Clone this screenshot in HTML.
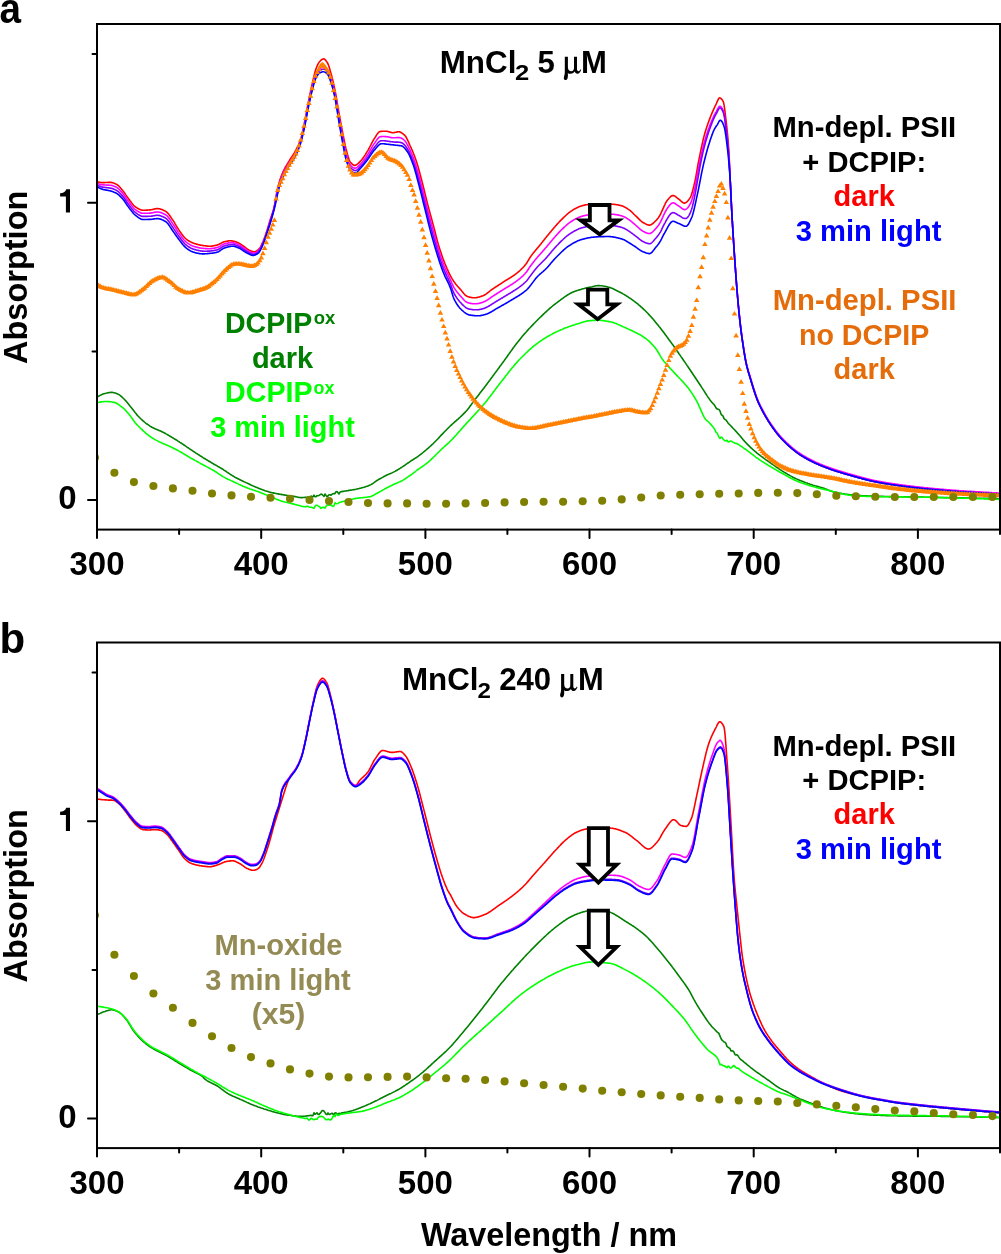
<!DOCTYPE html>
<html><head><meta charset="utf-8"><title>Absorption spectra</title><style>
html,body{margin:0;padding:0;background:#fff;}
body{width:1001px;height:1254px;overflow:hidden;}
svg{display:block;will-change:transform;}
text{font-family:"Liberation Sans", sans-serif;font-weight:bold;fill:#000;}
.t42{font-size:42px;}
.t32{font-size:32.5px;}
.t33{font-size:33px;}
.t31{font-size:31px;}
.t29{font-size:29px;}
.sub{font-size:21px;}
.sup{font-size:19px;}
.mu{font-weight:normal;}
</style></head>
<body><svg width="1001" height="1254" viewBox="0 0 1001 1254"><defs><clipPath id="ca"><rect x="98" y="25" width="901" height="503.6"/></clipPath><clipPath id="cb"><rect x="98" y="643.5" width="901" height="503.6"/></clipPath></defs><g clip-path="url(#ca)" fill="none" stroke-width="1.6" stroke-linejoin="round"><path d="M97,181.6 97.5,181.7 98,181.9 98.5,182 99,182.1 99.5,182.3 100,182.4 100.5,182.5 101,182.5 101.5,182.6 102,182.6 102.5,182.6 103,182.6 103.5,182.6 104,182.6 104.5,182.6 105,182.5 105.5,182.5 106,182.5 106.5,182.5 107,182.5 107.5,182.5 108,182.4 108.5,182.4 109,182.4 109.5,182.4 110,182.4 110.5,182.4 111,182.4 111.5,182.5 112,182.6 112.5,182.7 113,182.8 113.5,183 114,183.2 114.5,183.4 115,183.6 115.5,183.9 116,184.1 116.5,184.4 117,184.6 117.5,185 118,185.3 118.5,185.8 119,186.3 119.5,186.8 120,187.3 120.5,187.9 121,188.5 121.5,189.1 122,189.7 122.5,190.3 123,190.9 123.5,191.5 124,192.2 124.5,192.9 125,193.6 125.5,194.4 126,195.1 126.5,195.9 127,196.6 127.5,197.3 128,198 128.5,198.7 129,199.3 129.5,200 130,200.7 130.5,201.3 131,202 131.5,202.7 132,203.3 132.5,204 133,204.6 133.5,205.2 134,205.7 134.5,206.2 135,206.6 135.5,207 136,207.3 136.5,207.6 137,207.9 137.5,208.2 138,208.5 138.5,208.8 139,209.1 139.5,209.3 140,209.5 140.5,209.7 141,209.9 141.5,210 142,210.1 142.5,210.2 143,210.2 143.5,210.2 144,210.2 144.5,210.2 145,210.2 145.5,210.2 146,210.1 146.5,210.1 147,210.1 147.5,210.1 148,210 148.5,210 149,210 149.5,209.9 150,209.9 150.5,209.9 151,209.8 151.5,209.7 152,209.6 152.5,209.5 153,209.4 153.5,209.3 154,209.1 154.5,209 155,208.9 155.5,208.8 156,208.7 156.5,208.6 157,208.6 157.5,208.6 158,208.6 158.5,208.7 159,208.7 159.5,208.8 160,209 160.5,209.1 161,209.2 161.5,209.4 162,209.6 162.5,209.8 163,210 163.5,210.3 164,210.5 164.5,210.8 165,211 165.5,211.3 166,211.6 166.5,211.9 167,212.4 167.5,212.8 168,213.4 168.5,214 169,214.6 169.5,215.3 170,216 170.5,216.7 171,217.5 171.5,218.2 172,219 172.5,219.7 173,220.4 173.5,221.1 174,221.9 174.5,222.7 175,223.6 175.5,224.4 176,225.3 176.5,226.1 177,227 177.5,227.8 178,228.6 178.5,229.4 179,230.1 179.5,230.9 180,231.6 180.5,232.3 181,233 181.5,233.7 182,234.4 182.5,235.1 183,235.7 183.5,236.3 184,236.9 184.5,237.5 185,238 185.5,238.5 186,238.9 186.5,239.3 187,239.7 187.5,240 188,240.4 188.5,240.7 189,241 189.5,241.3 190,241.6 190.5,241.9 191,242.1 191.5,242.4 192,242.6 192.5,242.8 193,243 193.5,243.2 194,243.3 194.5,243.5 195,243.7 195.5,243.8 196,244 196.5,244.1 197,244.3 197.5,244.4 198,244.5 198.5,244.7 199,244.8 199.5,244.9 200,245 200.5,245.1 201,245.2 201.5,245.3 202,245.4 202.5,245.4 203,245.5 203.5,245.6 204,245.7 204.5,245.7 205,245.8 205.5,245.9 206,245.9 206.5,246 207,246 207.5,246.1 208,246.1 208.5,246.2 209,246.2 209.5,246.2 210,246.2 210.5,246.2 211,246.2 211.5,246.1 212,246.1 212.5,246 213,245.9 213.5,245.8 214,245.7 214.5,245.6 215,245.5 215.5,245.4 216,245.3 216.5,245.2 217,245 217.5,244.9 218,244.7 218.5,244.5 219,244.3 219.5,244.1 220,243.8 220.5,243.5 221,243.2 221.5,242.9 222,242.7 222.5,242.4 223,242.2 223.5,242 224,241.8 224.5,241.7 225,241.6 225.5,241.5 226,241.4 226.5,241.2 227,241.2 227.5,241.1 228,241 228.5,240.9 229,240.9 229.5,240.8 230,240.8 230.5,240.8 231,240.8 231.5,240.9 232,240.9 232.5,241 233,241.1 233.5,241.2 234,241.3 234.5,241.5 235,241.6 235.5,241.7 236,241.9 236.5,242 237,242.2 237.5,242.4 238,242.6 238.5,242.9 239,243.2 239.5,243.5 240,243.8 240.5,244.1 241,244.5 241.5,244.8 242,245.1 242.5,245.5 243,245.8 243.5,246.1 244,246.5 244.5,246.8 245,247.2 245.5,247.6 246,248 246.5,248.4 247,248.8 247.5,249.2 248,249.5 248.5,249.8 249,250.1 249.5,250.4 250,250.6 250.5,250.8 251,251 251.5,251.2 252,251.3 252.5,251.5 253,251.6 253.5,251.7 254,251.8 254.5,251.8 255,251.7 255.5,251.6 256,251.3 256.5,251 257,250.6 257.5,250.2 258,249.8 258.5,249.3 259,248.8 259.5,248.3 260,247.6 260.5,246.8 261,245.8 261.5,244.8 262,243.7 262.5,242.7 263,241.6 263.5,240.4 264,239.1 264.5,237.8 265,236.5 265.5,235 266,233.6 266.5,232.1 267,230.5 267.5,228.9 268,227.2 268.5,225.5 269,223.8 269.5,222.1 270,220.4 270.5,218.8 271,217.3 271.5,215.8 272,214.3 272.5,212.8 273,211.1 273.5,209.4 274,207.4 274.5,205 275,202.3 275.5,199.4 276,196.5 276.5,193.6 277,191 277.5,188.6 278,186.7 278.5,184.8 279,183.1 279.5,181.4 280,179.8 280.5,178.3 281,176.9 281.5,175.6 282,174.3 282.5,173.1 283,171.9 283.5,170.9 284,169.8 284.5,168.9 285,167.9 285.5,167 286,166.2 286.5,165.3 287,164.5 287.5,163.6 288,162.8 288.5,162 289,161.2 289.5,160.3 290,159.5 290.5,158.8 291,158 291.5,157.2 292,156.5 292.5,155.7 293,155 293.5,154.2 294,153.4 294.5,152.6 295,151.7 295.5,150.8 296,149.9 296.5,148.9 297,147.9 297.5,146.9 298,145.9 298.5,144.8 299,143.6 299.5,142.4 300,141 300.5,139.6 301,138 301.5,136.1 302,134.1 302.5,131.8 303,129.5 303.5,127.1 304,124.6 304.5,122.2 305,119.7 305.5,117.2 306,114.5 306.5,111.8 307,109.1 307.5,106.4 308,103.8 308.5,101.3 309,98.8 309.5,96.4 310,94 310.5,91.6 311,89.3 311.5,87 312,84.8 312.5,82.6 313,80.4 313.5,78.1 314,76 314.5,73.9 315,72 315.5,70.3 316,68.8 316.5,67.5 317,66.3 317.5,65.2 318,64.1 318.5,63.2 319,62.4 319.5,61.7 320,61.2 320.5,60.7 321,60.2 321.5,59.8 322,59.5 322.5,59.2 323,59 323.5,58.9 324,59 324.5,59.2 325,59.6 325.5,60.1 326,60.7 326.5,61.4 327,62.2 327.5,63 328,63.9 328.5,65.2 329,66.6 329.5,68.2 330,69.9 330.5,71.7 331,73.5 331.5,75.3 332,77.1 332.5,79.1 333,81.2 333.5,83.4 334,85.6 334.5,87.9 335,90.3 335.5,92.8 336,95.5 336.5,98.4 337,101.3 337.5,104.3 338,107.3 338.5,110.2 339,113.1 339.5,115.8 340,118.6 340.5,121.3 341,124 341.5,126.7 342,129.3 342.5,131.9 343,134.4 343.5,137 344,139.5 344.5,142 345,144.4 345.5,146.7 346,148.9 346.5,150.8 347,152.6 347.5,154.4 348,156.2 348.5,157.8 349,159.3 349.5,160.6 350,161.6 350.5,162.3 351,162.9 351.5,163.4 352,163.9 352.5,164.4 353,164.7 353.5,165 354,165.3 354.5,165.4 355,165.4 355.5,165.3 356,165.1 356.5,164.8 357,164.4 357.5,164 358,163.6 358.5,163.1 359,162.6 359.5,162.1 360,161.6 360.5,161.1 361,160.6 361.5,160 362,159.4 362.5,158.7 363,158 363.5,157.3 364,156.6 364.5,155.8 365,155.1 365.5,154.3 366,153.5 366.5,152.7 367,151.9 367.5,151.1 368,150.3 368.5,149.4 369,148.5 369.5,147.5 370,146.5 370.5,145.5 371,144.6 371.5,143.6 372,142.6 372.5,141.7 373,140.8 373.5,140 374,139.2 374.5,138.4 375,137.6 375.5,136.8 376,136 376.5,135.2 377,134.4 377.5,133.7 378,133 378.5,132.5 379,132 379.5,131.7 380,131.5 380.5,131.5 381,131.4 381.5,131.4 382,131.3 382.5,131.3 383,131.3 383.5,131.3 384,131.2 384.5,131.2 385,131.2 385.5,131.2 386,131.2 386.5,131.2 387,131.3 387.5,131.4 388,131.5 388.5,131.7 389,131.8 389.5,132 390,132.1 390.5,132.3 391,132.4 391.5,132.5 392,132.6 392.5,132.7 393,132.7 393.5,132.7 394,132.6 394.5,132.5 395,132.4 395.5,132.3 396,132.2 396.5,132.1 397,132 397.5,131.9 398,131.8 398.5,131.8 399,131.8 399.5,131.9 400,132 400.5,132.2 401,132.5 401.5,132.8 402,133.1 402.5,133.4 403,133.8 403.5,134.2 404,134.7 404.5,135.1 405,135.6 405.5,136.3 406,137 406.5,137.9 407,138.9 407.5,139.9 408,141 408.5,142.1 409,143.2 409.5,144.4 410,145.5 410.5,146.5 411,147.6 411.5,148.8 412,149.9 412.5,151.1 413,152.3 413.5,153.5 414,154.7 414.5,156 415,157.4 415.5,158.8 416,160.2 416.5,161.7 417,163.3 417.5,164.9 418,166.6 418.5,168.4 419,170.2 419.5,172 420,173.9 420.5,175.8 421,177.7 421.5,179.5 422,181.4 422.5,183.4 423,185.4 423.5,187.4 424,189.5 424.5,191.5 425,193.6 425.5,195.7 426,197.7 426.5,199.7 427,201.7 427.5,203.7 428,205.6 428.5,207.5 429,209.4 429.5,211.2 430,213 430.5,214.9 431,216.7 431.5,218.5 432,220.4 432.5,222.2 433,224.1 433.5,225.9 434,227.9 434.5,229.8 435,231.8 435.5,233.8 436,235.7 436.5,237.7 437,239.6 437.5,241.4 438,243.2 438.5,245 439,246.6 439.5,248.2 440,249.8 440.5,251.3 441,252.8 441.5,254.3 442,255.7 442.5,257.2 443,258.6 443.5,259.9 444,261.2 444.5,262.5 445,263.8 445.5,265 446,266.2 446.5,267.3 447,268.5 447.5,269.6 448,270.7 448.5,271.8 449,272.8 449.5,273.9 450,274.9 450.5,275.9 451,276.8 451.5,277.7 452,278.6 452.5,279.4 453,280.2 453.5,281 454,281.7 454.5,282.4 455,283.1 455.5,283.7 456,284.4 456.5,285 457,285.6 457.5,286.2 458,286.7 458.5,287.3 459,287.8 459.5,288.4 460,288.9 460.5,289.5 461,290.1 461.5,290.7 462,291.3 462.5,291.9 463,292.6 463.5,293.2 464,293.8 464.5,294.3 465,294.9 465.5,295.3 466,295.7 466.5,296.1 467,296.3 467.5,296.5 468,296.7 468.5,296.8 469,297 469.5,297.1 470,297.2 470.5,297.3 471,297.4 471.5,297.5 472,297.6 472.5,297.7 473,297.7 473.5,297.8 474,297.8 474.5,297.8 475,297.8 475.5,297.7 476,297.7 476.5,297.6 477,297.5 477.5,297.4 478,297.3 478.5,297.2 479,297.1 479.5,296.9 480,296.8 480.5,296.6 481,296.4 481.5,296.3 482,296.1 482.5,295.9 483,295.7 483.5,295.5 484,295.3 484.5,295 485,294.7 485.5,294.4 486,294.1 486.5,293.7 487,293.3 487.5,293 488,292.6 488.5,292.2 489,291.8 489.5,291.4 490,291 490.5,290.6 491,290.2 491.5,289.8 492,289.5 492.5,289.1 493,288.8 493.5,288.5 494,288.1 494.5,287.8 495,287.5 495.5,287.1 496,286.8 496.5,286.5 497,286.2 497.5,285.8 498,285.5 498.5,285.2 499,284.8 499.5,284.5 500,284.2 500.5,283.9 501,283.5 501.5,283.2 502,282.9 502.5,282.6 503,282.2 503.5,281.9 504,281.6 504.5,281.3 505,280.9 505.5,280.6 506,280.3 506.5,280 507,279.7 507.5,279.4 508,279.1 508.5,278.8 509,278.5 509.5,278.2 510,277.9 510.5,277.6 511,277.3 511.5,277 512,276.6 512.5,276.3 513,276 513.5,275.6 514,275.3 514.5,275 515,274.6 515.5,274.2 516,273.8 516.5,273.4 517,273 517.5,272.6 518,272.2 518.5,271.8 519,271.4 519.5,270.9 520,270.5 520.5,270 521,269.5 521.5,269 522,268.5 522.5,268 523,267.5 523.5,267 524,266.4 524.5,265.8 525,265.2 525.5,264.6 526,264 526.5,263.3 527,262.5 527.5,261.7 528,260.8 528.5,260 529,259.1 529.5,258.3 530,257.5 530.5,256.8 531,256.1 531.5,255.4 532,254.7 532.5,254.1 533,253.5 533.5,252.8 534,252.2 534.5,251.6 535,251 535.5,250.4 536,249.8 536.5,249.2 537,248.6 537.5,248 538,247.4 538.5,246.8 539,246.2 539.5,245.6 540,245 540.5,244.4 541,243.8 541.5,243.1 542,242.5 542.5,241.9 543,241.2 543.5,240.6 544,240 544.5,239.3 545,238.7 545.5,238.1 546,237.5 546.5,236.8 547,236.2 547.5,235.6 548,235 548.5,234.4 549,233.8 549.5,233.2 550,232.6 550.5,232 551,231.4 551.5,230.8 552,230.2 552.5,229.6 553,229 553.5,228.4 554,227.8 554.5,227.2 555,226.7 555.5,226.1 556,225.5 556.5,224.9 557,224.4 557.5,223.8 558,223.2 558.5,222.7 559,222.2 559.5,221.6 560,221.1 560.5,220.6 561,220.1 561.5,219.6 562,219.1 562.5,218.6 563,218.1 563.5,217.6 564,217.1 564.5,216.7 565,216.2 565.5,215.7 566,215.2 566.5,214.8 567,214.3 567.5,213.9 568,213.5 568.5,213.1 569,212.7 569.5,212.3 570,211.9 570.5,211.5 571,211.2 571.5,210.9 572,210.6 572.5,210.2 573,209.9 573.5,209.6 574,209.3 574.5,209.1 575,208.8 575.5,208.5 576,208.2 576.5,208 577,207.7 577.5,207.5 578,207.2 578.5,207 579,206.8 579.5,206.6 580,206.4 580.5,206.2 581,206.1 581.5,205.9 582,205.8 582.5,205.6 583,205.5 583.5,205.4 584,205.3 584.5,205.1 585,205 585.5,204.9 586,204.8 586.5,204.7 587,204.7 587.5,204.6 588,204.5 588.5,204.5 589,204.4 589.5,204.4 590,204.4 590.5,204.3 591,204.3 591.5,204.2 592,204.2 592.5,204.2 593,204.1 593.5,204.1 594,204.1 594.5,204.1 595,204 595.5,204 596,204 596.5,204 597,203.9 597.5,203.9 598,203.9 598.5,203.9 599,203.9 599.5,203.9 600,203.9 600.5,203.9 601,203.9 601.5,203.9 602,203.9 602.5,203.9 603,203.9 603.5,203.9 604,203.9 604.5,204 605,204 605.5,204 606,204 606.5,204 607,204 607.5,204 608,204.1 608.5,204.1 609,204.1 609.5,204.1 610,204.1 610.5,204.2 611,204.2 611.5,204.2 612,204.2 612.5,204.3 613,204.3 613.5,204.3 614,204.4 614.5,204.4 615,204.5 615.5,204.5 616,204.6 616.5,204.7 617,204.8 617.5,204.8 618,204.9 618.5,205 619,205.2 619.5,205.3 620,205.4 620.5,205.5 621,205.6 621.5,205.8 622,205.9 622.5,206.1 623,206.3 623.5,206.5 624,206.8 624.5,207 625,207.3 625.5,207.5 626,207.8 626.5,208.1 627,208.4 627.5,208.7 628,209.1 628.5,209.4 629,209.7 629.5,210.1 630,210.4 630.5,210.9 631,211.3 631.5,211.7 632,212.2 632.5,212.7 633,213.2 633.5,213.7 634,214.2 634.5,214.7 635,215.2 635.5,215.7 636,216.1 636.5,216.6 637,217.1 637.5,217.6 638,218.1 638.5,218.6 639,219.1 639.5,219.6 640,220.1 640.5,220.6 641,221 641.5,221.5 642,221.8 642.5,222.2 643,222.5 643.5,222.8 644,223.1 644.5,223.3 645,223.6 645.5,223.9 646,224.1 646.5,224.4 647,224.6 647.5,224.7 648,224.9 648.5,225 649,225.1 649.5,225.1 650,225.1 650.5,224.9 651,224.7 651.5,224.5 652,224.1 652.5,223.8 653,223.4 653.5,222.9 654,222.4 654.5,222 655,221.5 655.5,221 656,220.5 656.5,220 657,219.4 657.5,218.8 658,218.2 658.5,217.5 659,216.7 659.5,216 660,215.1 660.5,214.2 661,213.1 661.5,212 662,210.9 662.5,209.8 663,208.7 663.5,207.6 664,206.4 664.5,205.3 665,204.3 665.5,203.2 666,202.3 666.5,201.5 667,200.8 667.5,200.1 668,199.5 668.5,198.9 669,198.3 669.5,197.8 670,197.2 670.5,196.7 671,196.3 671.5,196 672,195.7 672.5,195.6 673,195.5 673.5,195.6 674,195.7 674.5,195.9 675,196.2 675.5,196.6 676,196.9 676.5,197.4 677,197.8 677.5,198.2 678,198.6 678.5,199 679,199.3 679.5,199.7 680,200.1 680.5,200.6 681,201.1 681.5,201.5 682,202 682.5,202.3 683,202.7 683.5,202.9 684,203.1 684.5,203.1 685,203 685.5,202.8 686,202.6 686.5,202.2 687,201.8 687.5,201.2 688,200.7 688.5,200 689,199.4 689.5,198.6 690,197.9 690.5,197.1 691,196 691.5,194.6 692,193.1 692.5,191.3 693,189.4 693.5,187.4 694,185.4 694.5,183.3 695,181.1 695.5,178.6 696,175.9 696.5,173.1 697,170.2 697.5,167.3 698,164.5 698.5,161.8 699,159.3 699.5,156.8 700,154.4 700.5,151.9 701,149.5 701.5,147.1 702,144.8 702.5,142.6 703,140.4 703.5,138.3 704,136.4 704.5,134.5 705,132.7 705.5,131.1 706,129.4 706.5,127.9 707,126.3 707.5,124.9 708,123.4 708.5,122.1 709,120.7 709.5,119.4 710,118.1 710.5,116.8 711,115.5 711.5,114.3 712,113.1 712.5,111.9 713,110.8 713.5,109.7 714,108.6 714.5,107.5 715,106.4 715.5,105.4 716,104.4 716.5,103.3 717,102.1 717.5,100.9 718,99.8 718.5,98.9 719,98.2 719.5,97.9 720,98 720.5,98.2 721,98.5 721.5,99 722,99.6 722.5,100.3 723,101.1 723.5,102.3 724,104.6 724.5,107.8 725,111.7 725.5,116 726,120.2 726.5,124.4 727,129 727.5,134 728,139.6 728.5,146 729,153.3 729.5,163.7 730,175.6 730.5,186.4 731,196.9 731.5,206.8 732,215.9 732.5,224.5 733,232.7 733.5,240.7 734,248.5 734.5,256.1 735,263.4 735.5,270.4 736,277.3 736.5,283.9 737,290.2 737.5,296.2 738,301.8 738.5,307.2 739,312.4 739.5,317.3 740,321.9 740.5,326.3 741,330.4 741.5,334.3 742,337.9 742.5,341.4 743,344.8 743.5,348.1 744,351.3 744.5,354.4 745,357.3 745.5,360.1 746,362.6 746.5,364.9 747,367 747.5,368.9 748,370.7 748.5,372.4 749,374.1 749.5,375.7 750,377.4 750.5,379 751,380.7 751.5,382.4 752,384 752.5,385.7 753,387.3 753.5,388.9 754,390.5 754.5,392 755,393.5 755.5,394.9 756,396.4 756.5,397.8 757,399.1 757.5,400.4 758,401.6 758.5,402.8 759,403.9 759.5,405 760,406 760.5,407 761,408 761.5,409 762,410 762.5,410.9 763,411.8 763.5,412.8 764,413.7 764.5,414.6 765,415.4 765.5,416.3 766,417.2 766.5,418 767,418.9 767.5,419.7 768,420.5 768.5,421.3 769,422.1 769.5,422.9 770,423.7 770.5,424.4 771,425.2 771.5,425.9 772,426.6 772.5,427.3 773,428 773.5,428.7 774,429.4 774.5,430.1 775,430.8 775.5,431.5 776,432.1 776.5,432.8 777,433.4 777.5,434 778,434.7 778.5,435.3 779,435.9 779.5,436.5 780,437 780.5,437.6 781,438.2 781.5,438.7 782,439.2 782.5,439.8 783,440.3 783.5,440.8 784,441.3 784.5,441.8 785,442.3 785.5,442.8 786,443.3 786.5,443.8 787,444.2 787.5,444.7 788,445.2 788.5,445.6 789,446.1 789.5,446.5 790,446.9 790.5,447.4 791,447.8 791.5,448.2 792,448.7 792.5,449.1 793,449.5 793.5,449.9 794,450.3 794.5,450.7 795,451.1 795.5,451.5 796,451.9 796.5,452.3 797,452.6 797.5,453 798,453.4 798.5,453.7 799,454 799.5,454.4 800,454.7 800.5,455 801,455.4 801.5,455.7 802,456 802.5,456.3 803,456.6 803.5,456.9 804,457.2 804.5,457.5 805,457.8 805.5,458 806,458.3 806.5,458.6 807,458.9 807.5,459.2 808,459.4 808.5,459.7 809,460 809.5,460.2 810,460.5 810.5,460.8 811,461 811.5,461.3 812,461.5 812.5,461.8 813,462 813.5,462.3 814,462.5 814.5,462.7 815,463 815.5,463.2 816,463.4 816.5,463.6 817,463.9 817.5,464.1 818,464.3 818.5,464.5 819,464.7 819.5,465 820,465.2 820.5,465.4 821,465.6 821.5,465.8 822,466 822.5,466.2 823,466.4 823.5,466.6 824,466.8 824.5,467 825,467.2 825.5,467.4 826,467.6 826.5,467.8 827,467.9 827.5,468.1 828,468.3 828.5,468.5 829,468.7 829.5,468.9 830,469 830.5,469.2 831,469.4 831.5,469.6 832,469.7 832.5,469.9 833,470.1 833.5,470.2 834,470.4 834.5,470.6 835,470.7 835.5,470.9 836,471.1 836.5,471.2 837,471.4 837.5,471.5 838,471.7 838.5,471.8 839,472 839.5,472.2 840,472.3 840.5,472.5 841,472.6 841.5,472.8 842,472.9 842.5,473.1 843,473.2 843.5,473.4 844,473.5 844.5,473.7 845,473.8 845.5,474 846,474.1 846.5,474.3 847,474.4 847.5,474.5 848,474.7 848.5,474.8 849,475 849.5,475.1 850,475.3 850.5,475.4 851,475.5 851.5,475.7 852,475.8 852.5,476 853,476.1 853.5,476.2 854,476.4 854.5,476.5 855,476.7 855.5,476.8 856,476.9 856.5,477.1 857,477.2 857.5,477.4 858,477.5 858.5,477.6 859,477.8 859.5,477.9 860,478.1 860.5,478.2 861,478.3 861.5,478.5 862,478.6 862.5,478.7 863,478.9 863.5,479 864,479.1 864.5,479.3 865,479.4 865.5,479.5 866,479.7 866.5,479.8 867,479.9 867.5,480 868,480.2 868.5,480.3 869,480.4 869.5,480.5 870,480.6 870.5,480.8 871,480.9 871.5,481 872,481.1 872.5,481.2 873,481.3 873.5,481.4 874,481.5 874.5,481.6 875,481.7 875.5,481.8 876,481.9 876.5,482 877,482.1 877.5,482.2 878,482.3 878.5,482.4 879,482.5 879.5,482.6 880,482.7 880.5,482.8 881,482.9 881.5,483 882,483 882.5,483.1 883,483.2 883.5,483.3 884,483.4 884.5,483.5 885,483.6 885.5,483.6 886,483.7 886.5,483.8 887,483.9 887.5,484 888,484 888.5,484.1 889,484.2 889.5,484.3 890,484.4 890.5,484.4 891,484.5 891.5,484.6 892,484.7 892.5,484.7 893,484.8 893.5,484.9 894,485 894.5,485 895,485.1 895.5,485.2 896,485.3 896.5,485.3 897,485.4 897.5,485.5 898,485.5 898.5,485.6 899,485.7 899.5,485.8 900,485.8 900.5,485.9 901,486 901.5,486 902,486.1 902.5,486.2 903,486.2 903.5,486.3 904,486.4 904.5,486.4 905,486.5 905.5,486.6 906,486.6 906.5,486.7 907,486.7 907.5,486.8 908,486.9 908.5,486.9 909,487 909.5,487.1 910,487.1 910.5,487.2 911,487.2 911.5,487.3 912,487.4 912.5,487.4 913,487.5 913.5,487.5 914,487.6 914.5,487.6 915,487.7 915.5,487.8 916,487.8 916.5,487.9 917,487.9 917.5,488 918,488 918.5,488.1 919,488.1 919.5,488.2 920,488.3 920.5,488.3 921,488.4 921.5,488.4 922,488.5 922.5,488.5 923,488.6 923.5,488.6 924,488.7 924.5,488.7 925,488.8 925.5,488.8 926,488.9 926.5,488.9 927,489 927.5,489 928,489.1 928.5,489.1 929,489.2 929.5,489.2 930,489.3 930.5,489.3 931,489.4 931.5,489.4 932,489.5 932.5,489.5 933,489.6 933.5,489.6 934,489.6 934.5,489.7 935,489.7 935.5,489.8 936,489.8 936.5,489.9 937,489.9 937.5,490 938,490 938.5,490.1 939,490.1 939.5,490.1 940,490.2 940.5,490.2 941,490.3 941.5,490.3 942,490.4 942.5,490.4 943,490.4 943.5,490.5 944,490.5 944.5,490.6 945,490.6 945.5,490.7 946,490.7 946.5,490.7 947,490.8 947.5,490.8 948,490.9 948.5,490.9 949,490.9 949.5,491 950,491 950.5,491.1 951,491.1 951.5,491.1 952,491.2 952.5,491.2 953,491.2 953.5,491.3 954,491.3 954.5,491.4 955,491.4 955.5,491.4 956,491.5 956.5,491.5 957,491.5 957.5,491.6 958,491.6 958.5,491.6 959,491.7 959.5,491.7 960,491.8 960.5,491.8 961,491.8 961.5,491.9 962,491.9 962.5,491.9 963,491.9 963.5,492 964,492 964.5,492 965,492.1 965.5,492.1 966,492.1 966.5,492.2 967,492.2 967.5,492.2 968,492.3 968.5,492.3 969,492.3 969.5,492.4 970,492.4 970.5,492.4 971,492.4 971.5,492.5 972,492.5 972.5,492.5 973,492.6 973.5,492.6 974,492.6 974.5,492.6 975,492.7 975.5,492.7 976,492.7 976.5,492.8 977,492.8 977.5,492.8 978,492.9 978.5,492.9 979,492.9 979.5,492.9 980,493 980.5,493 981,493 981.5,493.1 982,493.1 982.5,493.1 983,493.1 983.5,493.2 984,493.2 984.5,493.2 985,493.3 985.5,493.3 986,493.3 986.5,493.3 987,493.4 987.5,493.4 988,493.4 988.5,493.5 989,493.5 989.5,493.5 990,493.5 990.5,493.6 991,493.6 991.5,493.6 992,493.7 992.5,493.7 993,493.7 993.5,493.7 994,493.8 994.5,493.8 995,493.8 995.5,493.9 996,493.9 996.5,493.9 997,493.9 997.5,494 998,494 998.5,494 999,494 999.5,494.1 1000,494.1" stroke="#ff0000"/><path d="M97,183.3 97.5,183.4 98,183.6 98.5,183.8 99,184 99.5,184.2 100,184.3 100.5,184.5 101,184.6 101.5,184.7 102,184.8 102.5,184.8 103,184.9 103.5,184.9 104,184.9 104.5,185 105,185 105.5,185 106,185 106.5,185 107,185.1 107.5,185.1 108,185.1 108.5,185.1 109,185.1 109.5,185.2 110,185.2 110.5,185.2 111,185.3 111.5,185.4 112,185.5 112.5,185.6 113,185.8 113.5,186 114,186.2 114.5,186.4 115,186.6 115.5,186.8 116,187.1 116.5,187.3 117,187.6 117.5,188 118,188.3 118.5,188.8 119,189.2 119.5,189.7 120,190.3 120.5,190.8 121,191.4 121.5,191.9 122,192.5 122.5,193.1 123,193.7 123.5,194.3 124,195 124.5,195.7 125,196.4 125.5,197.2 126,197.9 126.5,198.6 127,199.4 127.5,200.1 128,200.8 128.5,201.5 129,202.1 129.5,202.8 130,203.5 130.5,204.1 131,204.8 131.5,205.5 132,206.1 132.5,206.7 133,207.3 133.5,207.9 134,208.5 134.5,209 135,209.4 135.5,209.8 136,210.1 136.5,210.5 137,210.8 137.5,211.1 138,211.4 138.5,211.7 139,212 139.5,212.3 140,212.6 140.5,212.8 141,213 141.5,213.1 142,213.2 142.5,213.3 143,213.3 143.5,213.3 144,213.3 144.5,213.3 145,213.3 145.5,213.3 146,213.3 146.5,213.3 147,213.2 147.5,213.2 148,213.2 148.5,213.2 149,213.2 149.5,213.1 150,213.1 150.5,213.1 151,213 151.5,212.9 152,212.9 152.5,212.8 153,212.7 153.5,212.5 154,212.4 154.5,212.3 155,212.2 155.5,212.1 156,212.1 156.5,212 157,212 157.5,212 158,212 158.5,212 159,212.1 159.5,212.2 160,212.3 160.5,212.5 161,212.6 161.5,212.8 162,213 162.5,213.2 163,213.5 163.5,213.7 164,213.9 164.5,214.2 165,214.5 165.5,214.7 166,215 166.5,215.4 167,215.8 167.5,216.3 168,216.9 168.5,217.5 169,218.2 169.5,218.9 170,219.6 170.5,220.4 171,221.1 171.5,221.9 172,222.6 172.5,223.3 173,224.1 173.5,224.8 174,225.5 174.5,226.3 175,227.1 175.5,227.9 176,228.7 176.5,229.6 177,230.4 177.5,231.2 178,231.9 178.5,232.7 179,233.4 179.5,234 180,234.7 180.5,235.4 181,236.1 181.5,236.8 182,237.5 182.5,238.2 183,238.8 183.5,239.4 184,240 184.5,240.5 185,241 185.5,241.5 186,241.9 186.5,242.3 187,242.7 187.5,243.1 188,243.4 188.5,243.8 189,244.1 189.5,244.4 190,244.7 190.5,244.9 191,245.2 191.5,245.4 192,245.7 192.5,245.9 193,246.1 193.5,246.2 194,246.4 194.5,246.6 195,246.7 195.5,246.9 196,247 196.5,247.1 197,247.3 197.5,247.4 198,247.5 198.5,247.6 199,247.8 199.5,247.9 200,248 200.5,248 201,248.1 201.5,248.2 202,248.3 202.5,248.3 203,248.4 203.5,248.4 204,248.5 204.5,248.5 205,248.5 205.5,248.6 206,248.6 206.5,248.6 207,248.6 207.5,248.7 208,248.7 208.5,248.7 209,248.7 209.5,248.7 210,248.7 210.5,248.6 211,248.6 211.5,248.6 212,248.5 212.5,248.4 213,248.4 213.5,248.3 214,248.2 214.5,248.1 215,248 215.5,247.9 216,247.8 216.5,247.6 217,247.5 217.5,247.4 218,247.2 218.5,247 219,246.7 219.5,246.5 220,246.2 220.5,245.9 221,245.5 221.5,245.2 222,244.9 222.5,244.7 223,244.4 223.5,244.2 224,244 224.5,243.8 225,243.7 225.5,243.6 226,243.5 226.5,243.3 227,243.2 227.5,243.1 228,243 228.5,242.9 229,242.9 229.5,242.8 230,242.8 230.5,242.7 231,242.7 231.5,242.7 232,242.7 232.5,242.8 233,242.9 233.5,242.9 234,243 234.5,243.2 235,243.3 235.5,243.4 236,243.6 236.5,243.8 237,243.9 237.5,244.1 238,244.4 238.5,244.6 239,244.9 239.5,245.1 240,245.4 240.5,245.8 241,246.1 241.5,246.4 242,246.8 242.5,247.1 243,247.5 243.5,247.8 244,248.1 244.5,248.5 245,248.8 245.5,249.2 246,249.6 246.5,249.9 247,250.2 247.5,250.6 248,250.9 248.5,251.2 249,251.5 249.5,251.7 250,252 250.5,252.2 251,252.4 251.5,252.5 252,252.7 252.5,252.8 253,252.9 253.5,253 254,253 254.5,253 255,252.9 255.5,252.7 256,252.5 256.5,252.2 257,251.8 257.5,251.4 258,251 258.5,250.6 259,250 259.5,249.5 260,248.7 260.5,247.9 261,246.9 261.5,245.9 262,244.8 262.5,243.7 263,242.6 263.5,241.4 264,240.1 264.5,238.8 265,237.3 265.5,235.9 266,234.4 266.5,232.9 267,231.4 267.5,229.8 268,228.2 268.5,226.6 269,224.9 269.5,223.3 270,221.7 270.5,220.1 271,218.5 271.5,216.9 272,215.4 272.5,213.7 273,212 273.5,210.2 274,208.3 274.5,206 275,203.6 275.5,200.9 276,198.2 276.5,195.5 277,193 277.5,190.6 278,188.6 278.5,186.6 279,184.8 279.5,183.1 280,181.5 280.5,180 281,178.6 281.5,177.3 282,176 282.5,174.8 283,173.7 283.5,172.6 284,171.6 284.5,170.6 285,169.7 285.5,168.7 286,167.8 286.5,167 287,166.1 287.5,165.3 288,164.5 288.5,163.7 289,162.8 289.5,162 290,161.3 290.5,160.6 291,159.8 291.5,159.1 292,158.4 292.5,157.7 293,157 293.5,156.2 294,155.5 294.5,154.7 295,153.8 295.5,152.9 296,152 296.5,151 297,150 297.5,149 298,147.9 298.5,146.7 299,145.5 299.5,144.2 300,142.8 300.5,141.4 301,139.8 301.5,138 302,136 302.5,133.9 303,131.7 303.5,129.5 304,127.2 304.5,124.9 305,122.4 305.5,119.9 306,117.2 306.5,114.5 307,111.8 307.5,109.2 308,106.6 308.5,104.2 309,101.8 309.5,99.5 310,97.2 310.5,95 311,92.8 311.5,90.7 312,88.6 312.5,86.6 313,84.6 313.5,82.5 314,80.6 314.5,78.7 315,77 315.5,75.6 316,74.4 316.5,73.3 317,72.3 317.5,71.4 318,70.6 318.5,69.9 319,69.3 319.5,68.8 320,68.4 320.5,68.1 321,67.8 321.5,67.5 322,67.3 322.5,67.1 323,67 323.5,66.9 324,66.9 324.5,67.1 325,67.3 325.5,67.7 326,68.2 326.5,68.7 327,69.2 327.5,69.8 328,70.6 328.5,71.6 329,72.8 329.5,74.2 330,75.7 330.5,77.2 331,78.8 331.5,80.4 332,82.1 332.5,83.9 333,85.8 333.5,87.9 334,90 334.5,92.3 335,94.6 335.5,97.1 336,99.8 336.5,102.7 337,105.7 337.5,108.8 338,111.8 338.5,114.8 339,117.7 339.5,120.5 340,123.3 340.5,126.1 341,128.9 341.5,131.6 342,134.2 342.5,136.8 343,139.3 343.5,141.8 344,144.4 344.5,146.9 345,149.2 345.5,151.5 346,153.5 346.5,155.3 347,156.9 347.5,158.5 348,160.1 348.5,161.5 349,162.8 349.5,163.9 350,164.8 350.5,165.4 351,165.9 351.5,166.3 352,166.8 352.5,167.2 353,167.5 353.5,167.8 354,168 354.5,168.1 355,168.1 355.5,168.1 356,167.9 356.5,167.7 357,167.4 357.5,167 358,166.5 358.5,166 359,165.5 359.5,165 360,164.5 360.5,164 361,163.5 361.5,163 362,162.4 362.5,161.8 363,161.1 363.5,160.5 364,159.8 364.5,159.1 365,158.4 365.5,157.7 366,157 366.5,156.2 367,155.5 367.5,154.8 368,154 368.5,153.2 369,152.3 369.5,151.5 370,150.6 370.5,149.7 371,148.8 371.5,147.9 372,147.1 372.5,146.2 373,145.4 373.5,144.7 374,143.9 374.5,143.3 375,142.6 375.5,141.8 376,141.1 376.5,140.4 377,139.7 377.5,139 378,138.4 378.5,137.9 379,137.4 379.5,137.1 380,136.8 380.5,136.7 381,136.6 381.5,136.6 382,136.5 382.5,136.5 383,136.5 383.5,136.5 384,136.5 384.5,136.5 385,136.6 385.5,136.6 386,136.6 386.5,136.7 387,136.7 387.5,136.8 388,136.9 388.5,137 389,137.1 389.5,137.2 390,137.3 390.5,137.5 391,137.6 391.5,137.6 392,137.7 392.5,137.8 393,137.8 393.5,137.8 394,137.8 394.5,137.8 395,137.8 395.5,137.7 396,137.7 396.5,137.6 397,137.6 397.5,137.6 398,137.5 398.5,137.5 399,137.6 399.5,137.6 400,137.7 400.5,137.9 401,138.1 401.5,138.3 402,138.5 402.5,138.8 403,139.2 403.5,139.6 404,140 404.5,140.5 405,141.1 405.5,141.7 406,142.4 406.5,143.2 407,144.1 407.5,144.9 408,145.9 408.5,146.9 409,147.9 409.5,149 410,150.1 410.5,151.2 411,152.3 411.5,153.5 412,154.6 412.5,155.9 413,157.1 413.5,158.4 414,159.7 414.5,161.1 415,162.6 415.5,164.1 416,165.7 416.5,167.3 417,168.9 417.5,170.7 418,172.4 418.5,174.2 419,176 419.5,177.9 420,179.7 420.5,181.6 421,183.5 421.5,185.4 422,187.3 422.5,189.3 423,191.3 423.5,193.2 424,195.3 424.5,197.3 425,199.3 425.5,201.3 426,203.4 426.5,205.4 427,207.4 427.5,209.3 428,211.3 428.5,213.2 429,215 429.5,216.9 430,218.8 430.5,220.6 431,222.4 431.5,224.3 432,226.1 432.5,227.9 433,229.8 433.5,231.6 434,233.4 434.5,235.3 435,237.2 435.5,239.1 436,240.9 436.5,242.7 437,244.5 437.5,246.3 438,248 438.5,249.7 439,251.3 439.5,252.9 440,254.4 440.5,256 441,257.4 441.5,258.9 442,260.3 442.5,261.7 443,263.1 443.5,264.4 444,265.7 444.5,266.9 445,268.1 445.5,269.2 446,270.4 446.5,271.5 447,272.6 447.5,273.7 448,274.7 448.5,275.8 449,276.9 449.5,277.9 450,279 450.5,280.1 451,281.2 451.5,282.4 452,283.5 452.5,284.6 453,285.7 453.5,286.7 454,287.6 454.5,288.4 455,289.2 455.5,289.9 456,290.6 456.5,291.3 457,292 457.5,292.6 458,293.2 458.5,293.8 459,294.4 459.5,295 460,295.6 460.5,296.1 461,296.6 461.5,297.2 462,297.8 462.5,298.3 463,298.9 463.5,299.4 464,300 464.5,300.5 465,301 465.5,301.4 466,301.8 466.5,302.1 467,302.4 467.5,302.5 468,302.7 468.5,302.9 469,303 469.5,303.2 470,303.3 470.5,303.4 471,303.5 471.5,303.5 472,303.6 472.5,303.7 473,303.7 473.5,303.8 474,303.8 474.5,303.8 475,303.8 475.5,303.8 476,303.8 476.5,303.7 477,303.7 477.5,303.6 478,303.5 478.5,303.5 479,303.4 479.5,303.2 480,303.1 480.5,303 481,302.8 481.5,302.7 482,302.5 482.5,302.4 483,302.2 483.5,302 484,301.8 484.5,301.6 485,301.4 485.5,301.1 486,300.8 486.5,300.5 487,300.2 487.5,299.9 488,299.6 488.5,299.2 489,298.9 489.5,298.5 490,298.2 490.5,297.8 491,297.5 491.5,297.1 492,296.8 492.5,296.4 493,296.1 493.5,295.8 494,295.5 494.5,295.1 495,294.8 495.5,294.5 496,294.2 496.5,293.8 497,293.5 497.5,293.2 498,292.9 498.5,292.6 499,292.3 499.5,292 500,291.6 500.5,291.3 501,291 501.5,290.7 502,290.4 502.5,290.1 503,289.8 503.5,289.4 504,289.1 504.5,288.8 505,288.5 505.5,288.2 506,287.9 506.5,287.6 507,287.3 507.5,287 508,286.7 508.5,286.4 509,286.1 509.5,285.8 510,285.4 510.5,285.1 511,284.8 511.5,284.5 512,284.2 512.5,283.9 513,283.5 513.5,283.2 514,282.9 514.5,282.6 515,282.2 515.5,281.9 516,281.5 516.5,281.1 517,280.8 517.5,280.4 518,280 518.5,279.6 519,279.2 519.5,278.8 520,278.4 520.5,278 521,277.5 521.5,277.1 522,276.7 522.5,276.2 523,275.7 523.5,275.2 524,274.7 524.5,274.2 525,273.7 525.5,273.1 526,272.5 526.5,271.9 527,271.3 527.5,270.5 528,269.8 528.5,269 529,268.2 529.5,267.4 530,266.7 530.5,266 531,265.3 531.5,264.7 532,264 532.5,263.3 533,262.7 533.5,262 534,261.4 534.5,260.8 535,260.1 535.5,259.5 536,258.9 536.5,258.3 537,257.7 537.5,257.2 538,256.6 538.5,256 539,255.4 539.5,254.9 540,254.3 540.5,253.8 541,253.2 541.5,252.6 542,252.1 542.5,251.5 543,250.9 543.5,250.4 544,249.8 544.5,249.2 545,248.6 545.5,248 546,247.5 546.5,246.9 547,246.3 547.5,245.7 548,245.1 548.5,244.5 549,243.9 549.5,243.3 550,242.7 550.5,242.1 551,241.5 551.5,240.9 552,240.3 552.5,239.7 553,239.1 553.5,238.5 554,237.9 554.5,237.3 555,236.8 555.5,236.2 556,235.6 556.5,235.1 557,234.5 557.5,234 558,233.4 558.5,232.9 559,232.4 559.5,231.9 560,231.3 560.5,230.8 561,230.3 561.5,229.8 562,229.3 562.5,228.9 563,228.4 563.5,227.9 564,227.4 564.5,226.9 565,226.5 565.5,226 566,225.6 566.5,225.1 567,224.7 567.5,224.3 568,223.8 568.5,223.5 569,223.1 569.5,222.7 570,222.3 570.5,222 571,221.7 571.5,221.3 572,221 572.5,220.7 573,220.4 573.5,220.1 574,219.8 574.5,219.5 575,219.3 575.5,219 576,218.7 576.5,218.5 577,218.2 577.5,218 578,217.7 578.5,217.5 579,217.3 579.5,217.1 580,216.9 580.5,216.7 581,216.5 581.5,216.4 582,216.2 582.5,216.1 583,216 583.5,215.8 584,215.7 584.5,215.6 585,215.5 585.5,215.4 586,215.3 586.5,215.2 587,215.1 587.5,215 588,214.9 588.5,214.8 589,214.8 589.5,214.7 590,214.7 590.5,214.6 591,214.6 591.5,214.5 592,214.5 592.5,214.4 593,214.4 593.5,214.3 594,214.3 594.5,214.2 595,214.2 595.5,214.2 596,214.2 596.5,214.1 597,214.1 597.5,214.1 598,214.1 598.5,214 599,214 599.5,214 600,214 600.5,214 601,214 601.5,214 602,214 602.5,214 603,214 603.5,214 604,214 604.5,214 605,214 605.5,214 606,214 606.5,214 607,214 607.5,214 608,214 608.5,214 609,214 609.5,214 610,214.1 610.5,214.1 611,214.1 611.5,214.2 612,214.2 612.5,214.2 613,214.3 613.5,214.3 614,214.4 614.5,214.4 615,214.5 615.5,214.6 616,214.6 616.5,214.7 617,214.8 617.5,214.9 618,215 618.5,215.1 619,215.2 619.5,215.3 620,215.4 620.5,215.6 621,215.7 621.5,215.8 622,216 622.5,216.2 623,216.4 623.5,216.6 624,216.8 624.5,217 625,217.3 625.5,217.6 626,217.8 626.5,218.1 627,218.4 627.5,218.7 628,219 628.5,219.4 629,219.7 629.5,220 630,220.4 630.5,220.8 631,221.2 631.5,221.6 632,222 632.5,222.4 633,222.9 633.5,223.3 634,223.7 634.5,224.2 635,224.6 635.5,225 636,225.5 636.5,225.9 637,226.3 637.5,226.8 638,227.2 638.5,227.7 639,228.2 639.5,228.6 640,229.1 640.5,229.5 641,229.9 641.5,230.3 642,230.6 642.5,231 643,231.2 643.5,231.5 644,231.7 644.5,232 645,232.2 645.5,232.5 646,232.7 646.5,232.9 647,233.1 647.5,233.2 648,233.4 648.5,233.5 649,233.5 649.5,233.5 650,233.5 650.5,233.3 651,233.1 651.5,232.8 652,232.4 652.5,232 653,231.5 653.5,231 654,230.5 654.5,229.9 655,229.4 655.5,228.8 656,228.3 656.5,227.8 657,227.2 657.5,226.6 658,225.9 658.5,225.2 659,224.5 659.5,223.7 660,222.9 660.5,222 661,220.9 661.5,219.9 662,218.8 662.5,217.7 663,216.6 663.5,215.5 664,214.4 664.5,213.4 665,212.4 665.5,211.4 666,210.5 666.5,209.6 667,208.8 667.5,208.1 668,207.4 668.5,206.7 669,206 669.5,205.4 670,204.8 670.5,204.3 671,203.8 671.5,203.4 672,203.1 672.5,203 673,202.9 673.5,202.9 674,203.1 674.5,203.3 675,203.5 675.5,203.8 676,204.2 676.5,204.5 677,204.9 677.5,205.3 678,205.6 678.5,205.9 679,206.2 679.5,206.6 680,206.9 680.5,207.3 681,207.7 681.5,208.1 682,208.5 682.5,208.9 683,209.1 683.5,209.4 684,209.5 684.5,209.6 685,209.6 685.5,209.4 686,209.2 686.5,208.9 687,208.5 687.5,208 688,207.4 688.5,206.7 689,206 689.5,205.2 690,204.4 690.5,203.5 691,202.4 691.5,201 692,199.5 692.5,197.8 693,196 693.5,194 694,191.9 694.5,189.8 695,187.5 695.5,185.1 696,182.4 696.5,179.7 697,176.9 697.5,174.2 698,171.4 698.5,168.8 699,166.2 699.5,163.7 700,161.1 700.5,158.7 701,156.3 701.5,154 702,151.7 702.5,149.5 703,147.4 703.5,145.4 704,143.5 704.5,141.6 705,139.9 705.5,138.2 706,136.6 706.5,135 707,133.4 707.5,132 708,130.5 708.5,129.1 709,127.8 709.5,126.4 710,125.1 710.5,123.8 711,122.6 711.5,121.3 712,120.1 712.5,119 713,117.8 713.5,116.8 714,115.7 714.5,114.7 715,113.8 715.5,112.9 716,112.1 716.5,111.2 717,110.2 717.5,109.2 718,108.3 718.5,107.4 719,106.7 719.5,106.3 720,106.2 720.5,106.4 721,106.8 721.5,107.4 722,108.2 722.5,109.1 723,110.1 723.5,111.3 724,113.3 724.5,116.1 725,119.5 725.5,123.3 726,127.3 726.5,131.4 727,135.8 727.5,140.5 728,145.6 728.5,151.4 729,157.9 729.5,166.4 730,176 730.5,185.6 731,196.1 731.5,206.4 732,215.5 732.5,224 733,232.1 733.5,240.1 734,247.8 734.5,255.4 735,262.6 735.5,269.6 736,276.4 736.5,283 737,289.3 737.5,295.1 738,300.7 738.5,306.1 739,311.2 739.5,316 740,320.6 740.5,325 741,329.1 741.5,333 742,336.6 742.5,340.1 743,343.5 743.5,346.8 744,350 744.5,353.1 745,356 745.5,358.8 746,361.3 746.5,363.6 747,365.7 747.5,367.6 748,369.4 748.5,371.2 749,372.8 749.5,374.4 750,376.1 750.5,377.7 751,379.4 751.5,381.1 752,382.8 752.5,384.4 753,386.1 753.5,387.7 754,389.2 754.5,390.7 755,392.2 755.5,393.7 756,395.1 756.5,396.5 757,397.8 757.5,399.1 758,400.3 758.5,401.5 759,402.6 759.5,403.7 760,404.7 760.5,405.8 761,406.8 761.5,407.7 762,408.7 762.5,409.6 763,410.6 763.5,411.5 764,412.4 764.5,413.3 765,414.2 765.5,415.1 766,415.9 766.5,416.8 767,417.6 767.5,418.4 768,419.3 768.5,420.1 769,420.9 769.5,421.6 770,422.4 770.5,423.2 771,423.9 771.5,424.6 772,425.4 772.5,426.1 773,426.8 773.5,427.5 774,428.2 774.5,428.9 775,429.5 775.5,430.2 776,430.9 776.5,431.5 777,432.1 777.5,432.8 778,433.4 778.5,434 779,434.6 779.5,435.2 780,435.8 780.5,436.3 781,436.9 781.5,437.5 782,438 782.5,438.5 783,439 783.5,439.6 784,440.1 784.5,440.6 785,441.1 785.5,441.6 786,442 786.5,442.5 787,443 787.5,443.4 788,443.9 788.5,444.4 789,444.8 789.5,445.3 790,445.7 790.5,446.1 791,446.6 791.5,447 792,447.4 792.5,447.8 793,448.3 793.5,448.7 794,449.1 794.5,449.5 795,449.9 795.5,450.3 796,450.7 796.5,451 797,451.4 797.5,451.8 798,452.1 798.5,452.5 799,452.8 799.5,453.1 800,453.5 800.5,453.8 801,454.1 801.5,454.4 802,454.8 802.5,455.1 803,455.4 803.5,455.7 804,456 804.5,456.2 805,456.5 805.5,456.8 806,457.1 806.5,457.4 807,457.7 807.5,457.9 808,458.2 808.5,458.5 809,458.7 809.5,459 810,459.3 810.5,459.5 811,459.8 811.5,460 812,460.3 812.5,460.5 813,460.8 813.5,461 814,461.3 814.5,461.5 815,461.7 815.5,462 816,462.2 816.5,462.4 817,462.7 817.5,462.9 818,463.1 818.5,463.3 819,463.5 819.5,463.7 820,464 820.5,464.2 821,464.4 821.5,464.6 822,464.8 822.5,465 823,465.2 823.5,465.4 824,465.6 824.5,465.8 825,466 825.5,466.2 826,466.4 826.5,466.6 827,466.8 827.5,466.9 828,467.1 828.5,467.3 829,467.5 829.5,467.7 830,467.8 830.5,468 831,468.2 831.5,468.4 832,468.5 832.5,468.7 833,468.9 833.5,469 834,469.2 834.5,469.4 835,469.5 835.5,469.7 836,469.9 836.5,470 837,470.2 837.5,470.3 838,470.5 838.5,470.7 839,470.8 839.5,471 840,471.1 840.5,471.3 841,471.4 841.5,471.6 842,471.7 842.5,471.9 843,472 843.5,472.2 844,472.3 844.5,472.5 845,472.6 845.5,472.8 846,472.9 846.5,473.1 847,473.2 847.5,473.4 848,473.5 848.5,473.7 849,473.8 849.5,473.9 850,474.1 850.5,474.2 851,474.4 851.5,474.5 852,474.6 852.5,474.8 853,474.9 853.5,475.1 854,475.2 854.5,475.4 855,475.5 855.5,475.6 856,475.8 856.5,475.9 857,476.1 857.5,476.2 858,476.3 858.5,476.5 859,476.6 859.5,476.8 860,476.9 860.5,477 861,477.2 861.5,477.3 862,477.4 862.5,477.6 863,477.7 863.5,477.8 864,478 864.5,478.1 865,478.2 865.5,478.4 866,478.5 866.5,478.6 867,478.8 867.5,478.9 868,479 868.5,479.1 869,479.3 869.5,479.4 870,479.5 870.5,479.6 871,479.7 871.5,479.8 872,479.9 872.5,480.1 873,480.2 873.5,480.3 874,480.4 874.5,480.5 875,480.6 875.5,480.7 876,480.8 876.5,480.9 877,481 877.5,481.1 878,481.2 878.5,481.3 879,481.4 879.5,481.5 880,481.5 880.5,481.6 881,481.7 881.5,481.8 882,481.9 882.5,482 883,482.1 883.5,482.2 884,482.3 884.5,482.3 885,482.4 885.5,482.5 886,482.6 886.5,482.7 887,482.8 887.5,482.8 888,482.9 888.5,483 889,483.1 889.5,483.2 890,483.2 890.5,483.3 891,483.4 891.5,483.5 892,483.5 892.5,483.6 893,483.7 893.5,483.8 894,483.8 894.5,483.9 895,484 895.5,484.1 896,484.1 896.5,484.2 897,484.3 897.5,484.4 898,484.4 898.5,484.5 899,484.6 899.5,484.6 900,484.7 900.5,484.8 901,484.8 901.5,484.9 902,485 902.5,485 903,485.1 903.5,485.2 904,485.2 904.5,485.3 905,485.4 905.5,485.4 906,485.5 906.5,485.6 907,485.6 907.5,485.7 908,485.8 908.5,485.8 909,485.9 909.5,485.9 910,486 910.5,486.1 911,486.1 911.5,486.2 912,486.2 912.5,486.3 913,486.4 913.5,486.4 914,486.5 914.5,486.5 915,486.6 915.5,486.7 916,486.7 916.5,486.8 917,486.8 917.5,486.9 918,486.9 918.5,487 919,487 919.5,487.1 920,487.2 920.5,487.2 921,487.3 921.5,487.3 922,487.4 922.5,487.4 923,487.5 923.5,487.5 924,487.6 924.5,487.6 925,487.7 925.5,487.7 926,487.8 926.5,487.8 927,487.9 927.5,487.9 928,488 928.5,488 929,488.1 929.5,488.1 930,488.2 930.5,488.2 931,488.3 931.5,488.3 932,488.4 932.5,488.4 933,488.5 933.5,488.5 934,488.6 934.5,488.6 935,488.7 935.5,488.7 936,488.8 936.5,488.8 937,488.8 937.5,488.9 938,488.9 938.5,489 939,489 939.5,489.1 940,489.1 940.5,489.2 941,489.2 941.5,489.2 942,489.3 942.5,489.3 943,489.4 943.5,489.4 944,489.5 944.5,489.5 945,489.5 945.5,489.6 946,489.6 946.5,489.7 947,489.7 947.5,489.8 948,489.8 948.5,489.8 949,489.9 949.5,489.9 950,490 950.5,490 951,490 951.5,490.1 952,490.1 952.5,490.2 953,490.2 953.5,490.2 954,490.3 954.5,490.3 955,490.3 955.5,490.4 956,490.4 956.5,490.5 957,490.5 957.5,490.5 958,490.6 958.5,490.6 959,490.6 959.5,490.7 960,490.7 960.5,490.7 961,490.8 961.5,490.8 962,490.8 962.5,490.9 963,490.9 963.5,490.9 964,491 964.5,491 965,491 965.5,491.1 966,491.1 966.5,491.1 967,491.2 967.5,491.2 968,491.2 968.5,491.3 969,491.3 969.5,491.3 970,491.3 970.5,491.4 971,491.4 971.5,491.4 972,491.5 972.5,491.5 973,491.5 973.5,491.6 974,491.6 974.5,491.6 975,491.6 975.5,491.7 976,491.7 976.5,491.7 977,491.8 977.5,491.8 978,491.8 978.5,491.9 979,491.9 979.5,491.9 980,491.9 980.5,492 981,492 981.5,492 982,492.1 982.5,492.1 983,492.1 983.5,492.2 984,492.2 984.5,492.2 985,492.2 985.5,492.3 986,492.3 986.5,492.3 987,492.4 987.5,492.4 988,492.4 988.5,492.4 989,492.5 989.5,492.5 990,492.5 990.5,492.6 991,492.6 991.5,492.6 992,492.7 992.5,492.7 993,492.7 993.5,492.7 994,492.8 994.5,492.8 995,492.8 995.5,492.8 996,492.9 996.5,492.9 997,492.9 997.5,493 998,493 998.5,493 999,493 999.5,493.1 1000,493.1" stroke="#ff00ff"/><path d="M97,184.9 97.5,185.2 98,185.4 98.5,185.7 99,185.9 99.5,186.1 100,186.3 100.5,186.5 101,186.7 101.5,186.9 102,187 102.5,187.1 103,187.2 103.5,187.3 104,187.3 104.5,187.4 105,187.5 105.5,187.5 106,187.6 106.5,187.6 107,187.7 107.5,187.7 108,187.8 108.5,187.8 109,187.9 109.5,188 110,188.1 110.5,188.1 111,188.2 111.5,188.4 112,188.5 112.5,188.6 113,188.8 113.5,189 114,189.2 114.5,189.4 115,189.6 115.5,189.9 116,190.1 116.5,190.4 117,190.7 117.5,191 118,191.4 118.5,191.8 119,192.2 119.5,192.7 120,193.2 120.5,193.7 121,194.3 121.5,194.8 122,195.4 122.5,195.9 123,196.5 123.5,197.1 124,197.8 124.5,198.5 125,199.2 125.5,200 126,200.7 126.5,201.5 127,202.2 127.5,202.9 128,203.6 128.5,204.3 129,204.9 129.5,205.6 130,206.3 130.5,206.9 131,207.6 131.5,208.3 132,208.9 132.5,209.5 133,210.1 133.5,210.7 134,211.2 134.5,211.7 135,212.2 135.5,212.6 136,213 136.5,213.3 137,213.7 137.5,214 138,214.4 138.5,214.7 139,215 139.5,215.3 140,215.6 140.5,215.8 141,216 141.5,216.2 142,216.3 142.5,216.4 143,216.4 143.5,216.4 144,216.4 144.5,216.4 145,216.4 145.5,216.4 146,216.4 146.5,216.4 147,216.4 147.5,216.4 148,216.3 148.5,216.3 149,216.3 149.5,216.3 150,216.3 150.5,216.2 151,216.2 151.5,216.1 152,216.1 152.5,216 153,215.9 153.5,215.8 154,215.7 154.5,215.6 155,215.5 155.5,215.5 156,215.4 156.5,215.3 157,215.3 157.5,215.3 158,215.3 158.5,215.4 159,215.4 159.5,215.5 160,215.7 160.5,215.8 161,216 161.5,216.2 162,216.4 162.5,216.6 163,216.8 163.5,217.1 164,217.3 164.5,217.6 165,217.8 165.5,218.1 166,218.4 166.5,218.8 167,219.3 167.5,219.8 168,220.4 168.5,221 169,221.7 169.5,222.4 170,223.2 170.5,223.9 171,224.7 171.5,225.4 172,226.2 172.5,226.9 173,227.6 173.5,228.3 174,229.1 174.5,229.8 175,230.6 175.5,231.3 176,232.1 176.5,232.9 177,233.6 177.5,234.4 178,235.1 178.5,235.8 179,236.5 179.5,237.2 180,237.8 180.5,238.5 181,239.2 181.5,239.9 182,240.5 182.5,241.2 183,241.8 183.5,242.4 184,242.9 184.5,243.5 185,244 185.5,244.5 186,244.9 186.5,245.3 187,245.6 187.5,246 188,246.4 188.5,246.7 189,247 189.5,247.3 190,247.6 190.5,247.9 191,248.2 191.5,248.4 192,248.6 192.5,248.9 193,249 193.5,249.2 194,249.3 194.5,249.5 195,249.6 195.5,249.8 196,249.9 196.5,250.1 197,250.2 197.5,250.3 198,250.4 198.5,250.5 199,250.6 199.5,250.7 200,250.8 200.5,250.9 201,251 201.5,251 202,251.1 202.5,251.1 203,251.1 203.5,251.2 204,251.2 204.5,251.2 205,251.2 205.5,251.2 206,251.2 206.5,251.2 207,251.2 207.5,251.1 208,251.1 208.5,251.1 209,251.1 209.5,251.1 210,251 210.5,251 211,250.9 211.5,250.9 212,250.8 212.5,250.8 213,250.7 213.5,250.6 214,250.5 214.5,250.4 215,250.3 215.5,250.2 216,250.1 216.5,250 217,249.9 217.5,249.7 218,249.6 218.5,249.3 219,249.1 219.5,248.8 220,248.4 220.5,248.1 221,247.8 221.5,247.4 222,247.1 222.5,246.8 223,246.5 223.5,246.3 224,246.1 224.5,245.9 225,245.7 225.5,245.6 226,245.5 226.5,245.3 227,245.2 227.5,245.1 228,245 228.5,244.9 229,244.8 229.5,244.7 230,244.6 230.5,244.5 231,244.5 231.5,244.5 232,244.5 232.5,244.5 233,244.5 233.5,244.6 234,244.7 234.5,244.8 235,244.9 235.5,245.1 236,245.2 236.5,245.4 237,245.6 237.5,245.8 238,246 238.5,246.2 239,246.5 239.5,246.7 240,247 240.5,247.3 241,247.6 241.5,248 242,248.3 242.5,248.7 243,249 243.5,249.4 244,249.7 244.5,250 245,250.4 245.5,250.7 246,251 246.5,251.3 247,251.6 247.5,251.9 248,252.2 248.5,252.5 249,252.8 249.5,253 250,253.3 250.5,253.5 251,253.7 251.5,253.8 252,254 252.5,254.1 253,254.2 253.5,254.2 254,254.2 254.5,254.1 255,254 255.5,253.8 256,253.5 256.5,253.2 257,252.9 257.5,252.6 258,252.2 258.5,251.8 259,251.2 259.5,250.6 260,249.8 260.5,248.9 261,247.9 261.5,246.9 262,245.8 262.5,244.7 263,243.6 263.5,242.4 264,241 264.5,239.6 265,238.2 265.5,236.7 266,235.2 266.5,233.7 267,232.2 267.5,230.7 268,229.2 268.5,227.6 269,226 269.5,224.4 270,222.8 270.5,221.2 271,219.6 271.5,218 272,216.3 272.5,214.6 273,212.9 273.5,211 274,209.1 274.5,207 275,204.7 275.5,202.3 276,199.8 276.5,197.3 277,194.8 277.5,192.5 278,190.3 278.5,188.3 279,186.4 279.5,184.6 280,183 280.5,181.5 281,180.1 281.5,178.8 282,177.6 282.5,176.4 283,175.3 283.5,174.2 284,173.2 284.5,172.2 285,171.2 285.5,170.3 286,169.4 286.5,168.5 287,167.6 287.5,166.8 288,166 288.5,165.2 289,164.4 289.5,163.6 290,162.9 290.5,162.2 291,161.4 291.5,160.7 292,160 292.5,159.3 293,158.6 293.5,157.8 294,157 294.5,156.2 295,155.3 295.5,154.4 296,153.4 296.5,152.4 297,151.3 297.5,150.2 298,149.1 298.5,147.9 299,146.6 299.5,145.2 300,143.8 300.5,142.4 301,140.8 301.5,139 302,137 302.5,135 303,132.8 303.5,130.6 304,128.3 304.5,126 305,123.6 305.5,121 306,118.3 306.5,115.6 307,112.9 307.5,110.2 308,107.7 308.5,105.2 309,102.9 309.5,100.5 310,98.3 310.5,96 311,93.9 311.5,91.8 312,89.8 312.5,87.8 313,85.8 313.5,83.8 314,81.9 314.5,80.1 315,78.5 315.5,77.1 316,76 316.5,75 317,74.1 317.5,73.2 318,72.4 318.5,71.8 319,71.2 319.5,70.8 320,70.4 320.5,70.2 321,69.9 321.5,69.6 322,69.4 322.5,69.3 323,69.2 323.5,69.1 324,69.1 324.5,69.3 325,69.5 325.5,69.9 326,70.3 326.5,70.8 327,71.3 327.5,71.8 328,72.6 328.5,73.5 329,74.7 329.5,76 330,77.5 330.5,79 331,80.5 331.5,82.1 332,83.7 332.5,85.5 333,87.4 333.5,89.5 334,91.6 334.5,93.8 335,96.1 335.5,98.6 336,101.3 336.5,104.3 337,107.4 337.5,110.5 338,113.6 338.5,116.7 339,119.6 339.5,122.5 340,125.4 340.5,128.3 341,131.1 341.5,133.9 342,136.6 342.5,139.2 343,141.8 343.5,144.4 344,147 344.5,149.5 345,152 345.5,154.2 346,156.2 346.5,158 347,159.6 347.5,161.1 348,162.6 348.5,163.9 349,165.1 349.5,166.2 350,167 350.5,167.6 351,168.1 351.5,168.6 352,169 352.5,169.4 353,169.8 353.5,170.1 354,170.3 354.5,170.5 355,170.5 355.5,170.6 356,170.5 356.5,170.3 357,169.9 357.5,169.5 358,169 358.5,168.5 359,167.9 359.5,167.4 360,166.9 360.5,166.4 361,165.9 361.5,165.4 362,164.9 362.5,164.3 363,163.7 363.5,163 364,162.4 364.5,161.7 365,161.1 365.5,160.4 366,159.8 366.5,159.1 367,158.4 367.5,157.7 368,157 368.5,156.2 369,155.5 369.5,154.7 370,153.9 370.5,153 371,152.2 371.5,151.4 372,150.6 372.5,149.9 373,149.2 373.5,148.5 374,147.8 374.5,147.2 375,146.6 375.5,145.9 376,145.3 376.5,144.6 377,144 377.5,143.3 378,142.8 378.5,142.2 379,141.8 379.5,141.4 380,141.1 380.5,140.9 381,140.8 381.5,140.7 382,140.7 382.5,140.7 383,140.8 383.5,140.8 384,140.8 384.5,140.8 385,140.9 385.5,140.9 386,141 386.5,141 387,141.1 387.5,141.2 388,141.3 388.5,141.3 389,141.4 389.5,141.5 390,141.6 390.5,141.6 391,141.7 391.5,141.8 392,141.8 392.5,141.9 393,141.9 393.5,142 394,142 394.5,142 395,142.1 395.5,142.1 396,142.1 396.5,142.1 397,142.1 397.5,142.1 398,142.1 398.5,142.2 399,142.2 399.5,142.3 400,142.4 400.5,142.5 401,142.6 401.5,142.7 402,142.9 402.5,143.2 403,143.5 403.5,143.9 404,144.4 404.5,144.9 405,145.5 405.5,146.1 406,146.8 406.5,147.5 407,148.2 407.5,149 408,149.9 408.5,150.8 409,151.7 409.5,152.8 410,153.9 410.5,155 411,156.1 411.5,157.3 412,158.6 412.5,159.8 413,161.1 413.5,162.5 414,163.9 414.5,165.4 415,167 415.5,168.6 416,170.3 416.5,172 417,173.8 417.5,175.6 418,177.4 418.5,179.3 419,181.1 419.5,183 420,184.8 420.5,186.7 421,188.7 421.5,190.6 422,192.6 422.5,194.5 423,196.5 423.5,198.5 424,200.5 424.5,202.5 425,204.5 425.5,206.5 426,208.5 426.5,210.5 427,212.5 427.5,214.5 428,216.5 428.5,218.4 429,220.4 429.5,222.3 430,224.1 430.5,226 431,227.9 431.5,229.7 432,231.5 432.5,233.3 433,235.1 433.5,236.9 434,238.7 434.5,240.5 435,242.3 435.5,244.1 436,245.8 436.5,247.5 437,249.3 437.5,250.9 438,252.6 438.5,254.2 439,255.8 439.5,257.4 440,258.9 440.5,260.4 441,261.8 441.5,263.3 442,264.7 442.5,266.1 443,267.4 443.5,268.7 444,269.9 444.5,271.1 445,272.2 445.5,273.3 446,274.4 446.5,275.5 447,276.5 447.5,277.6 448,278.6 448.5,279.7 449,280.8 449.5,281.9 450,283 450.5,284.2 451,285.5 451.5,286.8 452,288.3 452.5,289.7 453,291 453.5,292.2 454,293.3 454.5,294.2 455,295 455.5,295.9 456,296.7 456.5,297.5 457,298.2 457.5,298.9 458,299.6 458.5,300.2 459,300.8 459.5,301.4 460,302 460.5,302.5 461,303 461.5,303.6 462,304.1 462.5,304.6 463,305.1 463.5,305.6 464,306 464.5,306.5 465,306.9 465.5,307.3 466,307.7 466.5,308 467,308.3 467.5,308.5 468,308.7 468.5,308.9 469,309 469.5,309.1 470,309.2 470.5,309.3 471,309.4 471.5,309.5 472,309.5 472.5,309.6 473,309.7 473.5,309.7 474,309.8 474.5,309.8 475,309.8 475.5,309.8 476,309.8 476.5,309.8 477,309.8 477.5,309.8 478,309.7 478.5,309.7 479,309.6 479.5,309.5 480,309.4 480.5,309.3 481,309.2 481.5,309.1 482,309 482.5,308.8 483,308.7 483.5,308.5 484,308.4 484.5,308.2 485,308 485.5,307.8 486,307.6 486.5,307.3 487,307.1 487.5,306.9 488,306.6 488.5,306.3 489,306 489.5,305.7 490,305.4 490.5,305.1 491,304.8 491.5,304.5 492,304.1 492.5,303.8 493,303.5 493.5,303.2 494,302.9 494.5,302.5 495,302.2 495.5,301.9 496,301.6 496.5,301.3 497,301 497.5,300.7 498,300.4 498.5,300.1 499,299.8 499.5,299.5 500,299.2 500.5,298.9 501,298.6 501.5,298.3 502,298 502.5,297.7 503,297.4 503.5,297.1 504,296.8 504.5,296.5 505,296.2 505.5,295.9 506,295.6 506.5,295.3 507,295 507.5,294.7 508,294.4 508.5,294.1 509,293.8 509.5,293.5 510,293.2 510.5,292.9 511,292.6 511.5,292.3 512,292 512.5,291.7 513,291.3 513.5,291 514,290.7 514.5,290.4 515,290.1 515.5,289.8 516,289.4 516.5,289.1 517,288.8 517.5,288.4 518,288.1 518.5,287.7 519,287.4 519.5,287 520,286.6 520.5,286.3 521,285.9 521.5,285.5 522,285.1 522.5,284.7 523,284.3 523.5,283.8 524,283.4 524.5,282.9 525,282.5 525.5,282 526,281.5 526.5,281 527,280.4 527.5,279.8 528,279.1 528.5,278.4 529,277.7 529.5,277.1 530,276.4 530.5,275.7 531,275.1 531.5,274.4 532,273.7 532.5,273.1 533,272.4 533.5,271.7 534,271.1 534.5,270.4 535,269.8 535.5,269.2 536,268.6 536.5,268 537,267.4 537.5,266.8 538,266.3 538.5,265.8 539,265.2 539.5,264.7 540,264.2 540.5,263.7 541,263.2 541.5,262.7 542,262.2 542.5,261.7 543,261.2 543.5,260.7 544,260.2 544.5,259.7 545,259.2 545.5,258.7 546,258.1 546.5,257.6 547,257 547.5,256.4 548,255.8 548.5,255.3 549,254.7 549.5,254.1 550,253.5 550.5,252.9 551,252.3 551.5,251.7 552,251.1 552.5,250.5 553,249.9 553.5,249.3 554,248.8 554.5,248.2 555,247.6 555.5,247.1 556,246.6 556.5,246 557,245.5 557.5,245 558,244.5 558.5,243.9 559,243.4 559.5,242.9 560,242.4 560.5,241.9 561,241.4 561.5,240.9 562,240.4 562.5,240 563,239.5 563.5,239 564,238.5 564.5,238.1 565,237.6 565.5,237.2 566,236.8 566.5,236.3 567,235.9 567.5,235.5 568,235.2 568.5,234.8 569,234.4 569.5,234.1 570,233.8 570.5,233.4 571,233.1 571.5,232.8 572,232.5 572.5,232.2 573,231.9 573.5,231.6 574,231.3 574.5,231 575,230.7 575.5,230.5 576,230.2 576.5,230 577,229.7 577.5,229.5 578,229.3 578.5,229 579,228.8 579.5,228.6 580,228.4 580.5,228.3 581,228.1 581.5,227.9 582,227.8 582.5,227.7 583,227.5 583.5,227.4 584,227.3 584.5,227.2 585,227 585.5,226.9 586,226.8 586.5,226.7 587,226.6 587.5,226.5 588,226.4 588.5,226.3 589,226.3 589.5,226.2 590,226.1 590.5,226.1 591,226 591.5,225.9 592,225.9 592.5,225.8 593,225.8 593.5,225.7 594,225.7 594.5,225.6 595,225.6 595.5,225.6 596,225.5 596.5,225.5 597,225.5 597.5,225.5 598,225.4 598.5,225.4 599,225.4 599.5,225.4 600,225.4 600.5,225.3 601,225.3 601.5,225.3 602,225.3 602.5,225.3 603,225.3 603.5,225.3 604,225.3 604.5,225.3 605,225.2 605.5,225.2 606,225.2 606.5,225.2 607,225.2 607.5,225.2 608,225.3 608.5,225.3 609,225.3 609.5,225.3 610,225.3 610.5,225.4 611,225.4 611.5,225.4 612,225.5 612.5,225.5 613,225.6 613.5,225.7 614,225.7 614.5,225.8 615,225.9 615.5,226 616,226.1 616.5,226.2 617,226.3 617.5,226.4 618,226.5 618.5,226.6 619,226.7 619.5,226.8 620,227 620.5,227.1 621,227.2 621.5,227.3 622,227.5 622.5,227.7 623,227.9 623.5,228.1 624,228.3 624.5,228.6 625,228.8 625.5,229.1 626,229.4 626.5,229.6 627,229.9 627.5,230.2 628,230.6 628.5,230.9 629,231.2 629.5,231.5 630,231.9 630.5,232.2 631,232.6 631.5,232.9 632,233.3 632.5,233.7 633,234.1 633.5,234.4 634,234.8 634.5,235.2 635,235.6 635.5,235.9 636,236.3 636.5,236.7 637,237.1 637.5,237.5 638,237.9 638.5,238.4 639,238.8 639.5,239.2 640,239.6 640.5,240 641,240.3 641.5,240.7 642,241 642.5,241.3 643,241.5 643.5,241.7 644,242 644.5,242.2 645,242.5 645.5,242.7 646,242.9 646.5,243.1 647,243.3 647.5,243.4 648,243.5 648.5,243.6 649,243.7 649.5,243.7 650,243.7 650.5,243.5 651,243.2 651.5,242.9 652,242.5 652.5,242 653,241.5 653.5,240.9 654,240.3 654.5,239.7 655,239.1 655.5,238.5 656,238 656.5,237.4 657,236.8 657.5,236.2 658,235.6 658.5,234.9 659,234.2 659.5,233.4 660,232.6 660.5,231.8 661,230.8 661.5,229.8 662,228.7 662.5,227.7 663,226.6 663.5,225.6 664,224.6 664.5,223.7 665,222.8 665.5,221.8 666,220.9 666.5,220 667,219.1 667.5,218.3 668,217.5 668.5,216.7 669,216 669.5,215.3 670,214.6 670.5,214.1 671,213.6 671.5,213.2 672,212.9 672.5,212.7 673,212.6 673.5,212.7 674,212.8 674.5,212.9 675,213.2 675.5,213.4 676,213.7 676.5,214 677,214.3 677.5,214.7 678,215 678.5,215.2 679,215.5 679.5,215.8 680,216.1 680.5,216.4 681,216.7 681.5,217.1 682,217.4 682.5,217.7 683,218 683.5,218.2 684,218.3 684.5,218.5 685,218.5 685.5,218.5 686,218.4 686.5,218.2 687,217.9 687.5,217.4 688,216.8 688.5,216.1 689,215.3 689.5,214.4 690,213.5 690.5,212.3 691,210.9 691.5,209.5 692,207.9 692.5,206.1 693,204 693.5,201.9 694,199.6 694.5,197.2 695,194.7 695.5,192.1 696,189.3 696.5,186.5 697,183.6 697.5,180.7 698,177.9 698.5,175 699,172.2 699.5,169.4 700,166.5 700.5,164 701,161.5 701.5,159 702,156.6 702.5,154.3 703,152.1 703.5,150 704,148 704.5,146 705,144.2 705.5,142.3 706,140.6 706.5,138.9 707,137.2 707.5,135.6 708,134 708.5,132.5 709,131.1 709.5,129.6 710,128.2 710.5,126.8 711,125.4 711.5,124.1 712,122.8 712.5,121.5 713,120.3 713.5,119.2 714,118.1 714.5,117 715,116 715.5,115.1 716,114.2 716.5,113.3 717,112.3 717.5,111.3 718,110.2 718.5,109.3 719,108.5 719.5,108 720,107.8 720.5,108 721,108.4 721.5,109 722,109.8 722.5,110.7 723,111.8 723.5,113.1 724,115 724.5,117.7 725,121 725.5,124.7 726,128.6 726.5,132.7 727,137.1 727.5,141.7 728,146.8 728.5,152.5 729,159 729.5,167.2 730,176.4 730.5,185.8 731,196.4 731.5,206.8 732,215.9 732.5,224.5 733,232.7 733.5,240.7 734,248.5 734.5,256.1 735,263.4 735.5,270.4 736,277.3 736.5,283.9 737,290.2 737.5,296.2 738,301.8 738.5,307.2 739,312.4 739.5,317.3 740,321.9 740.5,326.3 741,330.4 741.5,334.3 742,337.9 742.5,341.4 743,344.8 743.5,348.1 744,351.3 744.5,354.4 745,357.3 745.5,360.1 746,362.6 746.5,364.9 747,367 747.5,368.9 748,370.7 748.5,372.4 749,374.1 749.5,375.7 750,377.4 750.5,379 751,380.7 751.5,382.4 752,384 752.5,385.7 753,387.3 753.5,388.9 754,390.5 754.5,392 755,393.5 755.5,394.9 756,396.4 756.5,397.8 757,399.1 757.5,400.4 758,401.6 758.5,402.8 759,403.9 759.5,405 760,406 760.5,407 761,408 761.5,409 762,410 762.5,410.9 763,411.8 763.5,412.8 764,413.7 764.5,414.6 765,415.4 765.5,416.3 766,417.2 766.5,418 767,418.9 767.5,419.7 768,420.5 768.5,421.3 769,422.1 769.5,422.9 770,423.7 770.5,424.4 771,425.2 771.5,425.9 772,426.6 772.5,427.3 773,428 773.5,428.7 774,429.4 774.5,430.1 775,430.8 775.5,431.5 776,432.1 776.5,432.8 777,433.4 777.5,434 778,434.7 778.5,435.3 779,435.9 779.5,436.5 780,437 780.5,437.6 781,438.2 781.5,438.7 782,439.2 782.5,439.8 783,440.3 783.5,440.8 784,441.3 784.5,441.8 785,442.3 785.5,442.8 786,443.3 786.5,443.8 787,444.2 787.5,444.7 788,445.2 788.5,445.6 789,446.1 789.5,446.5 790,446.9 790.5,447.4 791,447.8 791.5,448.2 792,448.7 792.5,449.1 793,449.5 793.5,449.9 794,450.3 794.5,450.7 795,451.1 795.5,451.5 796,451.9 796.5,452.3 797,452.6 797.5,453 798,453.4 798.5,453.7 799,454 799.5,454.4 800,454.7 800.5,455 801,455.4 801.5,455.7 802,456 802.5,456.3 803,456.6 803.5,456.9 804,457.2 804.5,457.5 805,457.8 805.5,458 806,458.3 806.5,458.6 807,458.9 807.5,459.2 808,459.4 808.5,459.7 809,460 809.5,460.2 810,460.5 810.5,460.8 811,461 811.5,461.3 812,461.5 812.5,461.8 813,462 813.5,462.3 814,462.5 814.5,462.7 815,463 815.5,463.2 816,463.4 816.5,463.6 817,463.9 817.5,464.1 818,464.3 818.5,464.5 819,464.7 819.5,465 820,465.2 820.5,465.4 821,465.6 821.5,465.8 822,466 822.5,466.2 823,466.4 823.5,466.6 824,466.8 824.5,467 825,467.2 825.5,467.4 826,467.6 826.5,467.8 827,467.9 827.5,468.1 828,468.3 828.5,468.5 829,468.7 829.5,468.9 830,469 830.5,469.2 831,469.4 831.5,469.6 832,469.7 832.5,469.9 833,470.1 833.5,470.2 834,470.4 834.5,470.6 835,470.7 835.5,470.9 836,471.1 836.5,471.2 837,471.4 837.5,471.5 838,471.7 838.5,471.8 839,472 839.5,472.2 840,472.3 840.5,472.5 841,472.6 841.5,472.8 842,472.9 842.5,473.1 843,473.2 843.5,473.4 844,473.5 844.5,473.7 845,473.8 845.5,474 846,474.1 846.5,474.3 847,474.4 847.5,474.5 848,474.7 848.5,474.8 849,475 849.5,475.1 850,475.3 850.5,475.4 851,475.5 851.5,475.7 852,475.8 852.5,476 853,476.1 853.5,476.2 854,476.4 854.5,476.5 855,476.7 855.5,476.8 856,476.9 856.5,477.1 857,477.2 857.5,477.4 858,477.5 858.5,477.6 859,477.8 859.5,477.9 860,478.1 860.5,478.2 861,478.3 861.5,478.5 862,478.6 862.5,478.7 863,478.9 863.5,479 864,479.1 864.5,479.3 865,479.4 865.5,479.5 866,479.7 866.5,479.8 867,479.9 867.5,480 868,480.2 868.5,480.3 869,480.4 869.5,480.5 870,480.6 870.5,480.8 871,480.9 871.5,481 872,481.1 872.5,481.2 873,481.3 873.5,481.4 874,481.5 874.5,481.6 875,481.7 875.5,481.8 876,481.9 876.5,482 877,482.1 877.5,482.2 878,482.3 878.5,482.4 879,482.5 879.5,482.6 880,482.7 880.5,482.8 881,482.9 881.5,483 882,483 882.5,483.1 883,483.2 883.5,483.3 884,483.4 884.5,483.5 885,483.6 885.5,483.6 886,483.7 886.5,483.8 887,483.9 887.5,484 888,484 888.5,484.1 889,484.2 889.5,484.3 890,484.4 890.5,484.4 891,484.5 891.5,484.6 892,484.7 892.5,484.7 893,484.8 893.5,484.9 894,485 894.5,485 895,485.1 895.5,485.2 896,485.3 896.5,485.3 897,485.4 897.5,485.5 898,485.5 898.5,485.6 899,485.7 899.5,485.8 900,485.8 900.5,485.9 901,486 901.5,486 902,486.1 902.5,486.2 903,486.2 903.5,486.3 904,486.4 904.5,486.4 905,486.5 905.5,486.6 906,486.6 906.5,486.7 907,486.7 907.5,486.8 908,486.9 908.5,486.9 909,487 909.5,487.1 910,487.1 910.5,487.2 911,487.2 911.5,487.3 912,487.4 912.5,487.4 913,487.5 913.5,487.5 914,487.6 914.5,487.6 915,487.7 915.5,487.8 916,487.8 916.5,487.9 917,487.9 917.5,488 918,488 918.5,488.1 919,488.1 919.5,488.2 920,488.3 920.5,488.3 921,488.4 921.5,488.4 922,488.5 922.5,488.5 923,488.6 923.5,488.6 924,488.7 924.5,488.7 925,488.8 925.5,488.8 926,488.9 926.5,488.9 927,489 927.5,489 928,489.1 928.5,489.1 929,489.2 929.5,489.2 930,489.3 930.5,489.3 931,489.4 931.5,489.4 932,489.5 932.5,489.5 933,489.6 933.5,489.6 934,489.6 934.5,489.7 935,489.7 935.5,489.8 936,489.8 936.5,489.9 937,489.9 937.5,490 938,490 938.5,490.1 939,490.1 939.5,490.1 940,490.2 940.5,490.2 941,490.3 941.5,490.3 942,490.4 942.5,490.4 943,490.4 943.5,490.5 944,490.5 944.5,490.6 945,490.6 945.5,490.7 946,490.7 946.5,490.7 947,490.8 947.5,490.8 948,490.9 948.5,490.9 949,490.9 949.5,491 950,491 950.5,491.1 951,491.1 951.5,491.1 952,491.2 952.5,491.2 953,491.2 953.5,491.3 954,491.3 954.5,491.4 955,491.4 955.5,491.4 956,491.5 956.5,491.5 957,491.5 957.5,491.6 958,491.6 958.5,491.6 959,491.7 959.5,491.7 960,491.8 960.5,491.8 961,491.8 961.5,491.9 962,491.9 962.5,491.9 963,491.9 963.5,492 964,492 964.5,492 965,492.1 965.5,492.1 966,492.1 966.5,492.2 967,492.2 967.5,492.2 968,492.3 968.5,492.3 969,492.3 969.5,492.4 970,492.4 970.5,492.4 971,492.4 971.5,492.5 972,492.5 972.5,492.5 973,492.6 973.5,492.6 974,492.6 974.5,492.6 975,492.7 975.5,492.7 976,492.7 976.5,492.8 977,492.8 977.5,492.8 978,492.9 978.5,492.9 979,492.9 979.5,492.9 980,493 980.5,493 981,493 981.5,493.1 982,493.1 982.5,493.1 983,493.1 983.5,493.2 984,493.2 984.5,493.2 985,493.3 985.5,493.3 986,493.3 986.5,493.3 987,493.4 987.5,493.4 988,493.4 988.5,493.5 989,493.5 989.5,493.5 990,493.5 990.5,493.6 991,493.6 991.5,493.6 992,493.7 992.5,493.7 993,493.7 993.5,493.7 994,493.8 994.5,493.8 995,493.8 995.5,493.9 996,493.9 996.5,493.9 997,493.9 997.5,494 998,494 998.5,494 999,494 999.5,494.1 1000,494.1" stroke="#8000ff"/><path d="M97,186.6 97.5,186.9 98,187.2 98.5,187.5 99,187.8 99.5,188 100,188.3 100.5,188.5 101,188.8 101.5,189 102,189.1 102.5,189.3 103,189.4 103.5,189.6 104,189.7 104.5,189.8 105,189.9 105.5,190 106,190.1 106.5,190.1 107,190.2 107.5,190.3 108,190.4 108.5,190.5 109,190.6 109.5,190.7 110,190.8 110.5,191 111,191.1 111.5,191.3 112,191.4 112.5,191.6 113,191.8 113.5,192 114,192.2 114.5,192.4 115,192.6 115.5,192.8 116,193.1 116.5,193.3 117,193.6 117.5,194 118,194.3 118.5,194.7 119,195.1 119.5,195.6 120,196.1 120.5,196.6 121,197.1 121.5,197.6 122,198.1 122.5,198.7 123,199.3 123.5,199.9 124,200.5 124.5,201.2 125,202 125.5,202.7 126,203.5 126.5,204.2 127,205 127.5,205.7 128,206.4 128.5,207.1 129,207.7 129.5,208.4 130,209 130.5,209.7 131,210.3 131.5,211 132,211.6 132.5,212.3 133,212.9 133.5,213.4 134,214 134.5,214.5 135,214.9 135.5,215.4 136,215.7 136.5,216.1 137,216.5 137.5,216.9 138,217.3 138.5,217.6 139,218 139.5,218.3 140,218.6 140.5,218.8 141,219.1 141.5,219.2 142,219.4 142.5,219.5 143,219.5 143.5,219.5 144,219.5 144.5,219.5 145,219.5 145.5,219.5 146,219.5 146.5,219.5 147,219.5 147.5,219.5 148,219.4 148.5,219.4 149,219.4 149.5,219.4 150,219.4 150.5,219.4 151,219.4 151.5,219.3 152,219.2 152.5,219.2 153,219.1 153.5,219 154,218.9 154.5,218.9 155,218.8 155.5,218.7 156,218.7 156.5,218.6 157,218.6 157.5,218.6 158,218.6 158.5,218.7 159,218.7 159.5,218.9 160,219 160.5,219.1 161,219.3 161.5,219.5 162,219.7 162.5,219.9 163,220.1 163.5,220.4 164,220.7 164.5,220.9 165,221.2 165.5,221.5 166,221.8 166.5,222.2 167,222.7 167.5,223.2 168,223.8 168.5,224.5 169,225.2 169.5,225.9 170,226.7 170.5,227.4 171,228.2 171.5,229 172,229.8 172.5,230.5 173,231.2 173.5,231.9 174,232.6 174.5,233.3 175,234 175.5,234.8 176,235.5 176.5,236.2 177,236.9 177.5,237.6 178,238.3 178.5,239 179,239.6 179.5,240.3 180,240.9 180.5,241.6 181,242.2 181.5,242.9 182,243.5 182.5,244.2 183,244.8 183.5,245.3 184,245.9 184.5,246.4 185,246.9 185.5,247.4 186,247.8 186.5,248.2 187,248.6 187.5,249 188,249.3 188.5,249.7 189,250 189.5,250.3 190,250.6 190.5,250.9 191,251.2 191.5,251.4 192,251.6 192.5,251.8 193,252 193.5,252.2 194,252.3 194.5,252.4 195,252.6 195.5,252.7 196,252.9 196.5,253 197,253.1 197.5,253.2 198,253.3 198.5,253.4 199,253.5 199.5,253.6 200,253.7 200.5,253.7 201,253.8 201.5,253.8 202,253.9 202.5,253.9 203,253.9 203.5,253.9 204,253.9 204.5,253.9 205,253.8 205.5,253.8 206,253.8 206.5,253.7 207,253.7 207.5,253.6 208,253.6 208.5,253.5 209,253.5 209.5,253.4 210,253.4 210.5,253.3 211,253.3 211.5,253.2 212,253.2 212.5,253.1 213,253 213.5,253 214,252.9 214.5,252.8 215,252.7 215.5,252.6 216,252.5 216.5,252.4 217,252.3 217.5,252.1 218,251.9 218.5,251.7 219,251.4 219.5,251.1 220,250.7 220.5,250.4 221,250 221.5,249.6 222,249.3 222.5,249 223,248.6 223.5,248.4 224,248.1 224.5,248 225,247.8 225.5,247.7 226,247.5 226.5,247.3 227,247.2 227.5,247.1 228,246.9 228.5,246.8 229,246.7 229.5,246.6 230,246.5 230.5,246.4 231,246.3 231.5,246.3 232,246.2 232.5,246.2 233,246.2 233.5,246.2 234,246.3 234.5,246.4 235,246.5 235.5,246.7 236,246.9 236.5,247.1 237,247.3 237.5,247.5 238,247.7 238.5,247.9 239,248.1 239.5,248.3 240,248.6 240.5,248.9 241,249.2 241.5,249.5 242,249.9 242.5,250.2 243,250.6 243.5,251 244,251.3 244.5,251.6 245,251.9 245.5,252.2 246,252.5 246.5,252.8 247,253 247.5,253.3 248,253.6 248.5,253.8 249,254.1 249.5,254.3 250,254.6 250.5,254.8 251,255 251.5,255.1 252,255.3 252.5,255.4 253,255.4 253.5,255.4 254,255.3 254.5,255.2 255,255.1 255.5,254.8 256,254.6 256.5,254.3 257,254 257.5,253.7 258,253.4 258.5,253 259,252.4 259.5,251.7 260,250.8 260.5,249.9 261,248.9 261.5,247.9 262,246.8 262.5,245.7 263,244.5 263.5,243.3 264,242 264.5,240.5 265,239 265.5,237.5 266,236 266.5,234.5 267,233.1 267.5,231.6 268,230.1 268.5,228.6 269,227.1 269.5,225.6 270,224 270.5,222.4 271,220.7 271.5,219 272,217.3 272.5,215.5 273,213.7 273.5,211.9 274,210 274.5,208 275,205.9 275.5,203.7 276,201.4 276.5,199 277,196.7 277.5,194.4 278,192.2 278.5,190 279,188 279.5,186.1 280,184.5 280.5,183 281,181.7 281.5,180.4 282,179.2 282.5,178 283,176.9 283.5,175.9 284,174.8 284.5,173.8 285,172.9 285.5,171.9 286,171 286.5,170.1 287,169.2 287.5,168.3 288,167.5 288.5,166.7 289,166 289.5,165.2 290,164.5 290.5,163.8 291,163.1 291.5,162.4 292,161.7 292.5,161 293,160.2 293.5,159.4 294,158.6 294.5,157.8 295,156.9 295.5,155.9 296,154.9 296.5,153.8 297,152.7 297.5,151.6 298,150.4 298.5,149.1 299,147.8 299.5,146.4 300,144.9 300.5,143.4 301,141.8 301.5,140 302,138.1 302.5,136.1 303,134 303.5,131.8 304,129.6 304.5,127.3 305,124.9 305.5,122.3 306,119.6 306.5,116.9 307,114.1 307.5,111.4 308,108.9 308.5,106.5 309,104.1 309.5,101.8 310,99.5 310.5,97.3 311,95.2 311.5,93.1 312,91.2 312.5,89.3 313,87.3 313.5,85.4 314,83.6 314.5,81.8 315,80.3 315.5,79 316,77.9 316.5,77 317,76.1 317.5,75.3 318,74.6 318.5,74 319,73.5 319.5,73.1 320,72.8 320.5,72.6 321,72.4 321.5,72.1 322,72 322.5,71.8 323,71.7 323.5,71.7 324,71.7 324.5,71.9 325,72.1 325.5,72.5 326,72.9 326.5,73.3 327,73.8 327.5,74.3 328,75 328.5,75.9 329,77 329.5,78.3 330,79.7 330.5,81.1 331,82.6 331.5,84.1 332,85.7 332.5,87.5 333,89.4 333.5,91.4 334,93.5 334.5,95.7 335,98 335.5,100.5 336,103.3 336.5,106.3 337,109.4 337.5,112.6 338,115.9 338.5,119 339,122 339.5,124.9 340,127.9 340.5,130.8 341,133.7 341.5,136.6 342,139.4 342.5,142.1 343,144.7 343.5,147.3 344,150 344.5,152.5 345,155 345.5,157.3 346,159.3 346.5,161 347,162.5 347.5,164 348,165.3 348.5,166.6 349,167.7 349.5,168.7 350,169.4 350.5,170 351,170.5 351.5,171 352,171.4 352.5,171.8 353,172.2 353.5,172.5 354,172.7 354.5,172.9 355,173.1 355.5,173.1 356,173 356.5,172.7 357,172.3 357.5,171.8 358,171.2 358.5,170.6 359,170 359.5,169.4 360,168.8 360.5,168.3 361,167.7 361.5,167.2 362,166.6 362.5,166 363,165.4 363.5,164.8 364,164.2 364.5,163.6 365,163 365.5,162.4 366,161.7 366.5,161.1 367,160.5 367.5,159.8 368,159.1 368.5,158.4 369,157.7 369.5,156.9 370,156.2 370.5,155.4 371,154.7 371.5,153.9 372,153.2 372.5,152.5 373,151.8 373.5,151.1 374,150.5 374.5,150 375,149.4 375.5,148.8 376,148.2 376.5,147.6 377,147 377.5,146.4 378,145.9 378.5,145.3 379,144.9 379.5,144.5 380,144.2 380.5,143.9 381,143.8 381.5,143.7 382,143.7 382.5,143.7 383,143.8 383.5,143.8 384,143.8 384.5,143.9 385,143.9 385.5,144 386,144.1 386.5,144.1 387,144.2 387.5,144.3 388,144.3 388.5,144.4 389,144.4 389.5,144.5 390,144.5 390.5,144.6 391,144.6 391.5,144.7 392,144.8 392.5,144.8 393,144.9 393.5,144.9 394,145 394.5,145 395,145.1 395.5,145.2 396,145.2 396.5,145.3 397,145.3 397.5,145.4 398,145.4 398.5,145.5 399,145.5 399.5,145.6 400,145.6 400.5,145.7 401,145.8 401.5,145.9 402,146 402.5,146.3 403,146.6 403.5,147 404,147.5 404.5,148 405,148.6 405.5,149.2 406,149.8 406.5,150.5 407,151.2 407.5,151.9 408,152.7 408.5,153.5 409,154.5 409.5,155.5 410,156.6 410.5,157.8 411,159 411.5,160.2 412,161.5 412.5,162.9 413,164.2 413.5,165.6 414,167.1 414.5,168.7 415,170.4 415.5,172.2 416,174 416.5,175.9 417,177.8 417.5,179.7 418,181.6 418.5,183.5 419,185.3 419.5,187.2 420,189.2 420.5,191.1 421,193.1 421.5,195.1 422,197.1 422.5,199.1 423,201.2 423.5,203.2 424,205.2 424.5,207.2 425,209.2 425.5,211.2 426,213.3 426.5,215.3 427,217.4 427.5,219.4 428,221.5 428.5,223.5 429,225.5 429.5,227.4 430,229.4 430.5,231.2 431,233.1 431.5,235 432,236.8 432.5,238.6 433,240.4 433.5,242.1 434,243.9 434.5,245.6 435,247.3 435.5,249 436,250.6 436.5,252.2 437,253.8 437.5,255.4 438,257 438.5,258.6 439,260.2 439.5,261.7 440,263.2 440.5,264.7 441,266.1 441.5,267.6 442,268.9 442.5,270.3 443,271.6 443.5,272.8 444,274 444.5,275.2 445,276.3 445.5,277.3 446,278.3 446.5,279.3 447,280.3 447.5,281.4 448,282.4 448.5,283.4 449,284.5 449.5,285.7 450,286.9 450.5,288.2 451,289.6 451.5,291.2 452,292.9 452.5,294.6 453,296.2 453.5,297.6 454,298.8 454.5,299.8 455,300.8 455.5,301.7 456,302.6 456.5,303.5 457,304.3 457.5,305 458,305.8 458.5,306.5 459,307.1 459.5,307.7 460,308.3 460.5,308.8 461,309.3 461.5,309.8 462,310.2 462.5,310.7 463,311.1 463.5,311.5 464,312 464.5,312.4 465,312.7 465.5,313.1 466,313.4 466.5,313.8 467,314 467.5,314.3 468,314.5 468.5,314.7 469,314.9 469.5,315 470,315.1 470.5,315.1 471,315.2 471.5,315.3 472,315.4 472.5,315.4 473,315.5 473.5,315.5 474,315.6 474.5,315.6 475,315.7 475.5,315.7 476,315.7 476.5,315.8 477,315.8 477.5,315.8 478,315.8 478.5,315.8 479,315.8 479.5,315.7 480,315.7 480.5,315.6 481,315.5 481.5,315.4 482,315.3 482.5,315.2 483,315.1 483.5,314.9 484,314.8 484.5,314.7 485,314.5 485.5,314.4 486,314.2 486.5,314.1 487,313.9 487.5,313.7 488,313.5 488.5,313.3 489,313.1 489.5,312.8 490,312.6 490.5,312.3 491,312 491.5,311.7 492,311.4 492.5,311.1 493,310.8 493.5,310.5 494,310.2 494.5,309.9 495,309.5 495.5,309.2 496,308.9 496.5,308.6 497,308.4 497.5,308.1 498,307.8 498.5,307.5 499,307.2 499.5,307 500,306.7 500.5,306.4 501,306.1 501.5,305.8 502,305.6 502.5,305.3 503,305 503.5,304.7 504,304.4 504.5,304.1 505,303.9 505.5,303.6 506,303.3 506.5,303 507,302.7 507.5,302.4 508,302.1 508.5,301.8 509,301.5 509.5,301.2 510,300.9 510.5,300.6 511,300.3 511.5,300 512,299.7 512.5,299.4 513,299.1 513.5,298.8 514,298.5 514.5,298.2 515,297.9 515.5,297.6 516,297.3 516.5,297 517,296.7 517.5,296.4 518,296.1 518.5,295.8 519,295.5 519.5,295.2 520,294.8 520.5,294.5 521,294.2 521.5,293.8 522,293.5 522.5,293.1 523,292.8 523.5,292.4 524,292 524.5,291.6 525,291.2 525.5,290.8 526,290.4 526.5,290 527,289.5 527.5,289 528,288.4 528.5,287.9 529,287.3 529.5,286.7 530,286 530.5,285.4 531,284.8 531.5,284.1 532,283.4 532.5,282.8 533,282.1 533.5,281.4 534,280.8 534.5,280.1 535,279.5 535.5,278.8 536,278.2 536.5,277.6 537,277.1 537.5,276.5 538,276 538.5,275.5 539,275 539.5,274.6 540,274.1 540.5,273.7 541,273.3 541.5,272.8 542,272.4 542.5,272 543,271.6 543.5,271.1 544,270.7 544.5,270.2 545,269.8 545.5,269.3 546,268.8 546.5,268.3 547,267.7 547.5,267.2 548,266.6 548.5,266.1 549,265.5 549.5,264.9 550,264.3 550.5,263.7 551,263.1 551.5,262.5 552,261.9 552.5,261.4 553,260.8 553.5,260.2 554,259.6 554.5,259.1 555,258.5 555.5,258 556,257.5 556.5,257 557,256.5 557.5,256 558,255.5 558.5,255 559,254.5 559.5,254 560,253.5 560.5,253 561,252.5 561.5,252 562,251.5 562.5,251.1 563,250.6 563.5,250.1 564,249.7 564.5,249.2 565,248.8 565.5,248.4 566,248 566.5,247.6 567,247.2 567.5,246.8 568,246.5 568.5,246.1 569,245.8 569.5,245.5 570,245.2 570.5,244.9 571,244.5 571.5,244.2 572,243.9 572.5,243.6 573,243.3 573.5,243.1 574,242.8 574.5,242.5 575,242.2 575.5,242 576,241.7 576.5,241.5 577,241.2 577.5,241 578,240.8 578.5,240.6 579,240.4 579.5,240.2 580,240 580.5,239.8 581,239.7 581.5,239.5 582,239.4 582.5,239.2 583,239.1 583.5,239 584,238.9 584.5,238.7 585,238.6 585.5,238.5 586,238.4 586.5,238.3 587,238.2 587.5,238 588,237.9 588.5,237.8 589,237.8 589.5,237.7 590,237.6 590.5,237.5 591,237.4 591.5,237.3 592,237.3 592.5,237.2 593,237.2 593.5,237.1 594,237.1 594.5,237 595,237 595.5,237 596,236.9 596.5,236.9 597,236.9 597.5,236.8 598,236.8 598.5,236.8 599,236.8 599.5,236.7 600,236.7 600.5,236.7 601,236.7 601.5,236.6 602,236.6 602.5,236.6 603,236.6 603.5,236.6 604,236.6 604.5,236.5 605,236.5 605.5,236.5 606,236.5 606.5,236.5 607,236.5 607.5,236.5 608,236.5 608.5,236.5 609,236.5 609.5,236.5 610,236.6 610.5,236.6 611,236.7 611.5,236.7 612,236.8 612.5,236.9 613,236.9 613.5,237 614,237.1 614.5,237.2 615,237.3 615.5,237.4 616,237.5 616.5,237.6 617,237.7 617.5,237.8 618,238 618.5,238.1 619,238.2 619.5,238.3 620,238.5 620.5,238.6 621,238.7 621.5,238.9 622,239 622.5,239.2 623,239.4 623.5,239.6 624,239.8 624.5,240.1 625,240.3 625.5,240.6 626,240.9 626.5,241.2 627,241.5 627.5,241.8 628,242.1 628.5,242.4 629,242.7 629.5,243 630,243.3 630.5,243.7 631,244 631.5,244.3 632,244.6 632.5,244.9 633,245.3 633.5,245.6 634,245.9 634.5,246.2 635,246.5 635.5,246.8 636,247.2 636.5,247.6 637,247.9 637.5,248.3 638,248.7 638.5,249 639,249.4 639.5,249.7 640,250.1 640.5,250.4 641,250.7 641.5,251 642,251.2 642.5,251.5 643,251.7 643.5,251.9 644,252.1 644.5,252.3 645,252.5 645.5,252.7 646,252.9 646.5,253.1 647,253.2 647.5,253.3 648,253.4 648.5,253.5 649,253.6 649.5,253.6 650,253.5 650.5,253.3 651,253 651.5,252.6 652,252.1 652.5,251.6 653,251 653.5,250.3 654,249.7 654.5,249 655,248.3 655.5,247.7 656,247.1 656.5,246.5 657,245.9 657.5,245.3 658,244.6 658.5,244 659,243.3 659.5,242.5 660,241.7 660.5,240.9 661,240 661.5,239 662,237.9 662.5,236.9 663,235.9 663.5,234.9 664,234 664.5,233.2 665,232.3 665.5,231.4 666,230.5 666.5,229.5 667,228.6 667.5,227.7 668,226.7 668.5,225.9 669,225 669.5,224.3 670,223.5 670.5,222.9 671,222.4 671.5,221.9 672,221.6 672.5,221.4 673,221.3 673.5,221.3 674,221.4 674.5,221.6 675,221.7 675.5,222 676,222.2 676.5,222.4 677,222.7 677.5,223 678,223.2 678.5,223.4 679,223.6 679.5,223.8 680,224.1 680.5,224.3 681,224.6 681.5,224.8 682,225.1 682.5,225.3 683,225.6 683.5,225.8 684,226 684.5,226.1 685,226.2 685.5,226.3 686,226.3 686.5,226.2 687,225.8 687.5,225.4 688,224.7 688.5,224 689,223.1 689.5,222.2 690,221.2 690.5,220.1 691,219 691.5,217.9 692,216.7 692.5,215.3 693,213.6 693.5,211.8 694,209.8 694.5,207.6 695,205.4 695.5,203.1 696,200.8 696.5,198.4 697,196.1 697.5,193.9 698,191.6 698.5,189.1 699,186.6 699.5,184 700,181.4 700.5,178.8 701,176.2 701.5,173.6 702,171.1 702.5,168.8 703,166.5 703.5,164.4 704,162.3 704.5,160.3 705,158.2 705.5,156.3 706,154.4 706.5,152.5 707,150.7 707.5,148.9 708,147.2 708.5,145.6 709,144 709.5,142.4 710,140.8 710.5,139.3 711,137.8 711.5,136.4 712,134.9 712.5,133.6 713,132.3 713.5,131.1 714,130 714.5,129 715,128.1 715.5,127.3 716,126.5 716.5,125.8 717,125.1 717.5,124.3 718,123.5 718.5,122.5 719,121.5 719.5,120.8 720,120.3 720.5,120.2 721,120.5 721.5,121 722,121.7 722.5,122.7 723,123.7 723.5,124.9 724,126.2 724.5,128 725,130.4 725.5,133.5 726,136.9 726.5,140.7 727,144.8 727.5,148.9 728,153.3 728.5,158.3 729,163.9 729.5,170.1 730,177 730.5,185.3 731,196 731.5,206.8 732,215.9 732.5,224.5 733,232.7 733.5,240.7 734,248.5 734.5,256.1 735,263.4 735.5,270.4 736,277.3 736.5,283.9 737,290.2 737.5,296.2 738,301.8 738.5,307.2 739,312.4 739.5,317.3 740,321.9 740.5,326.3 741,330.4 741.5,334.3 742,337.9 742.5,341.4 743,344.8 743.5,348.1 744,351.3 744.5,354.4 745,357.3 745.5,360.1 746,362.6 746.5,364.9 747,367 747.5,368.9 748,370.7 748.5,372.4 749,374.1 749.5,375.7 750,377.4 750.5,379 751,380.7 751.5,382.4 752,384 752.5,385.7 753,387.3 753.5,388.9 754,390.5 754.5,392 755,393.5 755.5,394.9 756,396.4 756.5,397.8 757,399.1 757.5,400.4 758,401.6 758.5,402.8 759,403.9 759.5,405 760,406 760.5,407 761,408 761.5,409 762,410 762.5,410.9 763,411.8 763.5,412.8 764,413.7 764.5,414.6 765,415.4 765.5,416.3 766,417.2 766.5,418 767,418.9 767.5,419.7 768,420.5 768.5,421.3 769,422.1 769.5,422.9 770,423.7 770.5,424.4 771,425.2 771.5,425.9 772,426.6 772.5,427.3 773,428 773.5,428.7 774,429.4 774.5,430.1 775,430.8 775.5,431.5 776,432.1 776.5,432.8 777,433.4 777.5,434 778,434.7 778.5,435.3 779,435.9 779.5,436.5 780,437 780.5,437.6 781,438.2 781.5,438.7 782,439.2 782.5,439.8 783,440.3 783.5,440.8 784,441.3 784.5,441.8 785,442.3 785.5,442.8 786,443.3 786.5,443.8 787,444.2 787.5,444.7 788,445.2 788.5,445.6 789,446.1 789.5,446.5 790,446.9 790.5,447.4 791,447.8 791.5,448.2 792,448.7 792.5,449.1 793,449.5 793.5,449.9 794,450.3 794.5,450.7 795,451.1 795.5,451.5 796,451.9 796.5,452.3 797,452.6 797.5,453 798,453.4 798.5,453.7 799,454 799.5,454.4 800,454.7 800.5,455 801,455.4 801.5,455.7 802,456 802.5,456.3 803,456.6 803.5,456.9 804,457.2 804.5,457.5 805,457.8 805.5,458 806,458.3 806.5,458.6 807,458.9 807.5,459.2 808,459.4 808.5,459.7 809,460 809.5,460.2 810,460.5 810.5,460.8 811,461 811.5,461.3 812,461.5 812.5,461.8 813,462 813.5,462.3 814,462.5 814.5,462.7 815,463 815.5,463.2 816,463.4 816.5,463.6 817,463.9 817.5,464.1 818,464.3 818.5,464.5 819,464.7 819.5,465 820,465.2 820.5,465.4 821,465.6 821.5,465.8 822,466 822.5,466.2 823,466.4 823.5,466.6 824,466.8 824.5,467 825,467.2 825.5,467.4 826,467.6 826.5,467.8 827,467.9 827.5,468.1 828,468.3 828.5,468.5 829,468.7 829.5,468.9 830,469 830.5,469.2 831,469.4 831.5,469.6 832,469.7 832.5,469.9 833,470.1 833.5,470.2 834,470.4 834.5,470.6 835,470.7 835.5,470.9 836,471.1 836.5,471.2 837,471.4 837.5,471.5 838,471.7 838.5,471.8 839,472 839.5,472.2 840,472.3 840.5,472.5 841,472.6 841.5,472.8 842,472.9 842.5,473.1 843,473.2 843.5,473.4 844,473.5 844.5,473.7 845,473.8 845.5,474 846,474.1 846.5,474.3 847,474.4 847.5,474.5 848,474.7 848.5,474.8 849,475 849.5,475.1 850,475.3 850.5,475.4 851,475.5 851.5,475.7 852,475.8 852.5,476 853,476.1 853.5,476.2 854,476.4 854.5,476.5 855,476.7 855.5,476.8 856,476.9 856.5,477.1 857,477.2 857.5,477.4 858,477.5 858.5,477.6 859,477.8 859.5,477.9 860,478.1 860.5,478.2 861,478.3 861.5,478.5 862,478.6 862.5,478.7 863,478.9 863.5,479 864,479.1 864.5,479.3 865,479.4 865.5,479.5 866,479.7 866.5,479.8 867,479.9 867.5,480 868,480.2 868.5,480.3 869,480.4 869.5,480.5 870,480.6 870.5,480.8 871,480.9 871.5,481 872,481.1 872.5,481.2 873,481.3 873.5,481.4 874,481.5 874.5,481.6 875,481.7 875.5,481.8 876,481.9 876.5,482 877,482.1 877.5,482.2 878,482.3 878.5,482.4 879,482.5 879.5,482.6 880,482.7 880.5,482.8 881,482.9 881.5,483 882,483 882.5,483.1 883,483.2 883.5,483.3 884,483.4 884.5,483.5 885,483.6 885.5,483.6 886,483.7 886.5,483.8 887,483.9 887.5,484 888,484 888.5,484.1 889,484.2 889.5,484.3 890,484.4 890.5,484.4 891,484.5 891.5,484.6 892,484.7 892.5,484.7 893,484.8 893.5,484.9 894,485 894.5,485 895,485.1 895.5,485.2 896,485.3 896.5,485.3 897,485.4 897.5,485.5 898,485.5 898.5,485.6 899,485.7 899.5,485.8 900,485.8 900.5,485.9 901,486 901.5,486 902,486.1 902.5,486.2 903,486.2 903.5,486.3 904,486.4 904.5,486.4 905,486.5 905.5,486.6 906,486.6 906.5,486.7 907,486.7 907.5,486.8 908,486.9 908.5,486.9 909,487 909.5,487.1 910,487.1 910.5,487.2 911,487.2 911.5,487.3 912,487.4 912.5,487.4 913,487.5 913.5,487.5 914,487.6 914.5,487.6 915,487.7 915.5,487.8 916,487.8 916.5,487.9 917,487.9 917.5,488 918,488 918.5,488.1 919,488.1 919.5,488.2 920,488.3 920.5,488.3 921,488.4 921.5,488.4 922,488.5 922.5,488.5 923,488.6 923.5,488.6 924,488.7 924.5,488.7 925,488.8 925.5,488.8 926,488.9 926.5,488.9 927,489 927.5,489 928,489.1 928.5,489.1 929,489.2 929.5,489.2 930,489.3 930.5,489.3 931,489.4 931.5,489.4 932,489.5 932.5,489.5 933,489.6 933.5,489.6 934,489.6 934.5,489.7 935,489.7 935.5,489.8 936,489.8 936.5,489.9 937,489.9 937.5,490 938,490 938.5,490.1 939,490.1 939.5,490.1 940,490.2 940.5,490.2 941,490.3 941.5,490.3 942,490.4 942.5,490.4 943,490.4 943.5,490.5 944,490.5 944.5,490.6 945,490.6 945.5,490.7 946,490.7 946.5,490.7 947,490.8 947.5,490.8 948,490.9 948.5,490.9 949,490.9 949.5,491 950,491 950.5,491.1 951,491.1 951.5,491.1 952,491.2 952.5,491.2 953,491.2 953.5,491.3 954,491.3 954.5,491.4 955,491.4 955.5,491.4 956,491.5 956.5,491.5 957,491.5 957.5,491.6 958,491.6 958.5,491.6 959,491.7 959.5,491.7 960,491.8 960.5,491.8 961,491.8 961.5,491.9 962,491.9 962.5,491.9 963,491.9 963.5,492 964,492 964.5,492 965,492.1 965.5,492.1 966,492.1 966.5,492.2 967,492.2 967.5,492.2 968,492.3 968.5,492.3 969,492.3 969.5,492.4 970,492.4 970.5,492.4 971,492.4 971.5,492.5 972,492.5 972.5,492.5 973,492.6 973.5,492.6 974,492.6 974.5,492.6 975,492.7 975.5,492.7 976,492.7 976.5,492.8 977,492.8 977.5,492.8 978,492.9 978.5,492.9 979,492.9 979.5,492.9 980,493 980.5,493 981,493 981.5,493.1 982,493.1 982.5,493.1 983,493.1 983.5,493.2 984,493.2 984.5,493.2 985,493.3 985.5,493.3 986,493.3 986.5,493.3 987,493.4 987.5,493.4 988,493.4 988.5,493.5 989,493.5 989.5,493.5 990,493.5 990.5,493.6 991,493.6 991.5,493.6 992,493.7 992.5,493.7 993,493.7 993.5,493.7 994,493.8 994.5,493.8 995,493.8 995.5,493.9 996,493.9 996.5,493.9 997,493.9 997.5,494 998,494 998.5,494 999,494 999.5,494.1 1000,494.1" stroke="#0000ff"/><path d="M97,397.2 98,396.6 99,396 100,395.4 101,394.9 102,394.5 103,394.1 104,393.8 105,393.5 106,393.3 107,393 108,392.8 109,392.6 110,392.5 111,392.4 112,392.4 113,392.5 114,392.7 115,393 116,393.3 117,393.7 118,394.1 119,394.6 120,395.3 121,396.2 122,397.1 123,398 124,399 125,400 126,401.1 127,402.3 128,403.5 129,404.7 130,406 131,407.2 132,408.4 133,409.7 134,411 135,412.4 136,413.6 137,414.9 138,416 139,417 140,418 141,419 142,419.9 143,420.8 144,421.7 145,422.5 146,423.3 147,424 148,424.7 149,425.4 150,426.1 151,426.7 152,427.3 153,427.8 154,428.3 155,428.8 156,429.2 157,429.6 158,430 159,430.4 160,430.8 161,431.3 162,431.8 163,432.3 164,432.8 165,433.3 166,433.9 167,434.4 168,435 169,435.6 170,436.2 171,436.8 172,437.4 173,438 174,438.6 175,439.2 176,439.8 177,440.4 178,441.1 179,441.7 180,442.4 181,443 182,443.7 183,444.3 184,445 185,445.7 186,446.4 187,447.1 188,447.7 189,448.4 190,449.1 191,449.8 192,450.4 193,451.1 194,451.8 195,452.4 196,453.1 197,453.7 198,454.4 199,455 200,455.7 201,456.3 202,456.9 203,457.6 204,458.2 205,458.8 206,459.4 207,460 208,460.6 209,461.2 210,461.8 211,462.4 212,463 213,463.6 214,464.2 215,464.8 216,465.3 217,465.9 218,466.5 219,467 220,467.6 221,468.2 222,468.8 223,469.4 224,470.1 225,470.7 226,471.4 227,472.1 228,472.8 229,473.4 230,474.1 231,474.8 232,475.4 233,476 234,476.6 235,477.2 236,477.7 237,478.2 238,478.7 239,479.2 240,479.7 241,480.2 242,480.7 243,481.2 244,481.7 245,482.1 246,482.6 247,483.1 248,483.5 249,484 250,484.5 251,485 252,485.4 253,485.9 254,486.3 255,486.8 256,487.2 257,487.6 258,488 259,488.4 260,488.8 261,489.2 262,489.6 263,489.9 264,490.3 265,490.7 266,491 267,491.3 268,491.6 269,491.9 270,492.2 271,492.4 272,492.7 273,492.9 274,493.1 275,493.3 276,493.5 277,493.7 278,493.9 279,494.1 280,494.3 281,494.4 282,494.6 283,494.8 284,494.9 285,495.1 286,495.2 287,495.4 288,495.5 289,495.7 290,495.8 291,496 292,496.1 293,496.3 294,496.4 295,496.6 296,496.8 297,497 298,497.2 299,497.4 300,497.5 301,497.6 302,497.6 303,497.5 304,497.5 305,497.4 306,497.3 307,497.2 308,497 309,496.9 310,496.7 311,496.1 312,496.4 313,496.9 314,495.2 315,496.8 316,496.6 317,495.7 318,495.8 319,495.4 320,494.8 321,494.1 322,494.4 323,495.5 324,496.4 325,494 326,495.5 327,496.7 328,496 329,494.7 330,494.7 331,495.2 332,494.2 333,493.7 334,493.6 335,493.6 336,491.7 337,491.6 338,492.8 339,494 340,492.2 341,491.6 342,491.6 343,491.4 344,491.2 345,491 346,490.9 347,490.7 348,490.6 349,490.4 350,490.3 351,490.1 352,490 353,489.8 354,489.6 355,489.5 356,489.3 357,489 358,488.8 359,488.6 360,488.3 361,488.1 362,487.8 363,487.5 364,487.3 365,486.9 366,486.6 367,486.3 368,485.9 369,485.5 370,485.1 371,484.6 372,484 373,483.4 374,482.7 375,481.9 376,481.2 377,480.5 378,479.9 379,479.3 380,478.7 381,478.2 382,477.6 383,477.1 384,476.5 385,476 386,475.5 387,475 388,474.6 389,474.1 390,473.7 391,473.3 392,472.9 393,472.4 394,471.9 395,471.4 396,470.8 397,470.2 398,469.6 399,469 400,468.4 401,467.7 402,467.1 403,466.4 404,465.8 405,465.1 406,464.4 407,463.7 408,463 409,462.3 410,461.6 411,460.9 412,460.3 413,459.7 414,459 415,458.4 416,457.8 417,457.1 418,456.4 419,455.7 420,454.9 421,454.1 422,453.3 423,452.5 424,451.7 425,450.8 426,450 427,449.1 428,448.3 429,447.4 430,446.5 431,445.6 432,444.7 433,443.8 434,442.8 435,441.8 436,440.8 437,439.7 438,438.7 439,437.6 440,436.5 441,435.4 442,434.4 443,433.4 444,432.3 445,431.3 446,430.3 447,429.3 448,428.3 449,427.3 450,426.3 451,425.3 452,424.4 453,423.5 454,422.6 455,421.7 456,420.8 457,419.9 458,419.1 459,418.2 460,417.3 461,416.3 462,415.4 463,414.4 464,413.4 465,412.4 466,411.3 467,410.2 468,408.9 469,407.7 470,406.3 471,405 472,403.6 473,402.3 474,400.9 475,399.6 476,398.3 477,397 478,395.7 479,394.4 480,393.1 481,391.8 482,390.5 483,389.2 484,387.9 485,386.6 486,385.2 487,383.9 488,382.6 489,381.2 490,379.9 491,378.5 492,377.2 493,375.8 494,374.5 495,373.1 496,371.7 497,370.4 498,369 499,367.7 500,366.3 501,365 502,363.6 503,362.2 504,360.9 505,359.5 506,358.1 507,356.7 508,355.3 509,353.9 510,352.5 511,351.1 512,349.7 513,348.3 514,346.9 515,345.6 516,344.2 517,342.9 518,341.7 519,340.4 520,339.2 521,338 522,336.8 523,335.6 524,334.4 525,333.3 526,332.2 527,331 528,329.9 529,328.8 530,327.8 531,326.7 532,325.6 533,324.6 534,323.5 535,322.5 536,321.5 537,320.5 538,319.5 539,318.5 540,317.5 541,316.6 542,315.6 543,314.6 544,313.7 545,312.7 546,311.8 547,310.9 548,310 549,309.1 550,308.2 551,307.3 552,306.5 553,305.7 554,304.9 555,304.1 556,303.3 557,302.6 558,301.8 559,301 560,300.3 561,299.5 562,298.8 563,298.1 564,297.3 565,296.6 566,296 567,295.3 568,294.7 569,294.1 570,293.5 571,293 572,292.5 573,292.1 574,291.7 575,291.3 576,290.9 577,290.6 578,290.3 579,289.9 580,289.7 581,289.4 582,289.1 583,288.8 584,288.6 585,288.3 586,288.1 587,287.9 588,287.6 589,287.4 590,287.2 591,287 592,286.8 593,286.5 594,286.3 595,286 596,285.8 597,285.7 598,285.6 599,285.6 600,285.7 601,285.7 602,285.8 603,286 604,286.2 605,286.3 606,286.5 607,286.7 608,287 609,287.2 610,287.5 611,287.9 612,288.3 613,288.7 614,289.2 615,289.7 616,290.2 617,290.7 618,291.2 619,291.7 620,292.2 621,292.8 622,293.3 623,293.9 624,294.4 625,295 626,295.6 627,296.3 628,296.9 629,297.6 630,298.2 631,298.9 632,299.6 633,300.3 634,301.1 635,301.8 636,302.6 637,303.4 638,304.2 639,305.1 640,305.9 641,306.8 642,307.7 643,308.6 644,309.6 645,310.5 646,311.5 647,312.5 648,313.5 649,314.6 650,315.7 651,316.8 652,317.9 653,319.1 654,320.3 655,321.5 656,322.7 657,323.9 658,325.1 659,326.4 660,327.6 661,328.9 662,330.2 663,331.5 664,332.8 665,334.2 666,335.6 667,336.9 668,338.3 669,339.7 670,341 671,342.4 672,343.8 673,345.1 674,346.5 675,348 676,349.4 677,350.8 678,352.2 679,353.7 680,355.1 681,356.6 682,358 683,359.5 684,361 685,362.4 686,363.9 687,365.4 688,366.8 689,368.3 690,369.8 691,371.3 692,372.8 693,374.3 694,375.8 695,377.3 696,378.8 697,380.3 698,381.8 699,383.3 700,384.8 701,386.3 702,387.9 703,389.4 704,390.9 705,392.5 706,394 707,395.6 708,397.1 709,398.5 710,399.9 711,401.2 712,402.4 713,403.6 714,404.5 715,406 716,407.9 717,408.9 718,409.1 719,409.6 720,410.9 721,414 722,415.3 723,415.9 724,418.6 725,419.4 726,420.1 727,421.4 728,422.9 729,424.1 730,425 731,426 732,427.1 733,428.2 734,429.2 735,430.3 736,431.4 737,432.5 738,433.6 739,434.7 740,435.8 741,437 742,438.2 743,439.5 744,440.6 745,441.7 746,442.8 747,443.9 748,444.9 749,445.9 750,446.9 751,447.8 752,448.7 753,449.7 754,450.5 755,451.4 756,452.2 757,453.1 758,453.9 759,454.6 760,455.4 761,456.2 762,456.9 763,457.7 764,458.4 765,459.1 766,459.8 767,460.5 768,461.2 769,461.9 770,462.6 771,463.3 772,464 773,464.7 774,465.4 775,466.1 776,466.8 777,467.5 778,468.2 779,468.9 780,469.6 781,470.2 782,470.9 783,471.5 784,472.1 785,472.7 786,473.3 787,473.9 788,474.5 789,475 790,475.6 791,476.1 792,476.6 793,477.2 794,477.7 795,478.2 796,478.7 797,479.1 798,479.6 799,480 800,480.4 801,480.8 802,481.2 803,481.6 804,482 805,482.4 806,482.8 807,483.1 808,483.5 809,483.8 810,484.2 811,484.5 812,484.8 813,485.2 814,485.5 815,485.8 816,486 817,486.3 818,486.6 819,486.9 820,487.2 821,487.4 822,487.7 823,488 824,488.3 825,488.7 826,489 827,489.4 828,489.9 829,490.3 830,490.7 831,491.1 832,491.4 833,491.7 834,491.9 835,492.1 836,492.4 837,492.6 838,492.8 839,493 840,493.2 841,493.4 842,493.6 843,493.7 844,493.9 845,494.1 846,494.2 847,494.3 848,494.5 849,494.6 850,494.7 851,494.8 852,494.9 853,495 854,495.1 855,495.2 856,495.2 857,495.3 858,495.4 859,495.5 860,495.5 861,495.6 862,495.7 863,495.7 864,495.8 865,495.8 866,495.9 867,495.9 868,496 869,496 870,496.1 871,496.1 872,496.1 873,496.2 874,496.2 875,496.2 876,496.3 877,496.3 878,496.3 879,496.3 880,496.4 881,496.4 882,496.4 883,496.4 884,496.5 885,496.5 886,496.5 887,496.5 888,496.5 889,496.6 890,496.6 891,496.6 892,496.6 893,496.6 894,496.6 895,496.7 896,496.7 897,496.7 898,496.7 899,496.7 900,496.7 901,496.8 902,496.8 903,496.8 904,496.8 905,496.8 906,496.8 907,496.8 908,496.9 909,496.9 910,496.9 911,496.9 912,496.9 913,496.9 914,497 915,497 916,497 917,497 918,497 919,497.1 920,497.1 921,497.1 922,497.1 923,497.1 924,497.2 925,497.2 926,497.2 927,497.2 928,497.2 929,497.3 930,497.3 931,497.3 932,497.3 933,497.3 934,497.4 935,497.4 936,497.4 937,497.4 938,497.4 939,497.5 940,497.5 941,497.5 942,497.5 943,497.5 944,497.6 945,497.6 946,497.6 947,497.6 948,497.6 949,497.7 950,497.7 951,497.7 952,497.7 953,497.7 954,497.8 955,497.8 956,497.8 957,497.8 958,497.8 959,497.9 960,497.9 961,497.9 962,497.9 963,497.9 964,498 965,498 966,498 967,498 968,498 969,498.1 970,498.1 971,498.1 972,498.1 973,498.1 974,498.2 975,498.2 976,498.2 977,498.2 978,498.2 979,498.3 980,498.3 981,498.3 982,498.3 983,498.3 984,498.4 985,498.4 986,498.4 987,498.4 988,498.4 989,498.5 990,498.5 991,498.5 992,498.5 993,498.6 994,498.6 995,498.6 996,498.6 997,498.6 998,498.7 999,498.7 1000,498.7" stroke="#008000"/><path d="M97,402.8 98,402.5 99,402.3 100,402.1 101,401.9 102,401.8 103,401.7 104,401.6 105,401.5 106,401.5 107,401.5 108,401.5 109,401.6 110,401.7 111,401.8 112,402 113,402.2 114,402.4 115,402.6 116,403 117,403.5 118,404.2 119,404.8 120,405.6 121,406.3 122,407.1 123,407.9 124,408.8 125,409.8 126,410.9 127,412 128,413.1 129,414.3 130,415.5 131,416.9 132,418.3 133,419.7 134,421.1 135,422.4 136,423.6 137,424.7 138,425.8 139,426.8 140,427.8 141,428.8 142,429.7 143,430.6 144,431.5 145,432.4 146,433.3 147,434.1 148,435 149,435.7 150,436.5 151,437.1 152,437.8 153,438.4 154,439 155,439.6 156,440.1 157,440.6 158,441.1 159,441.7 160,442.1 161,442.6 162,443.1 163,443.5 164,443.9 165,444.3 166,444.8 167,445.2 168,445.6 169,446.1 170,446.5 171,447 172,447.5 173,448 174,448.5 175,449 176,449.5 177,450 178,450.5 179,451.1 180,451.6 181,452.2 182,452.8 183,453.4 184,454 185,454.6 186,455.2 187,455.8 188,456.4 189,457 190,457.6 191,458.2 192,458.7 193,459.3 194,459.8 195,460.4 196,460.9 197,461.5 198,462 199,462.6 200,463.1 201,463.7 202,464.2 203,464.8 204,465.3 205,465.8 206,466.4 207,466.9 208,467.4 209,468 210,468.5 211,469.1 212,469.6 213,470.2 214,470.8 215,471.4 216,472 217,472.7 218,473.4 219,474.1 220,474.7 221,475.4 222,476 223,476.6 224,477.1 225,477.6 226,478.2 227,478.7 228,479.2 229,479.6 230,480.1 231,480.6 232,481.1 233,481.5 234,482 235,482.5 236,482.9 237,483.4 238,483.9 239,484.4 240,484.8 241,485.3 242,485.7 243,486.2 244,486.6 245,487 246,487.4 247,487.8 248,488.2 249,488.5 250,488.9 251,489.2 252,489.5 253,489.9 254,490.2 255,490.5 256,490.9 257,491.2 258,491.6 259,492 260,492.4 261,492.8 262,493.2 263,493.6 264,494 265,494.4 266,494.8 267,495.2 268,495.6 269,496 270,496.4 271,496.8 272,497.2 273,497.7 274,498.1 275,498.5 276,499 277,499.4 278,499.8 279,500.2 280,500.6 281,500.9 282,501.2 283,501.5 284,501.8 285,502.1 286,502.3 287,502.5 288,502.8 289,503 290,503.2 291,503.4 292,503.7 293,503.9 294,504.1 295,504.4 296,504.7 297,504.9 298,505.2 299,505.5 300,505.8 301,506.1 302,506.3 303,506.5 304,506.7 305,506.8 306,506.8 307,506.2 308,506.4 309,506.9 310,507.2 311,507.3 312,507.4 313,507.8 314,508.4 315,506.3 316,505.3 317,505.2 318,505.9 319,506.4 320,507.2 321,508.4 322,507.6 323,507.3 324,507.4 325,508.1 326,506.4 327,505 328,504.9 329,505.3 330,505.2 331,504.9 332,505.8 333,506.5 334,505.7 335,502.7 336,503.5 337,503.8 338,503.5 339,502.7 340,502.3 341,502.1 342,501.8 343,501.5 344,501.2 345,500.9 346,500.7 347,500.4 348,500.1 349,499.9 350,499.6 351,499.4 352,499.2 353,499 354,498.8 355,498.6 356,498.4 357,498.2 358,498.1 359,498 360,497.8 361,497.7 362,497.7 363,497.6 364,497.5 365,497.4 366,497.3 367,497.2 368,497 369,496.9 370,496.7 371,496.4 372,496 373,495.6 374,495 375,494.4 376,493.8 377,493.3 378,492.7 379,492.2 380,491.6 381,491.1 382,490.5 383,489.9 384,489.4 385,488.8 386,488.3 387,487.8 388,487.3 389,486.8 390,486.2 391,485.8 392,485.3 393,484.8 394,484.3 395,483.8 396,483.4 397,483 398,482.6 399,482.1 400,481.7 401,481.2 402,480.7 403,480.1 404,479.6 405,478.9 406,478.3 407,477.6 408,476.9 409,476.2 410,475.5 411,474.8 412,474.1 413,473.3 414,472.5 415,471.8 416,471 417,470.2 418,469.5 419,468.8 420,468.1 421,467.4 422,466.8 423,466.1 424,465.4 425,464.7 426,463.9 427,463.1 428,462.3 429,461.4 430,460.5 431,459.6 432,458.7 433,457.7 434,456.8 435,455.8 436,454.8 437,453.8 438,452.8 439,451.8 440,450.8 441,449.8 442,448.8 443,447.9 444,447 445,446.1 446,445.2 447,444.3 448,443.4 449,442.5 450,441.5 451,440.5 452,439.5 453,438.4 454,437.4 455,436.3 456,435.2 457,434 458,432.9 459,431.8 460,430.7 461,429.5 462,428.4 463,427.3 464,426.1 465,425 466,423.9 467,422.8 468,421.7 469,420.6 470,419.6 471,418.5 472,417.4 473,416.4 474,415.3 475,414.2 476,413.1 477,412 478,410.9 479,409.8 480,408.7 481,407.6 482,406.4 483,405.3 484,404.1 485,402.9 486,401.7 487,400.4 488,399.1 489,397.8 490,396.5 491,395.2 492,393.9 493,392.5 494,391.2 495,389.9 496,388.5 497,387.2 498,385.9 499,384.5 500,383.2 501,382 502,380.7 503,379.4 504,378.2 505,376.9 506,375.6 507,374.4 508,373.1 509,371.8 510,370.6 511,369.3 512,368.1 513,366.9 514,365.7 515,364.5 516,363.4 517,362.2 518,361.1 519,360 520,359 521,358 522,357 523,356 524,355 525,354 526,353 527,352.1 528,351.1 529,350.2 530,349.3 531,348.4 532,347.6 533,346.7 534,345.9 535,345.1 536,344.3 537,343.6 538,342.8 539,342.1 540,341.4 541,340.7 542,340.1 543,339.4 544,338.8 545,338.1 546,337.5 547,336.9 548,336.3 549,335.7 550,335.2 551,334.6 552,334.1 553,333.5 554,333 555,332.5 556,332.1 557,331.6 558,331.1 559,330.7 560,330.2 561,329.8 562,329.4 563,328.9 564,328.5 565,328.1 566,327.7 567,327.4 568,327 569,326.6 570,326.3 571,325.9 572,325.6 573,325.3 574,325 575,324.7 576,324.3 577,324 578,323.7 579,323.4 580,323 581,322.7 582,322.4 583,322.1 584,321.8 585,321.6 586,321.3 587,321.1 588,320.9 589,320.8 590,320.6 591,320.6 592,320.5 593,320.4 594,320.4 595,320.4 596,320.3 597,320.3 598,320.3 599,320.3 600,320.3 601,320.4 602,320.5 603,320.6 604,320.7 605,320.9 606,321 607,321.2 608,321.4 609,321.6 610,321.8 611,322 612,322.2 613,322.5 614,322.8 615,323.2 616,323.5 617,323.9 618,324.4 619,324.8 620,325.3 621,325.7 622,326.2 623,326.7 624,327.1 625,327.6 626,328 627,328.5 628,328.9 629,329.4 630,329.8 631,330.3 632,330.8 633,331.2 634,331.7 635,332.2 636,332.7 637,333.2 638,333.7 639,334.3 640,334.8 641,335.4 642,336 643,336.7 644,337.3 645,338 646,338.7 647,339.5 648,340.3 649,341.2 650,342.1 651,343.1 652,344.2 653,345.3 654,346.4 655,347.6 656,348.9 657,350.3 658,352 659,353.7 660,355.4 661,357.1 662,358.7 663,360.1 664,361.4 665,362.6 666,363.8 667,364.9 668,366 669,367.1 670,368.1 671,369.2 672,370.2 673,371.3 674,372.4 675,373.5 676,374.6 677,375.6 678,376.7 679,377.7 680,378.8 681,379.8 682,380.9 683,381.9 684,383 685,384.2 686,385.3 687,386.6 688,387.8 689,389.1 690,390.5 691,391.9 692,393.4 693,394.9 694,396.5 695,398.1 696,399.8 697,401.6 698,403.6 699,405.8 700,408.1 701,410.4 702,412.7 703,414.8 704,416.8 705,418.5 706,419.8 707,420.7 708,421.5 709,422.5 710,423.5 711,424.6 712,425.7 713,426.9 714,428.3 715,430 716,432.3 717,432.9 718,435 719,437.1 720,438.5 721,437.1 722,437.5 723,438.9 724,440.1 725,440.8 726,440.9 727,440.3 728,441.8 729,441.9 730,441.3 731,441 732,441.6 733,442.2 734,442.6 735,443.3 736,443.5 737,443.6 738,444.2 739,444.9 740,445.6 741,446.2 742,446.9 743,447.6 744,448.3 745,449 746,449.7 747,450.4 748,451.2 749,451.9 750,452.6 751,453.4 752,454.2 753,454.9 754,455.7 755,456.5 756,457.3 757,458 758,458.7 759,459.4 760,460.1 761,460.7 762,461.4 763,462 764,462.6 765,463.3 766,463.9 767,464.5 768,465.1 769,465.7 770,466.3 771,466.9 772,467.5 773,468.1 774,468.7 775,469.3 776,469.9 777,470.5 778,471 779,471.6 780,472.2 781,472.7 782,473.3 783,473.8 784,474.4 785,474.9 786,475.5 787,476 788,476.6 789,477.2 790,477.7 791,478.3 792,478.8 793,479.3 794,479.8 795,480.3 796,480.7 797,481.1 798,481.5 799,481.9 800,482.3 801,482.7 802,483 803,483.4 804,483.7 805,484.1 806,484.4 807,484.7 808,485.1 809,485.4 810,485.7 811,486 812,486.3 813,486.6 814,486.8 815,487.1 816,487.4 817,487.7 818,487.9 819,488.2 820,488.4 821,488.7 822,488.9 823,489.1 824,489.4 825,489.6 826,489.8 827,490.1 828,490.3 829,490.6 830,490.8 831,491.1 832,491.3 833,491.6 834,491.9 835,492.1 836,492.4 837,492.6 838,492.9 839,493.1 840,493.4 841,493.6 842,493.8 843,494.1 844,494.3 845,494.5 846,494.7 847,494.8 848,495 849,495.2 850,495.3 851,495.4 852,495.5 853,495.6 854,495.7 855,495.7 856,495.8 857,495.9 858,495.9 859,496 860,496.1 861,496.1 862,496.2 863,496.2 864,496.3 865,496.3 866,496.4 867,496.4 868,496.4 869,496.5 870,496.5 871,496.5 872,496.6 873,496.6 874,496.6 875,496.6 876,496.6 877,496.7 878,496.7 879,496.7 880,496.7 881,496.7 882,496.7 883,496.7 884,496.8 885,496.8 886,496.8 887,496.8 888,496.8 889,496.8 890,496.8 891,496.8 892,496.8 893,496.9 894,496.9 895,496.9 896,496.9 897,496.9 898,496.9 899,496.9 900,496.9 901,496.9 902,496.9 903,496.9 904,497 905,497 906,497 907,497 908,497 909,497 910,497 911,497 912,497 913,497.1 914,497.1 915,497.1 916,497.1 917,497.1 918,497.1 919,497.2 920,497.2 921,497.2 922,497.2 923,497.2 924,497.2 925,497.3 926,497.3 927,497.3 928,497.3 929,497.3 930,497.4 931,497.4 932,497.4 933,497.4 934,497.4 935,497.5 936,497.5 937,497.5 938,497.5 939,497.5 940,497.6 941,497.6 942,497.6 943,497.6 944,497.7 945,497.7 946,497.7 947,497.7 948,497.8 949,497.8 950,497.8 951,497.8 952,497.9 953,497.9 954,497.9 955,497.9 956,498 957,498 958,498 959,498.1 960,498.1 961,498.1 962,498.1 963,498.2 964,498.2 965,498.2 966,498.3 967,498.3 968,498.3 969,498.3 970,498.4 971,498.4 972,498.4 973,498.5 974,498.5 975,498.5 976,498.6 977,498.6 978,498.6 979,498.7 980,498.7 981,498.7 982,498.8 983,498.8 984,498.8 985,498.9 986,498.9 987,498.9 988,499 989,499 990,499 991,499.1 992,499.1 993,499.1 994,499.2 995,499.2 996,499.3 997,499.3 998,499.3 999,499.4 1000,499.4" stroke="#00ff00"/></g><g clip-path="url(#ca)"><path d="M94.2,285.8h5.6l-2.8,-4.7zM95.8,287.1h5.6l-2.8,-4.7zM97.5,288.2h5.6l-2.8,-4.7zM99.1,289.1h5.6l-2.8,-4.7zM100.8,289.6h5.6l-2.8,-4.7zM102.4,290.1h5.6l-2.8,-4.7zM104.1,290.4h5.6l-2.8,-4.7zM105.7,290.7h5.6l-2.8,-4.7zM107.3,291.0h5.6l-2.8,-4.7zM109.0,291.3h5.6l-2.8,-4.7zM110.6,291.7h5.6l-2.8,-4.7zM112.3,292.1h5.6l-2.8,-4.7zM113.9,292.5h5.6l-2.8,-4.7zM115.6,292.9h5.6l-2.8,-4.7zM117.2,293.4h5.6l-2.8,-4.7zM118.8,293.8h5.6l-2.8,-4.7zM120.5,294.2h5.6l-2.8,-4.7zM122.1,294.6h5.6l-2.8,-4.7zM123.8,295.0h5.6l-2.8,-4.7zM125.4,295.5h5.6l-2.8,-4.7zM127.1,295.9h5.6l-2.8,-4.7zM128.7,296.2h5.6l-2.8,-4.7zM130.3,296.4h5.6l-2.8,-4.7zM132.0,296.2h5.6l-2.8,-4.7zM133.6,295.6h5.6l-2.8,-4.7zM135.3,294.6h5.6l-2.8,-4.7zM136.9,293.4h5.6l-2.8,-4.7zM138.6,292.2h5.6l-2.8,-4.7zM140.2,291.0h5.6l-2.8,-4.7zM141.8,289.7h5.6l-2.8,-4.7zM143.5,288.1h5.6l-2.8,-4.7zM145.1,286.5h5.6l-2.8,-4.7zM146.8,284.9h5.6l-2.8,-4.7zM148.4,283.5h5.6l-2.8,-4.7zM150.1,282.5h5.6l-2.8,-4.7zM151.7,281.6h5.6l-2.8,-4.7zM153.3,280.7h5.6l-2.8,-4.7zM155.0,280.0h5.6l-2.8,-4.7zM156.6,279.4h5.6l-2.8,-4.7zM158.3,279.1h5.6l-2.8,-4.7zM159.9,279.0h5.6l-2.8,-4.7zM161.6,279.6h5.6l-2.8,-4.7zM163.2,280.5h5.6l-2.8,-4.7zM164.8,281.7h5.6l-2.8,-4.7zM166.5,282.9h5.6l-2.8,-4.7zM168.1,284.1h5.6l-2.8,-4.7zM169.8,285.5h5.6l-2.8,-4.7zM171.4,287.1h5.6l-2.8,-4.7zM173.1,288.7h5.6l-2.8,-4.7zM174.7,290.1h5.6l-2.8,-4.7zM176.3,291.1h5.6l-2.8,-4.7zM178.0,292.0h5.6l-2.8,-4.7zM179.6,292.8h5.6l-2.8,-4.7zM181.3,293.6h5.6l-2.8,-4.7zM182.9,294.2h5.6l-2.8,-4.7zM184.6,294.5h5.6l-2.8,-4.7zM186.2,294.6h5.6l-2.8,-4.7zM187.9,294.4h5.6l-2.8,-4.7zM189.5,294.0h5.6l-2.8,-4.7zM191.1,293.6h5.6l-2.8,-4.7zM192.8,293.0h5.6l-2.8,-4.7zM194.4,292.5h5.6l-2.8,-4.7zM196.1,292.0h5.6l-2.8,-4.7zM197.7,291.5h5.6l-2.8,-4.7zM199.4,291.0h5.6l-2.8,-4.7zM201.0,290.4h5.6l-2.8,-4.7zM202.6,289.7h5.6l-2.8,-4.7zM204.3,288.9h5.6l-2.8,-4.7zM205.9,287.9h5.6l-2.8,-4.7zM207.6,286.5h5.6l-2.8,-4.7zM209.2,285.3h5.6l-2.8,-4.7zM210.9,284.0h5.6l-2.8,-4.7zM212.5,282.6h5.6l-2.8,-4.7zM214.1,281.1h5.6l-2.8,-4.7zM215.8,279.3h5.6l-2.8,-4.7zM217.4,277.4h5.6l-2.8,-4.7zM219.1,275.5h5.6l-2.8,-4.7zM220.7,273.8h5.6l-2.8,-4.7zM222.4,272.0h5.6l-2.8,-4.7zM224.0,270.4h5.6l-2.8,-4.7zM225.6,269.1h5.6l-2.8,-4.7zM227.3,267.7h5.6l-2.8,-4.7zM228.9,266.6h5.6l-2.8,-4.7zM230.6,265.9h5.6l-2.8,-4.7zM232.2,265.8h5.6l-2.8,-4.7zM233.9,265.8h5.6l-2.8,-4.7zM235.5,265.8h5.6l-2.8,-4.7zM237.1,265.8h5.6l-2.8,-4.7zM238.8,266.0h5.6l-2.8,-4.7zM240.4,266.3h5.6l-2.8,-4.7zM242.1,266.8h5.6l-2.8,-4.7zM243.7,267.1h5.6l-2.8,-4.7zM245.4,267.5h5.6l-2.8,-4.7zM247.0,267.8h5.6l-2.8,-4.7zM248.6,268.0h5.6l-2.8,-4.7zM250.3,267.8h5.6l-2.8,-4.7zM251.9,267.1h5.6l-2.8,-4.7zM253.6,266.1h5.6l-2.8,-4.7zM255.2,264.6h5.6l-2.8,-4.7zM256.9,262.3h5.6l-2.8,-4.7zM258.5,259.4h5.6l-2.8,-4.7zM260.1,255.3h5.6l-2.8,-4.7zM261.8,250.0h5.6l-2.8,-4.7zM263.4,244.2h5.6l-2.8,-4.7zM265.1,238.7h5.6l-2.8,-4.7zM266.7,234.7h5.6l-2.8,-4.7zM268.4,230.7h5.6l-2.8,-4.7zM270.0,226.6h5.6l-2.8,-4.7zM271.6,221.9h5.6l-2.8,-4.7zM273.3,200.5h5.6l-2.8,-4.7zM274.9,192.1h5.6l-2.8,-4.7zM276.6,187.1h5.6l-2.8,-4.7zM278.2,183.7h5.6l-2.8,-4.7zM279.9,180.3h5.6l-2.8,-4.7zM281.5,176.3h5.6l-2.8,-4.7zM283.1,173.0h5.6l-2.8,-4.7zM284.8,169.9h5.6l-2.8,-4.7zM286.4,166.8h5.6l-2.8,-4.7zM288.1,163.9h5.6l-2.8,-4.7zM289.7,161.2h5.6l-2.8,-4.7zM291.4,158.6h5.6l-2.8,-4.7zM293.0,155.6h5.6l-2.8,-4.7zM294.6,152.1h5.6l-2.8,-4.7zM296.3,147.6h5.6l-2.8,-4.7zM297.9,141.7h5.6l-2.8,-4.7zM299.6,134.9h5.6l-2.8,-4.7zM301.2,127.8h5.6l-2.8,-4.7zM302.9,119.9h5.6l-2.8,-4.7zM304.5,112.1h5.6l-2.8,-4.7zM306.1,104.9h5.6l-2.8,-4.7zM307.8,97.8h5.6l-2.8,-4.7zM309.4,90.2h5.6l-2.8,-4.7zM311.1,82.9h5.6l-2.8,-4.7zM312.7,77.8h5.6l-2.8,-4.7zM314.4,73.9h5.6l-2.8,-4.7zM316.0,70.9h5.6l-2.8,-4.7zM317.6,68.0h5.6l-2.8,-4.7zM319.3,66.3h5.6l-2.8,-4.7zM320.9,67.1h5.6l-2.8,-4.7zM322.6,69.2h5.6l-2.8,-4.7zM324.2,71.6h5.6l-2.8,-4.7zM325.9,74.6h5.6l-2.8,-4.7zM327.5,78.7h5.6l-2.8,-4.7zM329.1,84.8h5.6l-2.8,-4.7zM330.8,92.2h5.6l-2.8,-4.7zM332.4,99.9h5.6l-2.8,-4.7zM334.1,108.4h5.6l-2.8,-4.7zM335.7,117.4h5.6l-2.8,-4.7zM337.4,126.8h5.6l-2.8,-4.7zM339.0,136.2h5.6l-2.8,-4.7zM340.6,145.9h5.6l-2.8,-4.7zM342.3,154.7h5.6l-2.8,-4.7zM343.9,161.9h5.6l-2.8,-4.7zM345.6,167.8h5.6l-2.8,-4.7zM347.2,171.5h5.6l-2.8,-4.7zM348.9,174.5h5.6l-2.8,-4.7zM350.5,176.4h5.6l-2.8,-4.7zM352.2,176.7h5.6l-2.8,-4.7zM353.8,176.4h5.6l-2.8,-4.7zM355.4,176.0h5.6l-2.8,-4.7zM357.1,175.4h5.6l-2.8,-4.7zM358.7,174.5h5.6l-2.8,-4.7zM360.4,173.0h5.6l-2.8,-4.7zM362.0,171.2h5.6l-2.8,-4.7zM363.7,169.2h5.6l-2.8,-4.7zM365.3,167.1h5.6l-2.8,-4.7zM366.9,164.6h5.6l-2.8,-4.7zM368.6,161.9h5.6l-2.8,-4.7zM370.2,159.6h5.6l-2.8,-4.7zM371.9,157.9h5.6l-2.8,-4.7zM373.5,156.5h5.6l-2.8,-4.7zM375.2,155.3h5.6l-2.8,-4.7zM376.8,154.3h5.6l-2.8,-4.7zM378.4,153.9h5.6l-2.8,-4.7zM380.1,154.4h5.6l-2.8,-4.7zM381.7,156.0h5.6l-2.8,-4.7zM383.4,158.0h5.6l-2.8,-4.7zM385.0,159.8h5.6l-2.8,-4.7zM386.7,160.8h5.6l-2.8,-4.7zM388.3,161.4h5.6l-2.8,-4.7zM389.9,162.0h5.6l-2.8,-4.7zM391.6,162.5h5.6l-2.8,-4.7zM393.2,163.3h5.6l-2.8,-4.7zM394.9,164.2h5.6l-2.8,-4.7zM396.5,165.4h5.6l-2.8,-4.7zM398.2,166.9h5.6l-2.8,-4.7zM399.8,168.7h5.6l-2.8,-4.7zM401.4,171.2h5.6l-2.8,-4.7zM403.1,174.0h5.6l-2.8,-4.7zM404.7,176.8h5.6l-2.8,-4.7zM406.4,180.9h5.6l-2.8,-4.7zM408.0,186.9h5.6l-2.8,-4.7zM409.7,192.0h5.6l-2.8,-4.7zM411.3,196.5h5.6l-2.8,-4.7zM412.9,202.9h5.6l-2.8,-4.7zM414.6,209.8h5.6l-2.8,-4.7zM416.2,216.8h5.6l-2.8,-4.7zM417.9,223.7h5.6l-2.8,-4.7zM419.5,231.5h5.6l-2.8,-4.7zM421.2,239.3h5.6l-2.8,-4.7zM422.8,246.9h5.6l-2.8,-4.7zM424.4,254.7h5.6l-2.8,-4.7zM426.1,262.4h5.6l-2.8,-4.7zM427.7,270.3h5.6l-2.8,-4.7zM429.4,278.1h5.6l-2.8,-4.7zM431.0,285.7h5.6l-2.8,-4.7zM432.7,293.0h5.6l-2.8,-4.7zM434.3,299.9h5.6l-2.8,-4.7zM435.9,307.3h5.6l-2.8,-4.7zM437.6,314.7h5.6l-2.8,-4.7zM439.2,321.6h5.6l-2.8,-4.7zM440.9,328.1h5.6l-2.8,-4.7zM442.5,334.4h5.6l-2.8,-4.7zM444.2,340.4h5.6l-2.8,-4.7zM445.8,346.6h5.6l-2.8,-4.7zM447.4,353.0h5.6l-2.8,-4.7zM449.1,358.7h5.6l-2.8,-4.7zM450.7,363.5h5.6l-2.8,-4.7zM452.4,367.9h5.6l-2.8,-4.7zM454.0,371.9h5.6l-2.8,-4.7zM455.7,375.6h5.6l-2.8,-4.7zM457.3,379.1h5.6l-2.8,-4.7zM458.9,382.5h5.6l-2.8,-4.7zM460.6,385.6h5.6l-2.8,-4.7zM462.2,388.6h5.6l-2.8,-4.7zM463.9,391.3h5.6l-2.8,-4.7zM465.5,393.9h5.6l-2.8,-4.7zM467.2,396.3h5.6l-2.8,-4.7zM468.8,398.5h5.6l-2.8,-4.7zM470.4,400.7h5.6l-2.8,-4.7zM472.1,402.7h5.6l-2.8,-4.7zM473.7,404.6h5.6l-2.8,-4.7zM475.4,406.4h5.6l-2.8,-4.7zM477.0,408.1h5.6l-2.8,-4.7zM478.7,409.6h5.6l-2.8,-4.7zM480.3,411.1h5.6l-2.8,-4.7zM481.9,412.4h5.6l-2.8,-4.7zM483.6,413.6h5.6l-2.8,-4.7zM485.2,414.7h5.6l-2.8,-4.7zM486.9,415.9h5.6l-2.8,-4.7zM488.5,416.9h5.6l-2.8,-4.7zM490.2,417.9h5.6l-2.8,-4.7zM491.8,418.9h5.6l-2.8,-4.7zM493.4,419.8h5.6l-2.8,-4.7zM495.1,420.6h5.6l-2.8,-4.7zM496.7,421.5h5.6l-2.8,-4.7zM498.4,422.2h5.6l-2.8,-4.7zM500.0,423.0h5.6l-2.8,-4.7zM501.7,423.7h5.6l-2.8,-4.7zM503.3,424.4h5.6l-2.8,-4.7zM504.9,425.1h5.6l-2.8,-4.7zM506.6,425.8h5.6l-2.8,-4.7zM508.2,426.4h5.6l-2.8,-4.7zM509.9,427.0h5.6l-2.8,-4.7zM511.5,427.5h5.6l-2.8,-4.7zM513.2,428.0h5.6l-2.8,-4.7zM514.8,428.4h5.6l-2.8,-4.7zM516.5,428.8h5.6l-2.8,-4.7zM518.1,429.1h5.6l-2.8,-4.7zM519.7,429.3h5.6l-2.8,-4.7zM521.4,429.6h5.6l-2.8,-4.7zM523.0,429.8h5.6l-2.8,-4.7zM524.7,430.0h5.6l-2.8,-4.7zM526.3,430.1h5.6l-2.8,-4.7zM528.0,430.1h5.6l-2.8,-4.7zM529.6,430.0h5.6l-2.8,-4.7zM531.2,429.9h5.6l-2.8,-4.7zM532.9,429.6h5.6l-2.8,-4.7zM534.5,429.3h5.6l-2.8,-4.7zM536.2,429.0h5.6l-2.8,-4.7zM537.8,428.6h5.6l-2.8,-4.7zM539.5,428.2h5.6l-2.8,-4.7zM541.1,427.8h5.6l-2.8,-4.7zM542.7,427.4h5.6l-2.8,-4.7zM544.4,427.0h5.6l-2.8,-4.7zM546.0,426.7h5.6l-2.8,-4.7zM547.7,426.4h5.6l-2.8,-4.7zM549.3,426.1h5.6l-2.8,-4.7zM551.0,425.7h5.6l-2.8,-4.7zM552.6,425.4h5.6l-2.8,-4.7zM554.2,425.1h5.6l-2.8,-4.7zM555.9,424.8h5.6l-2.8,-4.7zM557.5,424.4h5.6l-2.8,-4.7zM559.2,424.1h5.6l-2.8,-4.7zM560.8,423.8h5.6l-2.8,-4.7zM562.5,423.4h5.6l-2.8,-4.7zM564.1,423.1h5.6l-2.8,-4.7zM565.7,422.8h5.6l-2.8,-4.7zM567.4,422.4h5.6l-2.8,-4.7zM569.0,422.1h5.6l-2.8,-4.7zM570.7,421.7h5.6l-2.8,-4.7zM572.3,421.4h5.6l-2.8,-4.7zM574.0,421.1h5.6l-2.8,-4.7zM575.6,420.8h5.6l-2.8,-4.7zM577.2,420.4h5.6l-2.8,-4.7zM578.9,420.1h5.6l-2.8,-4.7zM580.5,419.8h5.6l-2.8,-4.7zM582.2,419.5h5.6l-2.8,-4.7zM583.8,419.3h5.6l-2.8,-4.7zM585.5,419.0h5.6l-2.8,-4.7zM587.1,418.7h5.6l-2.8,-4.7zM588.7,418.4h5.6l-2.8,-4.7zM590.4,418.1h5.6l-2.8,-4.7zM592.0,417.8h5.6l-2.8,-4.7zM593.7,417.4h5.6l-2.8,-4.7zM595.3,417.1h5.6l-2.8,-4.7zM597.0,416.8h5.6l-2.8,-4.7zM598.6,416.4h5.6l-2.8,-4.7zM600.2,416.1h5.6l-2.8,-4.7zM601.9,415.8h5.6l-2.8,-4.7zM603.5,415.4h5.6l-2.8,-4.7zM605.2,415.1h5.6l-2.8,-4.7zM606.8,414.7h5.6l-2.8,-4.7zM608.5,414.4h5.6l-2.8,-4.7zM610.1,414.0h5.6l-2.8,-4.7zM611.7,413.7h5.6l-2.8,-4.7zM613.4,413.4h5.6l-2.8,-4.7zM615.0,413.1h5.6l-2.8,-4.7zM616.7,412.9h5.6l-2.8,-4.7zM618.3,412.6h5.6l-2.8,-4.7zM620.0,412.3h5.6l-2.8,-4.7zM621.6,412.1h5.6l-2.8,-4.7zM623.2,411.9h5.6l-2.8,-4.7zM624.9,411.7h5.6l-2.8,-4.7zM626.5,411.7h5.6l-2.8,-4.7zM628.2,411.8h5.6l-2.8,-4.7zM629.8,412.2h5.6l-2.8,-4.7zM631.5,412.6h5.6l-2.8,-4.7zM633.1,413.1h5.6l-2.8,-4.7zM634.7,413.5h5.6l-2.8,-4.7zM636.4,413.8h5.6l-2.8,-4.7zM638.0,414.1h5.6l-2.8,-4.7zM639.7,414.3h5.6l-2.8,-4.7zM641.3,414.4h5.6l-2.8,-4.7zM643.0,414.5h5.6l-2.8,-4.7zM644.6,413.9h5.6l-2.8,-4.7zM646.2,412.3h5.6l-2.8,-4.7zM647.9,410.2h5.6l-2.8,-4.7zM649.5,407.1h5.6l-2.8,-4.7zM651.2,403.3h5.6l-2.8,-4.7zM652.8,399.3h5.6l-2.8,-4.7zM654.5,394.8h5.6l-2.8,-4.7zM656.1,390.3h5.6l-2.8,-4.7zM657.7,386.0h5.6l-2.8,-4.7zM659.4,381.6h5.6l-2.8,-4.7zM661.0,376.9h5.6l-2.8,-4.7zM662.7,371.8h5.6l-2.8,-4.7zM664.3,367.0h5.6l-2.8,-4.7zM666.0,362.1h5.6l-2.8,-4.7zM667.6,357.8h5.6l-2.8,-4.7zM669.2,354.8h5.6l-2.8,-4.7zM670.9,352.5h5.6l-2.8,-4.7zM672.5,350.6h5.6l-2.8,-4.7zM674.2,349.2h5.6l-2.8,-4.7zM675.8,348.3h5.6l-2.8,-4.7zM677.5,347.7h5.6l-2.8,-4.7zM679.1,346.9h5.6l-2.8,-4.7zM680.8,345.7h5.6l-2.8,-4.7zM682.4,344.1h5.6l-2.8,-4.7zM684.0,341.8h5.6l-2.8,-4.7zM685.7,337.8h5.6l-2.8,-4.7zM687.3,332.9h5.6l-2.8,-4.7zM689.0,327.1h5.6l-2.8,-4.7zM690.6,318.8h5.6l-2.8,-4.7zM692.3,310.7h5.6l-2.8,-4.7zM693.9,302.1h5.6l-2.8,-4.7zM695.5,289.3h5.6l-2.8,-4.7zM697.2,278.2h5.6l-2.8,-4.7zM698.8,269.0h5.6l-2.8,-4.7zM700.5,259.3h5.6l-2.8,-4.7zM702.1,246.1h5.6l-2.8,-4.7zM703.8,237.4h5.6l-2.8,-4.7zM705.4,229.4h5.6l-2.8,-4.7zM707.0,221.7h5.6l-2.8,-4.7zM708.7,214.8h5.6l-2.8,-4.7zM710.3,208.7h5.6l-2.8,-4.7zM712.0,203.1h5.6l-2.8,-4.7zM713.6,197.9h5.6l-2.8,-4.7zM715.3,193.1h5.6l-2.8,-4.7zM716.9,187.6h5.6l-2.8,-4.7zM718.5,185.6h5.6l-2.8,-4.7zM720.2,189.9h5.6l-2.8,-4.7zM721.8,195.5h5.6l-2.8,-4.7zM723.5,204.1h5.6l-2.8,-4.7zM725.1,219.5h5.6l-2.8,-4.7zM726.8,239.8h5.6l-2.8,-4.7zM728.4,260.1h5.6l-2.8,-4.7zM730.0,290.2h5.6l-2.8,-4.7zM731.7,315.6h5.6l-2.8,-4.7zM733.3,337.4h5.6l-2.8,-4.7zM735.0,356.9h5.6l-2.8,-4.7zM736.6,371.0h5.6l-2.8,-4.7zM738.3,383.7h5.6l-2.8,-4.7zM739.9,395.1h5.6l-2.8,-4.7zM741.5,405.7h5.6l-2.8,-4.7zM743.2,413.0h5.6l-2.8,-4.7zM744.8,419.8h5.6l-2.8,-4.7zM746.5,426.0h5.6l-2.8,-4.7zM748.1,430.4h5.6l-2.8,-4.7zM749.8,435.3h5.6l-2.8,-4.7zM751.4,439.3h5.6l-2.8,-4.7zM753.0,442.8h5.6l-2.8,-4.7zM754.7,445.8h5.6l-2.8,-4.7zM756.3,448.6h5.6l-2.8,-4.7zM758.0,451.1h5.6l-2.8,-4.7zM759.6,453.2h5.6l-2.8,-4.7zM761.3,455.0h5.6l-2.8,-4.7zM762.9,456.6h5.6l-2.8,-4.7zM764.5,458.1h5.6l-2.8,-4.7zM766.2,459.4h5.6l-2.8,-4.7zM767.8,460.7h5.6l-2.8,-4.7zM769.5,462.0h5.6l-2.8,-4.7zM771.1,463.3h5.6l-2.8,-4.7zM772.8,464.5h5.6l-2.8,-4.7zM774.4,465.7h5.6l-2.8,-4.7zM776.0,466.8h5.6l-2.8,-4.7zM777.7,467.7h5.6l-2.8,-4.7zM779.3,468.5h5.6l-2.8,-4.7zM781.0,469.3h5.6l-2.8,-4.7zM782.6,470.0h5.6l-2.8,-4.7zM784.3,470.7h5.6l-2.8,-4.7zM785.9,471.4h5.6l-2.8,-4.7zM787.5,472.0h5.6l-2.8,-4.7zM789.2,472.5h5.6l-2.8,-4.7zM790.8,473.0h5.6l-2.8,-4.7zM792.5,473.4h5.6l-2.8,-4.7zM794.1,473.8h5.6l-2.8,-4.7zM795.8,474.2h5.6l-2.8,-4.7zM797.4,474.6h5.6l-2.8,-4.7zM799.0,474.9h5.6l-2.8,-4.7zM800.7,475.2h5.6l-2.8,-4.7zM802.3,475.5h5.6l-2.8,-4.7zM804.0,475.8h5.6l-2.8,-4.7zM805.6,476.1h5.6l-2.8,-4.7zM807.3,476.4h5.6l-2.8,-4.7zM808.9,476.7h5.6l-2.8,-4.7zM810.5,476.9h5.6l-2.8,-4.7zM812.2,477.2h5.6l-2.8,-4.7zM813.8,477.4h5.6l-2.8,-4.7zM815.5,477.7h5.6l-2.8,-4.7zM817.1,477.9h5.6l-2.8,-4.7zM818.8,478.1h5.6l-2.8,-4.7zM820.4,478.4h5.6l-2.8,-4.7zM822.0,478.6h5.6l-2.8,-4.7zM823.7,478.9h5.6l-2.8,-4.7zM825.3,479.1h5.6l-2.8,-4.7zM827.0,479.4h5.6l-2.8,-4.7zM828.6,479.7h5.6l-2.8,-4.7zM830.3,480.0h5.6l-2.8,-4.7zM831.9,480.3h5.6l-2.8,-4.7zM833.6,480.6h5.6l-2.8,-4.7zM835.2,481.0h5.6l-2.8,-4.7zM836.8,481.3h5.6l-2.8,-4.7zM838.5,481.7h5.6l-2.8,-4.7zM840.1,482.1h5.6l-2.8,-4.7zM841.8,482.4h5.6l-2.8,-4.7zM843.4,482.8h5.6l-2.8,-4.7zM845.1,483.1h5.6l-2.8,-4.7zM846.7,483.4h5.6l-2.8,-4.7zM848.3,483.8h5.6l-2.8,-4.7zM850.0,484.1h5.6l-2.8,-4.7zM851.6,484.3h5.6l-2.8,-4.7zM853.3,484.6h5.6l-2.8,-4.7zM854.9,484.9h5.6l-2.8,-4.7zM856.6,485.1h5.6l-2.8,-4.7zM858.2,485.4h5.6l-2.8,-4.7zM859.8,485.6h5.6l-2.8,-4.7zM861.5,485.9h5.6l-2.8,-4.7zM863.1,486.1h5.6l-2.8,-4.7zM864.8,486.4h5.6l-2.8,-4.7zM866.4,486.6h5.6l-2.8,-4.7zM868.1,486.9h5.6l-2.8,-4.7zM869.7,487.1h5.6l-2.8,-4.7zM871.3,487.3h5.6l-2.8,-4.7zM873.0,487.6h5.6l-2.8,-4.7zM874.6,487.8h5.6l-2.8,-4.7zM876.3,488.1h5.6l-2.8,-4.7zM877.9,488.3h5.6l-2.8,-4.7zM879.6,488.6h5.6l-2.8,-4.7zM881.2,488.8h5.6l-2.8,-4.7zM882.8,489.0h5.6l-2.8,-4.7zM884.5,489.3h5.6l-2.8,-4.7zM886.1,489.5h5.6l-2.8,-4.7zM887.8,489.7h5.6l-2.8,-4.7zM889.4,490.0h5.6l-2.8,-4.7zM891.1,490.2h5.6l-2.8,-4.7zM892.7,490.4h5.6l-2.8,-4.7zM894.3,490.6h5.6l-2.8,-4.7zM896.0,490.8h5.6l-2.8,-4.7zM897.6,491.0h5.6l-2.8,-4.7zM899.3,491.2h5.6l-2.8,-4.7zM900.9,491.3h5.6l-2.8,-4.7zM902.6,491.5h5.6l-2.8,-4.7zM904.2,491.7h5.6l-2.8,-4.7zM905.8,491.9h5.6l-2.8,-4.7zM907.5,492.0h5.6l-2.8,-4.7zM909.1,492.2h5.6l-2.8,-4.7zM910.8,492.4h5.6l-2.8,-4.7zM912.4,492.5h5.6l-2.8,-4.7zM914.1,492.7h5.6l-2.8,-4.7zM915.7,492.8h5.6l-2.8,-4.7zM917.3,493.0h5.6l-2.8,-4.7zM919.0,493.1h5.6l-2.8,-4.7zM920.6,493.3h5.6l-2.8,-4.7zM922.3,493.4h5.6l-2.8,-4.7zM923.9,493.5h5.6l-2.8,-4.7zM925.6,493.7h5.6l-2.8,-4.7zM927.2,493.8h5.6l-2.8,-4.7zM928.8,493.9h5.6l-2.8,-4.7zM930.5,494.0h5.6l-2.8,-4.7zM932.1,494.2h5.6l-2.8,-4.7zM933.8,494.3h5.6l-2.8,-4.7zM935.4,494.4h5.6l-2.8,-4.7zM937.1,494.5h5.6l-2.8,-4.7zM938.7,494.6h5.6l-2.8,-4.7zM940.3,494.7h5.6l-2.8,-4.7zM942.0,494.8h5.6l-2.8,-4.7zM943.6,494.9h5.6l-2.8,-4.7zM945.3,495.1h5.6l-2.8,-4.7zM946.9,495.2h5.6l-2.8,-4.7zM948.6,495.2h5.6l-2.8,-4.7zM950.2,495.3h5.6l-2.8,-4.7zM951.8,495.4h5.6l-2.8,-4.7zM953.5,495.5h5.6l-2.8,-4.7zM955.1,495.6h5.6l-2.8,-4.7zM956.8,495.7h5.6l-2.8,-4.7zM958.4,495.8h5.6l-2.8,-4.7zM960.1,495.8h5.6l-2.8,-4.7zM961.7,495.9h5.6l-2.8,-4.7zM963.3,496.0h5.6l-2.8,-4.7zM965.0,496.1h5.6l-2.8,-4.7zM966.6,496.2h5.6l-2.8,-4.7zM968.3,496.2h5.6l-2.8,-4.7zM969.9,496.3h5.6l-2.8,-4.7zM971.6,496.4h5.6l-2.8,-4.7zM973.2,496.5h5.6l-2.8,-4.7zM974.8,496.5h5.6l-2.8,-4.7zM976.5,496.6h5.6l-2.8,-4.7zM978.1,496.7h5.6l-2.8,-4.7zM979.8,496.7h5.6l-2.8,-4.7zM981.4,496.8h5.6l-2.8,-4.7zM983.1,496.9h5.6l-2.8,-4.7zM984.7,496.9h5.6l-2.8,-4.7zM986.3,497.0h5.6l-2.8,-4.7zM988.0,497.0h5.6l-2.8,-4.7zM989.6,497.1h5.6l-2.8,-4.7zM991.3,497.1h5.6l-2.8,-4.7zM992.9,497.2h5.6l-2.8,-4.7zM994.6,497.2h5.6l-2.8,-4.7zM996.2,497.3h5.6l-2.8,-4.7zM996.7,497.3h5.6l-2.8,-4.7z" fill="#ff8000"/></g><g clip-path="url(#ca)" style="fill:#808000"><circle cx="94.9" cy="457.5" r="4.05"/><circle cx="114.4" cy="472.8" r="4.05"/><circle cx="133.9" cy="482.1" r="4.05"/><circle cx="153.4" cy="486.0" r="4.05"/><circle cx="172.9" cy="488.4" r="4.05"/><circle cx="192.5" cy="490.7" r="4.05"/><circle cx="212.0" cy="493.5" r="4.05"/><circle cx="231.5" cy="495.4" r="4.05"/><circle cx="251.0" cy="496.8" r="4.05"/><circle cx="270.5" cy="497.7" r="4.05"/><circle cx="290.0" cy="498.7" r="4.05"/><circle cx="309.5" cy="500.0" r="4.05"/><circle cx="329.0" cy="501.0" r="4.05"/><circle cx="348.5" cy="502.0" r="4.05"/><circle cx="368.0" cy="503.0" r="4.05"/><circle cx="387.6" cy="503.4" r="4.05"/><circle cx="407.1" cy="503.4" r="4.05"/><circle cx="426.6" cy="503.8" r="4.05"/><circle cx="446.1" cy="503.8" r="4.05"/><circle cx="465.6" cy="503.4" r="4.05"/><circle cx="485.1" cy="503.0" r="4.05"/><circle cx="504.6" cy="502.4" r="4.05"/><circle cx="524.1" cy="502.0" r="4.05"/><circle cx="543.6" cy="501.8" r="4.05"/><circle cx="563.1" cy="501.7" r="4.05"/><circle cx="582.7" cy="501.3" r="4.05"/><circle cx="602.2" cy="500.8" r="4.05"/><circle cx="621.7" cy="499.4" r="4.05"/><circle cx="641.2" cy="497.5" r="4.05"/><circle cx="660.7" cy="495.5" r="4.05"/><circle cx="680.2" cy="494.7" r="4.05"/><circle cx="699.7" cy="494.3" r="4.05"/><circle cx="719.2" cy="493.8" r="4.05"/><circle cx="738.7" cy="493.5" r="4.05"/><circle cx="758.2" cy="492.9" r="4.05"/><circle cx="777.8" cy="492.7" r="4.05"/><circle cx="797.3" cy="493.1" r="4.05"/><circle cx="816.8" cy="494.3" r="4.05"/><circle cx="836.3" cy="495.8" r="4.05"/><circle cx="855.8" cy="496.2" r="4.05"/><circle cx="875.3" cy="496.7" r="4.05"/><circle cx="894.8" cy="497.0" r="4.05"/><circle cx="914.3" cy="497.0" r="4.05"/><circle cx="933.8" cy="497.0" r="4.05"/><circle cx="953.3" cy="497.0" r="4.05"/><circle cx="972.9" cy="497.0" r="4.05"/><circle cx="992.4" cy="497.0" r="4.05"/></g><path d="M589.90,205.00 H609.50 V220.30 H618.56 L599.70,234.33 L580.84,220.30 H589.90 Z" fill="#fff" stroke="#000" stroke-width="3.8" stroke-miterlimit="20"/><path d="M588.00,289.70 H607.30 V304.30 H616.93 L597.65,319.20 L578.37,304.30 H588.00 Z" fill="#fff" stroke="#000" stroke-width="3.8" stroke-miterlimit="20"/><rect x="97" y="24" width="903" height="505.6" fill="none" stroke="#000" stroke-width="2"/><g stroke="#000" stroke-width="2" stroke-linecap="round"><line x1="97.0" y1="529.6" x2="97.0" y2="538.0"/><line x1="179.1" y1="529.6" x2="179.1" y2="534.1"/><line x1="261.2" y1="529.6" x2="261.2" y2="538.0"/><line x1="343.3" y1="529.6" x2="343.3" y2="534.1"/><line x1="425.4" y1="529.6" x2="425.4" y2="538.0"/><line x1="507.4" y1="529.6" x2="507.4" y2="534.1"/><line x1="589.5" y1="529.6" x2="589.5" y2="538.0"/><line x1="671.6" y1="529.6" x2="671.6" y2="534.1"/><line x1="753.7" y1="529.6" x2="753.7" y2="538.0"/><line x1="835.8" y1="529.6" x2="835.8" y2="534.1"/><line x1="917.9" y1="529.6" x2="917.9" y2="538.0"/><line x1="1000.0" y1="529.6" x2="1000.0" y2="534.1"/><line x1="88" y1="500.0" x2="97" y2="500.0"/><line x1="92.5" y1="351.4" x2="97" y2="351.4"/><line x1="88" y1="202.7" x2="97" y2="202.7"/><line x1="92.5" y1="54.0" x2="97" y2="54.0"/></g><text x="97.0" y="575" text-anchor="middle" class="t33">300</text><text x="261.2" y="575" text-anchor="middle" class="t33">400</text><text x="425.4" y="575" text-anchor="middle" class="t33">500</text><text x="589.5" y="575" text-anchor="middle" class="t33">600</text><text x="753.7" y="575" text-anchor="middle" class="t33">700</text><text x="917.9" y="575" text-anchor="middle" class="t33">800</text><text x="76.5" y="509.4" text-anchor="end" class="t33">0</text><path d="M60.1,193.2 C63,193.2 65.5,192.2 66.3,189.3 L70,189.3 L70,212.4 L65.9,212.4 L65.9,196.6 L60.1,196.6 Z" fill="#000"/><text transform="translate(27,277.3) rotate(-90)" text-anchor="middle" class="t32">Absorption</text><g clip-path="url(#cb)" fill="none" stroke-width="1.6" stroke-linejoin="round"><path d="M97,799 97.5,799.1 98,799.1 98.5,799.2 99,799.3 99.5,799.3 100,799.4 100.5,799.5 101,799.5 101.5,799.6 102,799.6 102.5,799.7 103,799.7 103.5,799.8 104,799.8 104.5,799.8 105,799.9 105.5,799.9 106,799.9 106.5,800 107,800 107.5,800 108,800 108.5,800.1 109,800.1 109.5,800.1 110,800.1 110.5,800.1 111,800.1 111.5,800.1 112,800.1 112.5,800.2 113,800.2 113.5,800.3 114,800.4 114.5,800.6 115,800.8 115.5,801.1 116,801.5 116.5,801.8 117,802.2 117.5,802.6 118,803 118.5,803.4 119,803.8 119.5,804.2 120,804.7 120.5,805.2 121,805.8 121.5,806.3 122,807 122.5,807.6 123,808.2 123.5,808.9 124,809.5 124.5,810.2 125,810.8 125.5,811.4 126,812.1 126.5,812.8 127,813.5 127.5,814.2 128,814.9 128.5,815.6 129,816.3 129.5,817 130,817.7 130.5,818.4 131,819 131.5,819.6 132,820.3 132.5,820.9 133,821.5 133.5,822.1 134,822.7 134.5,823.3 135,823.9 135.5,824.4 136,824.9 136.5,825.4 137,825.8 137.5,826.2 138,826.6 138.5,827 139,827.5 139.5,827.8 140,828.2 140.5,828.6 141,828.9 141.5,829.1 142,829.3 142.5,829.5 143,829.6 143.5,829.7 144,829.7 144.5,829.8 145,829.8 145.5,829.9 146,829.9 146.5,829.9 147,829.9 147.5,830 148,830 148.5,830 149,830 149.5,830 150,830 150.5,829.9 151,829.9 151.5,829.8 152,829.8 152.5,829.8 153,829.7 153.5,829.7 154,829.6 154.5,829.6 155,829.6 155.5,829.6 156,829.6 156.5,829.7 157,829.7 157.5,829.8 158,829.8 158.5,829.9 159,830 159.5,830.1 160,830.2 160.5,830.3 161,830.4 161.5,830.5 162,830.7 162.5,831 163,831.3 163.5,831.6 164,831.9 164.5,832.3 165,832.7 165.5,833.2 166,833.6 166.5,834.1 167,834.5 167.5,835 168,835.5 168.5,836.1 169,836.7 169.5,837.4 170,838.1 170.5,838.8 171,839.5 171.5,840.2 172,840.9 172.5,841.6 173,842.3 173.5,843 174,843.7 174.5,844.4 175,845.1 175.5,845.8 176,846.5 176.5,847.3 177,848 177.5,848.7 178,849.4 178.5,850.1 179,850.8 179.5,851.6 180,852.3 180.5,853 181,853.8 181.5,854.5 182,855.3 182.5,856 183,856.7 183.5,857.3 184,857.9 184.5,858.5 185,859 185.5,859.5 186,859.9 186.5,860.4 187,860.8 187.5,861.2 188,861.6 188.5,862 189,862.3 189.5,862.6 190,862.9 190.5,863.1 191,863.3 191.5,863.5 192,863.7 192.5,863.9 193,864 193.5,864.2 194,864.3 194.5,864.5 195,864.6 195.5,864.7 196,864.9 196.5,865 197,865.1 197.5,865.2 198,865.3 198.5,865.4 199,865.5 199.5,865.6 200,865.7 200.5,865.8 201,865.8 201.5,865.9 202,866 202.5,866.1 203,866.1 203.5,866.2 204,866.2 204.5,866.3 205,866.4 205.5,866.4 206,866.5 206.5,866.5 207,866.6 207.5,866.6 208,866.6 208.5,866.7 209,866.7 209.5,866.7 210,866.7 210.5,866.7 211,866.6 211.5,866.6 212,866.5 212.5,866.4 213,866.3 213.5,866.1 214,866 214.5,865.9 215,865.7 215.5,865.5 216,865.4 216.5,865.2 217,865 217.5,864.9 218,864.7 218.5,864.5 219,864.4 219.5,864.2 220,863.9 220.5,863.7 221,863.5 221.5,863.3 222,863 222.5,862.8 223,862.6 223.5,862.4 224,862.2 224.5,862 225,861.8 225.5,861.7 226,861.6 226.5,861.5 227,861.4 227.5,861.3 228,861.2 228.5,861.2 229,861.1 229.5,861 230,860.9 230.5,860.9 231,860.9 231.5,860.8 232,860.8 232.5,860.8 233,860.8 233.5,860.9 234,861 234.5,861.1 235,861.3 235.5,861.5 236,861.7 236.5,861.9 237,862.2 237.5,862.4 238,862.7 238.5,863 239,863.3 239.5,863.5 240,863.8 240.5,864.1 241,864.3 241.5,864.7 242,865 242.5,865.4 243,865.7 243.5,866.1 244,866.5 244.5,866.9 245,867.3 245.5,867.6 246,867.9 246.5,868.2 247,868.4 247.5,868.6 248,868.8 248.5,869 249,869.3 249.5,869.5 250,869.6 250.5,869.8 251,870 251.5,870.1 252,870.2 252.5,870.3 253,870.3 253.5,870.3 254,870.2 254.5,870.2 255,870 255.5,869.9 256,869.7 256.5,869.5 257,869.2 257.5,869 258,868.7 258.5,868.3 259,867.9 259.5,867.2 260,866.5 260.5,865.7 261,864.9 261.5,864 262,863.1 262.5,862.1 263,861 263.5,859.8 264,858.5 264.5,857.1 265,855.7 265.5,854.2 266,852.8 266.5,851.3 267,849.8 267.5,848.3 268,846.7 268.5,845.1 269,843.4 269.5,841.7 270,840 270.5,838.2 271,836.4 271.5,834.5 272,832.6 272.5,830.7 273,828.8 273.5,827 274,825.3 274.5,823.6 275,822 275.5,820.4 276,818.8 276.5,817.2 277,815.7 277.5,814.1 278,812.5 278.5,810.8 279,809.2 279.5,807.5 280,805.9 280.5,804.3 281,802.7 281.5,801.2 282,799.6 282.5,798 283,796.3 283.5,794.7 284,793.1 284.5,791.5 285,789.9 285.5,788.3 286,786.8 286.5,785.3 287,783.9 287.5,782.5 288,781.2 288.5,780 289,778.9 289.5,777.9 290,777 290.5,776.1 291,775.4 291.5,774.7 292,774 292.5,773.4 293,772.8 293.5,772.2 294,771.6 294.5,771 295,770.3 295.5,769.6 296,768.8 296.5,768 297,767.1 297.5,766.1 298,765.1 298.5,764.1 299,763 299.5,761.9 300,760.7 300.5,759.5 301,758.1 301.5,756.7 302,755.1 302.5,753.4 303,751.4 303.5,749.3 304,747.1 304.5,744.9 305,742.6 305.5,740.3 306,738 306.5,735.6 307,733 307.5,730.5 308,727.9 308.5,725.3 309,722.8 309.5,720.3 310,717.8 310.5,715.3 311,712.9 311.5,710.4 312,708 312.5,705.6 313,703.3 313.5,701.1 314,698.8 314.5,696.5 315,694.2 315.5,691.9 316,689.9 316.5,688 317,686.5 317.5,685.3 318,684.2 318.5,683.2 319,682.3 319.5,681.4 320,680.5 320.5,679.8 321,679.2 321.5,678.7 322,678.4 322.5,678.3 323,678.4 323.5,678.6 324,679 324.5,679.5 325,680.1 325.5,680.8 326,681.6 326.5,682.3 327,683.3 327.5,684.5 328,686 328.5,687.7 329,689.5 329.5,691.5 330,693.5 330.5,695.4 331,697.4 331.5,699.5 332,701.6 332.5,703.9 333,706.2 333.5,708.6 334,711 334.5,713.4 335,715.8 335.5,718.4 336,721 336.5,723.6 337,726.2 337.5,728.8 338,731.5 338.5,734 339,736.6 339.5,739.1 340,741.7 340.5,744.2 341,746.7 341.5,749.2 342,751.6 342.5,754 343,756.4 343.5,758.8 344,761.1 344.5,763.5 345,765.7 345.5,767.8 346,769.7 346.5,771.5 347,773.2 347.5,775 348,776.6 348.5,778.2 349,779.5 349.5,780.7 350,781.6 350.5,782.2 351,782.8 351.5,783.3 352,783.7 352.5,784.2 353,784.5 353.5,784.9 354,785.1 354.5,785.3 355,785.5 355.5,785.5 356,785.4 356.5,785 357,784.4 357.5,783.8 358,783 358.5,782.2 359,781.4 359.5,780.6 360,780 360.5,779.5 361,778.9 361.5,778.5 362,778 362.5,777.5 363,777.1 363.5,776.6 364,776.2 364.5,775.7 365,775.3 365.5,774.8 366,774.3 366.5,773.7 367,773.1 367.5,772.5 368,771.9 368.5,771.1 369,770.3 369.5,769.4 370,768.5 370.5,767.5 371,766.5 371.5,765.5 372,764.5 372.5,763.5 373,762.5 373.5,761.6 374,760.7 374.5,759.8 375,759.1 375.5,758.4 376,757.7 376.5,756.9 377,756.2 377.5,755.4 378,754.7 378.5,754 379,753.3 379.5,752.7 380,752.1 380.5,751.6 381,751.2 381.5,750.8 382,750.6 382.5,750.5 383,750.5 383.5,750.5 384,750.6 384.5,750.7 385,750.8 385.5,750.9 386,751.1 386.5,751.2 387,751.4 387.5,751.5 388,751.7 388.5,751.8 389,752 389.5,752.1 390,752.2 390.5,752.3 391,752.4 391.5,752.4 392,752.4 392.5,752.4 393,752.4 393.5,752.3 394,752.2 394.5,752.2 395,752.1 395.5,752 396,752 396.5,751.9 397,751.8 397.5,751.7 398,751.7 398.5,751.6 399,751.5 399.5,751.5 400,751.5 400.5,751.5 401,751.6 401.5,751.9 402,752.2 402.5,752.6 403,753 403.5,753.5 404,754.1 404.5,754.6 405,755.2 405.5,755.8 406,756.4 406.5,757.2 407,758 407.5,758.9 408,759.9 408.5,760.9 409,762 409.5,763.1 410,764.3 410.5,765.5 411,766.7 411.5,767.9 412,769.1 412.5,770.4 413,771.8 413.5,773.2 414,774.6 414.5,776.1 415,777.7 415.5,779.2 416,780.8 416.5,782.5 417,784.1 417.5,785.8 418,787.5 418.5,789.2 419,791 419.5,792.9 420,794.7 420.5,796.7 421,798.6 421.5,800.6 422,802.5 422.5,804.5 423,806.5 423.5,808.4 424,810.4 424.5,812.3 425,814.3 425.5,816.3 426,818.3 426.5,820.3 427,822.3 427.5,824.3 428,826.3 428.5,828.3 429,830.3 429.5,832.2 430,834.2 430.5,836.1 431,838 431.5,839.9 432,841.8 432.5,843.7 433,845.6 433.5,847.5 434,849.3 434.5,851.2 435,853 435.5,854.7 436,856.5 436.5,858.2 437,860 437.5,861.7 438,863.4 438.5,865.1 439,866.8 439.5,868.5 440,870.1 440.5,871.6 441,873.2 441.5,874.6 442,876.1 442.5,877.5 443,878.8 443.5,880.2 444,881.5 444.5,882.8 445,884.1 445.5,885.3 446,886.5 446.5,887.7 447,888.8 447.5,889.8 448,890.8 448.5,891.7 449,892.5 449.5,893.3 450,894.1 450.5,895 451,895.9 451.5,896.9 452,897.8 452.5,898.8 453,899.8 453.5,900.8 454,901.7 454.5,902.7 455,903.6 455.5,904.5 456,905.3 456.5,906 457,906.7 457.5,907.3 458,908 458.5,908.6 459,909.2 459.5,909.7 460,910.3 460.5,910.8 461,911.3 461.5,911.8 462,912.2 462.5,912.7 463,913 463.5,913.4 464,913.7 464.5,914 465,914.3 465.5,914.6 466,914.9 466.5,915.1 467,915.4 467.5,915.7 468,915.9 468.5,916.2 469,916.4 469.5,916.6 470,916.8 470.5,917 471,917.2 471.5,917.3 472,917.4 472.5,917.5 473,917.6 473.5,917.6 474,917.6 474.5,917.6 475,917.5 475.5,917.5 476,917.4 476.5,917.3 477,917.2 477.5,917.1 478,917 478.5,916.8 479,916.7 479.5,916.5 480,916.3 480.5,916.2 481,916 481.5,915.8 482,915.6 482.5,915.4 483,915.2 483.5,915 484,914.8 484.5,914.6 485,914.4 485.5,914.2 486,914 486.5,913.7 487,913.5 487.5,913.2 488,912.9 488.5,912.7 489,912.3 489.5,912 490,911.7 490.5,911.4 491,911 491.5,910.7 492,910.3 492.5,910 493,909.6 493.5,909.3 494,908.9 494.5,908.5 495,908.2 495.5,907.8 496,907.4 496.5,907.1 497,906.7 497.5,906.3 498,906 498.5,905.6 499,905.3 499.5,905 500,904.6 500.5,904.3 501,904 501.5,903.6 502,903.3 502.5,902.9 503,902.6 503.5,902.3 504,901.9 504.5,901.6 505,901.2 505.5,900.9 506,900.6 506.5,900.2 507,899.9 507.5,899.5 508,899.1 508.5,898.8 509,898.4 509.5,898.1 510,897.7 510.5,897.3 511,897 511.5,896.6 512,896.2 512.5,895.8 513,895.4 513.5,895 514,894.6 514.5,894.2 515,893.8 515.5,893.4 516,893 516.5,892.6 517,892.2 517.5,891.8 518,891.3 518.5,890.9 519,890.5 519.5,890 520,889.6 520.5,889.1 521,888.7 521.5,888.2 522,887.7 522.5,887.3 523,886.8 523.5,886.3 524,885.8 524.5,885.3 525,884.8 525.5,884.3 526,883.7 526.5,883.2 527,882.6 527.5,882 528,881.4 528.5,880.9 529,880.3 529.5,879.7 530,879.1 530.5,878.5 531,877.9 531.5,877.3 532,876.7 532.5,876.1 533,875.5 533.5,875 534,874.4 534.5,873.8 535,873.3 535.5,872.7 536,872.1 536.5,871.6 537,871 537.5,870.5 538,869.9 538.5,869.3 539,868.8 539.5,868.2 540,867.7 540.5,867.1 541,866.6 541.5,866 542,865.5 542.5,864.9 543,864.3 543.5,863.8 544,863.2 544.5,862.7 545,862.1 545.5,861.6 546,861 546.5,860.4 547,859.9 547.5,859.3 548,858.7 548.5,858.1 549,857.6 549.5,857 550,856.4 550.5,855.8 551,855.3 551.5,854.7 552,854.1 552.5,853.6 553,853 553.5,852.4 554,851.9 554.5,851.3 555,850.8 555.5,850.3 556,849.7 556.5,849.2 557,848.7 557.5,848.1 558,847.6 558.5,847.1 559,846.5 559.5,846 560,845.5 560.5,844.9 561,844.4 561.5,843.9 562,843.4 562.5,842.9 563,842.4 563.5,841.9 564,841.5 564.5,841 565,840.5 565.5,840.1 566,839.7 566.5,839.3 567,838.9 567.5,838.4 568,838 568.5,837.6 569,837.2 569.5,836.8 570,836.4 570.5,836 571,835.7 571.5,835.3 572,834.9 572.5,834.6 573,834.3 573.5,833.9 574,833.6 574.5,833.3 575,833.1 575.5,832.8 576,832.6 576.5,832.3 577,832.1 577.5,831.9 578,831.6 578.5,831.4 579,831.2 579.5,831 580,830.8 580.5,830.6 581,830.4 581.5,830.2 582,830 582.5,829.9 583,829.7 583.5,829.6 584,829.5 584.5,829.3 585,829.2 585.5,829.1 586,829.1 586.5,829 587,828.9 587.5,828.8 588,828.7 588.5,828.7 589,828.6 589.5,828.5 590,828.4 590.5,828.4 591,828.3 591.5,828.2 592,828.2 592.5,828.1 593,828.1 593.5,828 594,828 594.5,828 595,828 595.5,827.9 596,827.9 596.5,827.9 597,827.9 597.5,827.9 598,827.9 598.5,827.9 599,827.9 599.5,827.9 600,827.9 600.5,827.9 601,827.9 601.5,827.9 602,827.9 602.5,827.9 603,827.9 603.5,828 604,828 604.5,828 605,828 605.5,828 606,828 606.5,828 607,828 607.5,828 608,828 608.5,828.1 609,828.1 609.5,828.1 610,828.1 610.5,828.1 611,828.2 611.5,828.2 612,828.3 612.5,828.3 613,828.4 613.5,828.5 614,828.6 614.5,828.7 615,828.8 615.5,828.9 616,829 616.5,829.2 617,829.3 617.5,829.5 618,829.6 618.5,829.8 619,830 619.5,830.1 620,830.3 620.5,830.5 621,830.7 621.5,830.9 622,831.1 622.5,831.3 623,831.5 623.5,831.7 624,831.9 624.5,832.1 625,832.3 625.5,832.5 626,832.7 626.5,833 627,833.2 627.5,833.5 628,833.9 628.5,834.2 629,834.5 629.5,834.9 630,835.3 630.5,835.7 631,836 631.5,836.4 632,836.8 632.5,837.2 633,837.7 633.5,838.1 634,838.5 634.5,838.9 635,839.3 635.5,839.6 636,840 636.5,840.4 637,840.7 637.5,841.1 638,841.5 638.5,842 639,842.4 639.5,842.9 640,843.3 640.5,843.8 641,844.3 641.5,844.7 642,845.2 642.5,845.7 643,846.1 643.5,846.5 644,846.9 644.5,847.3 645,847.7 645.5,848 646,848.3 646.5,848.5 647,848.7 647.5,848.9 648,849 648.5,849 649,849 649.5,848.9 650,848.7 650.5,848.5 651,848.2 651.5,847.8 652,847.4 652.5,847 653,846.5 653.5,846 654,845.5 654.5,845 655,844.4 655.5,843.8 656,843.3 656.5,842.7 657,842.2 657.5,841.6 658,840.9 658.5,840.2 659,839.5 659.5,838.6 660,837.8 660.5,836.9 661,836 661.5,835.1 662,834.2 662.5,833.3 663,832.4 663.5,831.6 664,830.8 664.5,830 665,829.3 665.5,828.6 666,828 666.5,827.2 667,826.5 667.5,825.8 668,825 668.5,824.3 669,823.6 669.5,822.9 670,822.3 670.5,821.7 671,821.2 671.5,820.7 672,820.3 672.5,820 673,819.8 673.5,819.7 674,819.7 674.5,819.9 675,820.1 675.5,820.5 676,820.9 676.5,821.4 677,821.9 677.5,822.5 678,823 678.5,823.6 679,824.1 679.5,824.6 680,825 680.5,825.3 681,825.5 681.5,825.7 682,825.8 682.5,825.9 683,826 683.5,826.1 684,826.2 684.5,826.3 685,826.3 685.5,826.4 686,826.4 686.5,826.4 687,826.1 687.5,825.7 688,825.1 688.5,824.3 689,823.5 689.5,822.5 690,821.5 690.5,820.4 691,819.3 691.5,818.2 692,816.8 692.5,815.1 693,813.1 693.5,811 694,808.7 694.5,806.4 695,803.9 695.5,801.4 696,799 696.5,796.6 697,794.2 697.5,792 698,789.7 698.5,787.3 699,784.9 699.5,782.5 700,780 700.5,777.6 701,775.3 701.5,773 702,770.7 702.5,768.6 703,766.4 703.5,764.1 704,761.9 704.5,759.7 705,757.6 705.5,755.5 706,753.4 706.5,751.4 707,749.5 707.5,747.7 708,746 708.5,744.4 709,742.9 709.5,741.6 710,740.2 710.5,739 711,737.8 711.5,736.6 712,735.5 712.5,734.4 713,733.3 713.5,732.3 714,731.3 714.5,730.4 715,729.4 715.5,728.5 716,727.5 716.5,726.5 717,725.4 717.5,724.4 718,723.5 718.5,722.7 719,722.1 719.5,721.8 720,721.8 720.5,722 721,722.3 721.5,722.8 722,723.4 722.5,724.1 723,725 723.5,725.9 724,727.1 724.5,729.7 725,734.2 725.5,740.1 726,746.8 726.5,753.9 727,760.9 727.5,767.6 728,774.9 728.5,782.6 729,790.6 729.5,798.9 730,807.3 730.5,815.6 731,824 731.5,832.9 732,842.1 732.5,851.3 733,860.2 733.5,868.5 734,876 734.5,882.5 735,888.1 735.5,893.3 736,898.1 736.5,902.8 737,907.5 737.5,912.3 738,917.2 738.5,921.9 739,926.6 739.5,931.3 740,935.8 740.5,940.4 741,945.1 741.5,949.6 742,953.7 742.5,957.3 743,960.5 743.5,963.6 744,966.5 744.5,969.3 745,972 745.5,974.6 746,977.1 746.5,979.4 747,981.7 747.5,983.9 748,986 748.5,988 749,990 749.5,991.9 750,993.7 750.5,995.4 751,997 751.5,998.6 752,1000.1 752.5,1001.5 753,1003 753.5,1004.4 754,1005.8 754.5,1007.2 755,1008.5 755.5,1009.8 756,1011.1 756.5,1012.4 757,1013.6 757.5,1014.8 758,1016 758.5,1017.2 759,1018.4 759.5,1019.5 760,1020.7 760.5,1021.8 761,1022.9 761.5,1024 762,1025.1 762.5,1026.1 763,1027.1 763.5,1028.1 764,1029 764.5,1029.9 765,1030.8 765.5,1031.6 766,1032.5 766.5,1033.3 767,1034.1 767.5,1034.9 768,1035.7 768.5,1036.4 769,1037.2 769.5,1037.9 770,1038.6 770.5,1039.3 771,1040 771.5,1040.7 772,1041.4 772.5,1042 773,1042.7 773.5,1043.3 774,1043.9 774.5,1044.5 775,1045.1 775.5,1045.8 776,1046.3 776.5,1046.9 777,1047.5 777.5,1048.1 778,1048.7 778.5,1049.3 779,1049.8 779.5,1050.4 780,1051 780.5,1051.6 781,1052.2 781.5,1052.7 782,1053.3 782.5,1053.9 783,1054.5 783.5,1055.1 784,1055.7 784.5,1056.2 785,1056.8 785.5,1057.4 786,1057.9 786.5,1058.5 787,1059 787.5,1059.5 788,1060 788.5,1060.5 789,1061 789.5,1061.5 790,1062 790.5,1062.5 791,1062.9 791.5,1063.4 792,1063.8 792.5,1064.2 793,1064.7 793.5,1065.1 794,1065.5 794.5,1065.9 795,1066.3 795.5,1066.7 796,1067.1 796.5,1067.5 797,1067.8 797.5,1068.2 798,1068.6 798.5,1068.9 799,1069.3 799.5,1069.7 800,1070 800.5,1070.3 801,1070.7 801.5,1071 802,1071.3 802.5,1071.6 803,1071.9 803.5,1072.2 804,1072.5 804.5,1072.8 805,1073.1 805.5,1073.4 806,1073.7 806.5,1074 807,1074.3 807.5,1074.6 808,1074.9 808.5,1075.1 809,1075.4 809.5,1075.7 810,1076 810.5,1076.3 811,1076.6 811.5,1076.9 812,1077.1 812.5,1077.4 813,1077.7 813.5,1078 814,1078.3 814.5,1078.6 815,1078.8 815.5,1079.1 816,1079.4 816.5,1079.7 817,1079.9 817.5,1080.2 818,1080.5 818.5,1080.7 819,1081 819.5,1081.2 820,1081.5 820.5,1081.8 821,1082 821.5,1082.3 822,1082.5 822.5,1082.8 823,1083 823.5,1083.3 824,1083.5 824.5,1083.8 825,1084 825.5,1084.3 826,1084.5 826.5,1084.7 827,1085 827.5,1085.2 828,1085.5 828.5,1085.7 829,1086 829.5,1086.2 830,1086.4 830.5,1086.7 831,1086.9 831.5,1087.1 832,1087.3 832.5,1087.6 833,1087.8 833.5,1088 834,1088.2 834.5,1088.4 835,1088.6 835.5,1088.8 836,1089 836.5,1089.2 837,1089.4 837.5,1089.6 838,1089.8 838.5,1090 839,1090.2 839.5,1090.3 840,1090.5 840.5,1090.7 841,1090.8 841.5,1091 842,1091.1 842.5,1091.3 843,1091.4 843.5,1091.6 844,1091.7 844.5,1091.9 845,1092 845.5,1092.2 846,1092.3 846.5,1092.4 847,1092.6 847.5,1092.7 848,1092.8 848.5,1093 849,1093.1 849.5,1093.2 850,1093.4 850.5,1093.5 851,1093.6 851.5,1093.7 852,1093.9 852.5,1094 853,1094.1 853.5,1094.2 854,1094.3 854.5,1094.5 855,1094.6 855.5,1094.7 856,1094.8 856.5,1094.9 857,1095 857.5,1095.2 858,1095.3 858.5,1095.4 859,1095.5 859.5,1095.6 860,1095.8 860.5,1095.9 861,1096 861.5,1096.1 862,1096.2 862.5,1096.4 863,1096.5 863.5,1096.6 864,1096.7 864.5,1096.8 865,1096.9 865.5,1097.1 866,1097.2 866.5,1097.3 867,1097.4 867.5,1097.5 868,1097.6 868.5,1097.7 869,1097.8 869.5,1097.9 870,1098.1 870.5,1098.2 871,1098.3 871.5,1098.4 872,1098.5 872.5,1098.6 873,1098.6 873.5,1098.7 874,1098.8 874.5,1098.9 875,1099 875.5,1099.1 876,1099.2 876.5,1099.3 877,1099.4 877.5,1099.4 878,1099.5 878.5,1099.6 879,1099.7 879.5,1099.8 880,1099.9 880.5,1100 881,1100 881.5,1100.1 882,1100.2 882.5,1100.3 883,1100.4 883.5,1100.5 884,1100.6 884.5,1100.6 885,1100.7 885.5,1100.8 886,1100.9 886.5,1101 887,1101.1 887.5,1101.2 888,1101.3 888.5,1101.4 889,1101.5 889.5,1101.6 890,1101.6 890.5,1101.7 891,1101.8 891.5,1101.9 892,1102 892.5,1102.1 893,1102.2 893.5,1102.3 894,1102.3 894.5,1102.4 895,1102.5 895.5,1102.6 896,1102.6 896.5,1102.7 897,1102.8 897.5,1102.9 898,1102.9 898.5,1103 899,1103.1 899.5,1103.1 900,1103.2 900.5,1103.3 901,1103.3 901.5,1103.4 902,1103.5 902.5,1103.5 903,1103.6 903.5,1103.7 904,1103.7 904.5,1103.8 905,1103.9 905.5,1103.9 906,1104 906.5,1104 907,1104.1 907.5,1104.2 908,1104.2 908.5,1104.3 909,1104.3 909.5,1104.4 910,1104.5 910.5,1104.5 911,1104.6 911.5,1104.6 912,1104.7 912.5,1104.7 913,1104.8 913.5,1104.9 914,1104.9 914.5,1105 915,1105 915.5,1105.1 916,1105.1 916.5,1105.2 917,1105.3 917.5,1105.3 918,1105.4 918.5,1105.4 919,1105.5 919.5,1105.5 920,1105.6 920.5,1105.6 921,1105.7 921.5,1105.7 922,1105.8 922.5,1105.8 923,1105.9 923.5,1106 924,1106 924.5,1106.1 925,1106.1 925.5,1106.2 926,1106.2 926.5,1106.3 927,1106.3 927.5,1106.4 928,1106.4 928.5,1106.5 929,1106.5 929.5,1106.6 930,1106.6 930.5,1106.7 931,1106.7 931.5,1106.8 932,1106.8 932.5,1106.9 933,1106.9 933.5,1107 934,1107 934.5,1107.1 935,1107.1 935.5,1107.1 936,1107.2 936.5,1107.2 937,1107.3 937.5,1107.3 938,1107.4 938.5,1107.4 939,1107.5 939.5,1107.5 940,1107.6 940.5,1107.6 941,1107.7 941.5,1107.7 942,1107.8 942.5,1107.8 943,1107.9 943.5,1107.9 944,1108 944.5,1108 945,1108 945.5,1108.1 946,1108.1 946.5,1108.2 947,1108.2 947.5,1108.3 948,1108.3 948.5,1108.4 949,1108.4 949.5,1108.5 950,1108.5 950.5,1108.6 951,1108.6 951.5,1108.6 952,1108.7 952.5,1108.7 953,1108.8 953.5,1108.8 954,1108.9 954.5,1108.9 955,1109 955.5,1109 956,1109.1 956.5,1109.1 957,1109.2 957.5,1109.2 958,1109.2 958.5,1109.3 959,1109.3 959.5,1109.4 960,1109.4 960.5,1109.5 961,1109.5 961.5,1109.6 962,1109.6 962.5,1109.6 963,1109.7 963.5,1109.7 964,1109.8 964.5,1109.8 965,1109.9 965.5,1109.9 966,1110 966.5,1110 967,1110.1 967.5,1110.1 968,1110.1 968.5,1110.2 969,1110.2 969.5,1110.3 970,1110.3 970.5,1110.4 971,1110.4 971.5,1110.4 972,1110.5 972.5,1110.5 973,1110.6 973.5,1110.6 974,1110.7 974.5,1110.7 975,1110.7 975.5,1110.8 976,1110.8 976.5,1110.9 977,1110.9 977.5,1111 978,1111 978.5,1111 979,1111.1 979.5,1111.1 980,1111.2 980.5,1111.2 981,1111.3 981.5,1111.3 982,1111.3 982.5,1111.4 983,1111.4 983.5,1111.5 984,1111.5 984.5,1111.6 985,1111.6 985.5,1111.6 986,1111.7 986.5,1111.7 987,1111.8 987.5,1111.8 988,1111.8 988.5,1111.9 989,1111.9 989.5,1112 990,1112 990.5,1112 991,1112.1 991.5,1112.1 992,1112.2 992.5,1112.2 993,1112.2 993.5,1112.3 994,1112.3 994.5,1112.4 995,1112.4 995.5,1112.4 996,1112.5 996.5,1112.5 997,1112.6 997.5,1112.6 998,1112.6 998.5,1112.7 999,1112.7 999.5,1112.8 1000,1112.8" stroke="#ff0000"/><path d="M97,788.3 97.5,788.6 98,788.9 98.5,789.2 99,789.5 99.5,789.8 100,790.1 100.5,790.5 101,790.8 101.5,791.1 102,791.4 102.5,791.7 103,792 103.5,792.4 104,792.7 104.5,793 105,793.4 105.5,793.7 106,794 106.5,794.3 107,794.5 107.5,794.7 108,795 108.5,795.2 109,795.3 109.5,795.5 110,795.7 110.5,795.9 111,796 111.5,796.2 112,796.4 112.5,796.7 113,796.9 113.5,797.2 114,797.5 114.5,797.9 115,798.2 115.5,798.6 116,799 116.5,799.5 117,799.9 117.5,800.3 118,800.8 118.5,801.3 119,801.7 119.5,802.2 120,802.7 120.5,803.2 121,803.7 121.5,804.3 122,804.8 122.5,805.4 123,806 123.5,806.6 124,807.1 124.5,807.7 125,808.3 125.5,808.9 126,809.6 126.5,810.2 127,810.9 127.5,811.6 128,812.2 128.5,812.9 129,813.6 129.5,814.2 130,814.9 130.5,815.5 131,816.1 131.5,816.7 132,817.3 132.5,818 133,818.6 133.5,819.2 134,819.7 134.5,820.3 135,820.9 135.5,821.4 136,821.9 136.5,822.3 137,822.7 137.5,823.1 138,823.5 138.5,823.9 139,824.3 139.5,824.7 140,825.1 140.5,825.4 141,825.7 141.5,825.9 142,826.1 142.5,826.3 143,826.3 143.5,826.4 144,826.4 144.5,826.4 145,826.5 145.5,826.5 146,826.5 146.5,826.5 147,826.5 147.5,826.5 148,826.5 148.5,826.5 149,826.6 149.5,826.5 150,826.5 150.5,826.5 151,826.4 151.5,826.4 152,826.3 152.5,826.2 153,826.2 153.5,826.1 154,826.1 154.5,826.1 155,826.1 155.5,826.1 156,826.1 156.5,826.1 157,826.2 157.5,826.2 158,826.3 158.5,826.4 159,826.5 159.5,826.6 160,826.7 160.5,826.8 161,827 161.5,827.1 162,827.3 162.5,827.6 163,827.9 163.5,828.2 164,828.6 164.5,829 165,829.4 165.5,829.8 166,830.3 166.5,830.7 167,831.2 167.5,831.6 168,832.2 168.5,832.8 169,833.4 169.5,834 170,834.7 170.5,835.4 171,836.1 171.5,836.8 172,837.5 172.5,838.2 173,838.9 173.5,839.6 174,840.3 174.5,841 175,841.7 175.5,842.4 176,843.1 176.5,843.9 177,844.6 177.5,845.3 178,846 178.5,846.7 179,847.4 179.5,848.1 180,848.8 180.5,849.5 181,850.2 181.5,851 182,851.7 182.5,852.3 183,853 183.5,853.6 184,854.2 184.5,854.7 185,855.2 185.5,855.6 186,856.1 186.5,856.5 187,856.9 187.5,857.3 188,857.7 188.5,858 189,858.4 189.5,858.7 190,858.9 190.5,859.1 191,859.3 191.5,859.5 192,859.6 192.5,859.8 193,859.9 193.5,860 194,860.2 194.5,860.3 195,860.4 195.5,860.5 196,860.6 196.5,860.7 197,860.8 197.5,860.9 198,861 198.5,861 199,861.1 199.5,861.2 200,861.3 200.5,861.3 201,861.4 201.5,861.5 202,861.6 202.5,861.6 203,861.7 203.5,861.8 204,861.9 204.5,862 205,862 205.5,862.1 206,862.2 206.5,862.3 207,862.4 207.5,862.4 208,862.5 208.5,862.5 209,862.6 209.5,862.6 210,862.6 210.5,862.6 211,862.6 211.5,862.5 212,862.5 212.5,862.4 213,862.4 213.5,862.3 214,862.2 214.5,862.1 215,862 215.5,861.9 216,861.8 216.5,861.7 217,861.5 217.5,861.3 218,861 218.5,860.7 219,860.3 219.5,859.9 220,859.5 220.5,859.2 221,858.8 221.5,858.5 222,858.2 222.5,857.9 223,857.7 223.5,857.4 224,857.1 224.5,856.8 225,856.6 225.5,856.3 226,856.1 226.5,856 227,855.9 227.5,855.8 228,855.8 228.5,855.8 229,855.8 229.5,855.8 230,855.8 230.5,855.8 231,855.8 231.5,855.8 232,855.8 232.5,855.8 233,855.8 233.5,855.8 234,855.8 234.5,855.8 235,855.9 235.5,856 236,856.2 236.5,856.3 237,856.5 237.5,856.8 238,857 238.5,857.3 239,857.5 239.5,857.8 240,858 240.5,858.3 241,858.6 241.5,858.9 242,859.2 242.5,859.6 243,860 243.5,860.4 244,860.8 244.5,861.2 245,861.5 245.5,861.9 246,862.1 246.5,862.4 247,862.7 247.5,862.9 248,863.2 248.5,863.4 249,863.7 249.5,863.9 250,864.1 250.5,864.2 251,864.3 251.5,864.3 252,864.3 252.5,864.3 253,864.3 253.5,864.3 254,864.2 254.5,864.2 255,864.1 255.5,864.1 256,864 256.5,863.8 257,863.5 257.5,863.1 258,862.7 258.5,862.2 259,861.7 259.5,861.2 260,860.6 260.5,859.8 261,858.9 261.5,857.9 262,856.8 262.5,855.7 263,854.5 263.5,853.3 264,852 264.5,850.7 265,849.2 265.5,847.7 266,846.1 266.5,844.5 267,842.9 267.5,841.4 268,839.8 268.5,838.3 269,836.7 269.5,835.1 270,833.5 270.5,831.9 271,830.2 271.5,828.6 272,826.9 272.5,825.2 273,823.4 273.5,821.6 274,819.8 274.5,818 275,816.3 275.5,814.7 276,813.1 276.5,811.7 277,810.4 277.5,809 278,807.7 278.5,806.2 279,804.5 279.5,802.7 280,800.1 280.5,797 281,793.7 281.5,791.1 282,789.4 282.5,788.1 283,786.9 283.5,785.9 284,784.9 284.5,784 285,783.2 285.5,782.5 286,781.8 286.5,781.1 287,780.5 287.5,779.8 288,779.2 288.5,778.6 289,777.9 289.5,777.2 290,776.4 290.5,775.7 291,775 291.5,774.4 292,773.7 292.5,773.1 293,772.5 293.5,771.8 294,771.2 294.5,770.5 295,769.7 295.5,769 296,768.2 296.5,767.3 297,766.4 297.5,765.5 298,764.5 298.5,763.5 299,762.4 299.5,761.3 300,760.1 300.5,758.8 301,757.5 301.5,756.1 302,754.5 302.5,752.8 303,750.9 303.5,748.8 304,746.7 304.5,744.5 305,742.2 305.5,740 306,737.7 306.5,735.3 307,732.8 307.5,730.3 308,727.8 308.5,725.2 309,722.7 309.5,720.3 310,717.9 310.5,715.4 311,712.9 311.5,710.5 312,708.1 312.5,705.8 313,703.6 313.5,701.5 314,699.4 314.5,697.3 315,695.2 315.5,693.2 316,691.3 316.5,689.7 317,688.3 317.5,687.2 318,686.3 318.5,685.3 319,684.4 319.5,683.6 320,682.8 320.5,682.2 321,681.6 321.5,681.2 322,680.9 322.5,680.8 323,680.9 323.5,681.1 324,681.4 324.5,681.9 325,682.5 325.5,683.2 326,683.9 326.5,684.7 327,685.5 327.5,686.6 328,688 328.5,689.5 329,691.2 329.5,693 330,694.8 330.5,696.6 331,698.4 331.5,700.4 332,702.5 332.5,704.6 333,706.8 333.5,709.1 334,711.4 334.5,713.7 335,716.1 335.5,718.5 336,721.1 336.5,723.6 337,726.2 337.5,728.8 338,731.4 338.5,733.9 339,736.4 339.5,739 340,741.5 340.5,744 341,746.5 341.5,748.9 342,751.3 342.5,753.7 343,756 343.5,758.4 344,760.8 344.5,763 345,765.3 345.5,767.3 346,769.3 346.5,771 347,772.7 347.5,774.4 348,776.1 348.5,777.6 349,779 349.5,780.2 350,781.1 350.5,781.8 351,782.4 351.5,782.9 352,783.4 352.5,783.9 353,784.3 353.5,784.7 354,785 354.5,785.2 355,785.4 355.5,785.4 356,785.4 356.5,785.3 357,785.1 357.5,784.8 358,784.5 358.5,784.2 359,783.9 359.5,783.6 360,783.2 360.5,782.9 361,782.5 361.5,782.1 362,781.7 362.5,781.3 363,780.8 363.5,780.3 364,779.8 364.5,779.3 365,778.8 365.5,778.2 366,777.6 366.5,777.1 367,776.5 367.5,775.9 368,775.2 368.5,774.5 369,773.8 369.5,773 370,772.1 370.5,771.3 371,770.4 371.5,769.5 372,768.6 372.5,767.7 373,766.8 373.5,766 374,765.2 374.5,764.5 375,763.8 375.5,763.2 376,762.5 376.5,761.9 377,761.2 377.5,760.5 378,759.8 378.5,759.2 379,758.6 379.5,758 380,757.5 380.5,757 381,756.7 381.5,756.4 382,756.2 382.5,756.1 383,756.1 383.5,756.1 384,756.2 384.5,756.3 385,756.4 385.5,756.5 386,756.7 386.5,756.9 387,757.1 387.5,757.2 388,757.4 388.5,757.6 389,757.8 389.5,757.9 390,758 390.5,758.1 391,758.2 391.5,758.3 392,758.3 392.5,758.2 393,758.2 393.5,758.2 394,758.1 394.5,758.1 395,758 395.5,758 396,757.9 396.5,757.9 397,757.8 397.5,757.7 398,757.7 398.5,757.6 399,757.6 399.5,757.6 400,757.6 400.5,757.6 401,757.7 401.5,757.9 402,758.2 402.5,758.5 403,758.9 403.5,759.3 404,759.8 404.5,760.3 405,760.8 405.5,761.4 406,762 406.5,762.7 407,763.6 407.5,764.5 408,765.6 408.5,766.7 409,767.9 409.5,769.1 410,770.4 410.5,771.7 411,773 411.5,774.3 412,775.6 412.5,777 413,778.5 413.5,780 414,781.6 414.5,783.2 415,784.9 415.5,786.6 416,788.3 416.5,790.1 417,791.8 417.5,793.6 418,795.4 418.5,797.3 419,799.3 419.5,801.3 420,803.3 420.5,805.4 421,807.4 421.5,809.5 422,811.6 422.5,813.7 423,815.8 423.5,817.8 424,819.8 424.5,821.8 425,823.8 425.5,825.8 426,827.8 426.5,829.8 427,831.8 427.5,833.8 428,835.8 428.5,837.7 429,839.7 429.5,841.6 430,843.5 430.5,845.5 431,847.4 431.5,849.3 432,851.1 432.5,853 433,854.9 433.5,856.8 434,858.6 434.5,860.4 435,862.3 435.5,864.1 436,865.9 436.5,867.8 437,869.6 437.5,871.4 438,873.3 438.5,875.1 439,876.9 439.5,878.7 440,880.5 440.5,882.2 441,883.9 441.5,885.5 442,887 442.5,888.6 443,890.1 443.5,891.6 444,893 444.5,894.5 445,895.9 445.5,897.2 446,898.5 446.5,899.8 447,901 447.5,902.2 448,903.3 448.5,904.3 449,905.2 449.5,906.1 450,907 450.5,908 451,909 451.5,910 452,911.1 452.5,912.1 453,913.2 453.5,914.3 454,915.3 454.5,916.3 455,917.4 455.5,918.3 456,919.3 456.5,920.2 457,921.1 457.5,921.9 458,922.7 458.5,923.5 459,924.4 459.5,925.2 460,925.9 460.5,926.7 461,927.4 461.5,928.1 462,928.8 462.5,929.4 463,930 463.5,930.5 464,930.9 464.5,931.3 465,931.7 465.5,932.1 466,932.5 466.5,932.9 467,933.3 467.5,933.7 468,934 468.5,934.4 469,934.7 469.5,935 470,935.3 470.5,935.6 471,935.9 471.5,936.1 472,936.4 472.5,936.6 473,936.8 473.5,936.9 474,937.1 474.5,937.2 475,937.3 475.5,937.4 476,937.4 476.5,937.5 477,937.5 477.5,937.6 478,937.7 478.5,937.7 479,937.8 479.5,937.8 480,937.9 480.5,937.9 481,937.9 481.5,938 482,938 482.5,938 483,938 483.5,938.1 484,938.1 484.5,938.1 485,938.1 485.5,938.1 486,938 486.5,938 487,937.9 487.5,937.8 488,937.7 488.5,937.6 489,937.4 489.5,937.3 490,937.1 490.5,937 491,936.8 491.5,936.6 492,936.4 492.5,936.2 493,936 493.5,935.8 494,935.6 494.5,935.4 495,935.1 495.5,934.9 496,934.7 496.5,934.5 497,934.3 497.5,934.1 498,933.9 498.5,933.7 499,933.6 499.5,933.4 500,933.2 500.5,933 501,932.9 501.5,932.7 502,932.5 502.5,932.3 503,932.2 503.5,932 504,931.8 504.5,931.7 505,931.5 505.5,931.3 506,931.1 506.5,930.9 507,930.7 507.5,930.6 508,930.4 508.5,930.2 509,930 509.5,929.8 510,929.6 510.5,929.4 511,929.2 511.5,928.9 512,928.7 512.5,928.5 513,928.3 513.5,928 514,927.8 514.5,927.5 515,927.3 515.5,927 516,926.8 516.5,926.5 517,926.2 517.5,926 518,925.7 518.5,925.4 519,925.1 519.5,924.8 520,924.5 520.5,924.2 521,923.8 521.5,923.5 522,923.2 522.5,922.8 523,922.5 523.5,922.2 524,921.8 524.5,921.5 525,921.1 525.5,920.7 526,920.3 526.5,919.9 527,919.4 527.5,919 528,918.6 528.5,918.1 529,917.6 529.5,917.2 530,916.7 530.5,916.2 531,915.8 531.5,915.3 532,914.8 532.5,914.4 533,913.9 533.5,913.5 534,913 534.5,912.6 535,912.1 535.5,911.6 536,911.2 536.5,910.7 537,910.2 537.5,909.8 538,909.3 538.5,908.8 539,908.4 539.5,907.9 540,907.4 540.5,907 541,906.5 541.5,906 542,905.6 542.5,905.1 543,904.6 543.5,904.2 544,903.7 544.5,903.2 545,902.8 545.5,902.3 546,901.8 546.5,901.4 547,900.9 547.5,900.4 548,899.9 548.5,899.5 549,899 549.5,898.5 550,898 550.5,897.5 551,897.1 551.5,896.6 552,896.1 552.5,895.6 553,895.2 553.5,894.7 554,894.3 554.5,893.8 555,893.4 555.5,892.9 556,892.5 556.5,892.1 557,891.7 557.5,891.3 558,890.8 558.5,890.4 559,890 559.5,889.6 560,889.2 560.5,888.8 561,888.4 561.5,888 562,887.6 562.5,887.2 563,886.9 563.5,886.5 564,886.1 564.5,885.8 565,885.4 565.5,885.1 566,884.8 566.5,884.5 567,884.1 567.5,883.8 568,883.5 568.5,883.2 569,882.9 569.5,882.5 570,882.2 570.5,881.9 571,881.6 571.5,881.3 572,881.1 572.5,880.8 573,880.5 573.5,880.3 574,880 574.5,879.8 575,879.6 575.5,879.4 576,879.2 576.5,879 577,878.8 577.5,878.6 578,878.5 578.5,878.3 579,878.2 579.5,878 580,877.9 580.5,877.7 581,877.6 581.5,877.4 582,877.3 582.5,877.2 583,877.1 583.5,876.9 584,876.8 584.5,876.7 585,876.6 585.5,876.5 586,876.5 586.5,876.4 587,876.3 587.5,876.2 588,876.2 588.5,876.1 589,876 589.5,875.9 590,875.9 590.5,875.8 591,875.7 591.5,875.7 592,875.6 592.5,875.5 593,875.5 593.5,875.4 594,875.4 594.5,875.3 595,875.3 595.5,875.2 596,875.2 596.5,875.1 597,875.1 597.5,875.1 598,875 598.5,875 599,875 599.5,875 600,875 600.5,875 601,875 601.5,875 602,875 602.5,875 603,875 603.5,875 604,875 604.5,875 605,875 605.5,875.1 606,875.1 606.5,875.1 607,875.1 607.5,875.1 608,875.1 608.5,875.1 609,875.2 609.5,875.2 610,875.2 610.5,875.2 611,875.2 611.5,875.2 612,875.3 612.5,875.3 613,875.3 613.5,875.3 614,875.4 614.5,875.4 615,875.4 615.5,875.4 616,875.5 616.5,875.5 617,875.5 617.5,875.6 618,875.6 618.5,875.7 619,875.8 619.5,875.9 620,876 620.5,876.2 621,876.3 621.5,876.4 622,876.6 622.5,876.8 623,877 623.5,877.1 624,877.3 624.5,877.5 625,877.7 625.5,877.9 626,878.1 626.5,878.4 627,878.6 627.5,878.8 628,879 628.5,879.2 629,879.4 629.5,879.7 630,879.9 630.5,880.2 631,880.6 631.5,880.9 632,881.2 632.5,881.6 633,881.9 633.5,882.3 634,882.7 634.5,883 635,883.4 635.5,883.8 636,884.2 636.5,884.5 637,884.9 637.5,885.2 638,885.5 638.5,885.8 639,886.1 639.5,886.4 640,886.6 640.5,886.8 641,887.1 641.5,887.3 642,887.5 642.5,887.7 643,888 643.5,888.2 644,888.4 644.5,888.6 645,888.8 645.5,888.9 646,889.1 646.5,889.2 647,889.3 647.5,889.4 648,889.5 648.5,889.5 649,889.5 649.5,889.3 650,889.1 650.5,888.8 651,888.4 651.5,888 652,887.4 652.5,886.9 653,886.3 653.5,885.6 654,884.9 654.5,884.2 655,883.5 655.5,882.8 656,882.1 656.5,881.4 657,880.7 657.5,879.9 658,879.1 658.5,878.2 659,877.2 659.5,876.2 660,875.2 660.5,874.1 661,873 661.5,871.9 662,870.8 662.5,869.7 663,868.6 663.5,867.6 664,866.5 664.5,865.5 665,864.6 665.5,863.8 666,862.8 666.5,861.9 667,860.9 667.5,859.9 668,858.9 668.5,857.9 669,857 669.5,856.2 670,855.4 670.5,854.8 671,854.4 671.5,854.1 672,854 672.5,854 673,854 673.5,854.1 674,854.1 674.5,854.2 675,854.2 675.5,854.3 676,854.4 676.5,854.5 677,854.6 677.5,854.7 678,854.8 678.5,854.9 679,855 679.5,855.1 680,855.3 680.5,855.5 681,855.8 681.5,856 682,856.3 682.5,856.5 683,856.8 683.5,857 684,857.2 684.5,857.3 685,857.4 685.5,857.4 686,857.3 686.5,856.9 687,856.5 687.5,855.8 688,855.1 688.5,854.2 689,853.2 689.5,852.1 690,851 690.5,849.7 691,848.5 691.5,847.2 692,845.8 692.5,844.4 693,842.6 693.5,840.6 694,838.3 694.5,835.8 695,833.1 695.5,830.3 696,827.4 696.5,824.5 697,821.6 697.5,818.7 698,815.9 698.5,813.2 699,810.6 699.5,808 700,805.3 700.5,802.7 701,800 701.5,797.2 702,794.6 702.5,791.9 703,789.3 703.5,786.8 704,784.3 704.5,782 705,779.7 705.5,777.7 706,775.7 706.5,773.7 707,771.9 707.5,770 708,768.3 708.5,766.5 709,764.9 709.5,763.3 710,761.7 710.5,760.1 711,758.6 711.5,757.2 712,755.7 712.5,754.3 713,752.9 713.5,751.4 714,750 714.5,748.6 715,747.3 715.5,746.1 716,745 716.5,744 717,743.2 717.5,742.6 718,742 718.5,741.5 719,741 719.5,740.6 720,740.3 720.5,740.5 721,740.9 721.5,741.7 722,742.7 722.5,743.9 723,745.3 723.5,746.9 724,748.7 724.5,751.4 725,755.3 725.5,760.2 726,765.7 726.5,771.7 727,777.8 727.5,784.1 728,791.3 728.5,799.2 729,807.6 729.5,816.2 730,824.9 730.5,833.2 731,841.3 731.5,849.5 732,857.7 732.5,865.8 733,873.6 733.5,881 734,888.2 734.5,895.2 735,901.9 735.5,908.6 736,915.2 736.5,921.8 737,928 737.5,933.7 738,938.9 738.5,943.7 739,948.1 739.5,952.3 740,956.1 740.5,959.6 741,962.8 741.5,965.9 742,968.8 742.5,971.6 743,974.2 743.5,976.7 744,979 744.5,981.2 745,983.3 745.5,985.4 746,987.4 746.5,989.5 747,991.6 747.5,993.6 748,995.7 748.5,997.6 749,999.5 749.5,1001.3 750,1003.1 750.5,1004.8 751,1006.4 751.5,1008 752,1009.5 752.5,1010.9 753,1012.3 753.5,1013.6 754,1014.8 754.5,1016 755,1017.2 755.5,1018.4 756,1019.5 756.5,1020.6 757,1021.7 757.5,1022.8 758,1023.8 758.5,1024.8 759,1025.8 759.5,1026.8 760,1027.7 760.5,1028.6 761,1029.5 761.5,1030.3 762,1031.2 762.5,1032 763,1032.7 763.5,1033.5 764,1034.3 764.5,1035 765,1035.7 765.5,1036.4 766,1037.1 766.5,1037.8 767,1038.5 767.5,1039.2 768,1039.9 768.5,1040.5 769,1041.2 769.5,1041.9 770,1042.5 770.5,1043.2 771,1043.8 771.5,1044.4 772,1045.1 772.5,1045.7 773,1046.3 773.5,1046.9 774,1047.5 774.5,1048.1 775,1048.7 775.5,1049.3 776,1049.9 776.5,1050.4 777,1051 777.5,1051.6 778,1052.1 778.5,1052.7 779,1053.3 779.5,1053.8 780,1054.4 780.5,1054.9 781,1055.4 781.5,1056 782,1056.5 782.5,1057 783,1057.6 783.5,1058.1 784,1058.6 784.5,1059.2 785,1059.7 785.5,1060.2 786,1060.7 786.5,1061.2 787,1061.7 787.5,1062.2 788,1062.7 788.5,1063.2 789,1063.6 789.5,1064.1 790,1064.5 790.5,1064.9 791,1065.3 791.5,1065.7 792,1066.1 792.5,1066.5 793,1066.8 793.5,1067.2 794,1067.6 794.5,1067.9 795,1068.3 795.5,1068.6 796,1068.9 796.5,1069.3 797,1069.6 797.5,1069.9 798,1070.2 798.5,1070.6 799,1070.9 799.5,1071.2 800,1071.5 800.5,1071.8 801,1072.1 801.5,1072.4 802,1072.7 802.5,1073 803,1073.3 803.5,1073.5 804,1073.8 804.5,1074.1 805,1074.4 805.5,1074.6 806,1074.9 806.5,1075.2 807,1075.4 807.5,1075.7 808,1076 808.5,1076.2 809,1076.5 809.5,1076.7 810,1077 810.5,1077.3 811,1077.5 811.5,1077.8 812,1078 812.5,1078.3 813,1078.6 813.5,1078.8 814,1079.1 814.5,1079.3 815,1079.6 815.5,1079.9 816,1080.1 816.5,1080.4 817,1080.6 817.5,1080.8 818,1081.1 818.5,1081.3 819,1081.5 819.5,1081.8 820,1082 820.5,1082.2 821,1082.4 821.5,1082.7 822,1082.9 822.5,1083.1 823,1083.3 823.5,1083.5 824,1083.7 824.5,1083.9 825,1084.1 825.5,1084.3 826,1084.5 826.5,1084.7 827,1084.9 827.5,1085.1 828,1085.2 828.5,1085.4 829,1085.6 829.5,1085.8 830,1086 830.5,1086.2 831,1086.4 831.5,1086.6 832,1086.7 832.5,1086.9 833,1087.1 833.5,1087.3 834,1087.5 834.5,1087.6 835,1087.8 835.5,1088 836,1088.2 836.5,1088.3 837,1088.5 837.5,1088.7 838,1088.8 838.5,1089 839,1089.2 839.5,1089.3 840,1089.5 840.5,1089.7 841,1089.8 841.5,1090 842,1090.2 842.5,1090.3 843,1090.5 843.5,1090.6 844,1090.8 844.5,1091 845,1091.1 845.5,1091.3 846,1091.4 846.5,1091.6 847,1091.8 847.5,1091.9 848,1092.1 848.5,1092.2 849,1092.4 849.5,1092.5 850,1092.7 850.5,1092.8 851,1093 851.5,1093.1 852,1093.3 852.5,1093.4 853,1093.6 853.5,1093.7 854,1093.9 854.5,1094 855,1094.2 855.5,1094.3 856,1094.4 856.5,1094.6 857,1094.7 857.5,1094.8 858,1095 858.5,1095.1 859,1095.2 859.5,1095.4 860,1095.5 860.5,1095.6 861,1095.7 861.5,1095.8 862,1096 862.5,1096.1 863,1096.2 863.5,1096.3 864,1096.4 864.5,1096.5 865,1096.7 865.5,1096.8 866,1096.9 866.5,1097 867,1097.1 867.5,1097.2 868,1097.3 868.5,1097.4 869,1097.5 869.5,1097.6 870,1097.7 870.5,1097.8 871,1097.9 871.5,1098 872,1098.1 872.5,1098.2 873,1098.3 873.5,1098.4 874,1098.5 874.5,1098.6 875,1098.7 875.5,1098.7 876,1098.8 876.5,1098.9 877,1099 877.5,1099.1 878,1099.2 878.5,1099.3 879,1099.3 879.5,1099.4 880,1099.5 880.5,1099.6 881,1099.7 881.5,1099.8 882,1099.8 882.5,1099.9 883,1100 883.5,1100.1 884,1100.2 884.5,1100.3 885,1100.4 885.5,1100.5 886,1100.6 886.5,1100.7 887,1100.7 887.5,1100.8 888,1100.9 888.5,1101 889,1101.1 889.5,1101.2 890,1101.3 890.5,1101.4 891,1101.5 891.5,1101.6 892,1101.6 892.5,1101.7 893,1101.8 893.5,1101.9 894,1102 894.5,1102 895,1102.1 895.5,1102.2 896,1102.3 896.5,1102.3 897,1102.4 897.5,1102.5 898,1102.5 898.5,1102.6 899,1102.7 899.5,1102.7 900,1102.8 900.5,1102.9 901,1102.9 901.5,1103 902,1103.1 902.5,1103.1 903,1103.2 903.5,1103.2 904,1103.3 904.5,1103.4 905,1103.4 905.5,1103.5 906,1103.5 906.5,1103.6 907,1103.6 907.5,1103.7 908,1103.8 908.5,1103.8 909,1103.9 909.5,1103.9 910,1104 910.5,1104 911,1104.1 911.5,1104.2 912,1104.2 912.5,1104.3 913,1104.3 913.5,1104.4 914,1104.4 914.5,1104.5 915,1104.5 915.5,1104.6 916,1104.6 916.5,1104.7 917,1104.8 917.5,1104.8 918,1104.9 918.5,1104.9 919,1105 919.5,1105 920,1105.1 920.5,1105.1 921,1105.2 921.5,1105.2 922,1105.3 922.5,1105.3 923,1105.4 923.5,1105.4 924,1105.5 924.5,1105.6 925,1105.6 925.5,1105.7 926,1105.7 926.5,1105.8 927,1105.8 927.5,1105.9 928,1105.9 928.5,1106 929,1106 929.5,1106.1 930,1106.1 930.5,1106.2 931,1106.2 931.5,1106.3 932,1106.3 932.5,1106.4 933,1106.4 933.5,1106.5 934,1106.5 934.5,1106.5 935,1106.6 935.5,1106.6 936,1106.7 936.5,1106.7 937,1106.8 937.5,1106.8 938,1106.9 938.5,1106.9 939,1107 939.5,1107 940,1107.1 940.5,1107.1 941,1107.2 941.5,1107.2 942,1107.3 942.5,1107.3 943,1107.4 943.5,1107.4 944,1107.5 944.5,1107.5 945,1107.5 945.5,1107.6 946,1107.6 946.5,1107.7 947,1107.7 947.5,1107.8 948,1107.8 948.5,1107.9 949,1107.9 949.5,1108 950,1108 950.5,1108.1 951,1108.1 951.5,1108.1 952,1108.2 952.5,1108.2 953,1108.3 953.5,1108.3 954,1108.4 954.5,1108.4 955,1108.5 955.5,1108.5 956,1108.6 956.5,1108.6 957,1108.7 957.5,1108.7 958,1108.7 958.5,1108.8 959,1108.8 959.5,1108.9 960,1108.9 960.5,1109 961,1109 961.5,1109.1 962,1109.1 962.5,1109.1 963,1109.2 963.5,1109.2 964,1109.3 964.5,1109.3 965,1109.4 965.5,1109.4 966,1109.5 966.5,1109.5 967,1109.6 967.5,1109.6 968,1109.6 968.5,1109.7 969,1109.7 969.5,1109.8 970,1109.8 970.5,1109.9 971,1109.9 971.5,1109.9 972,1110 972.5,1110 973,1110.1 973.5,1110.1 974,1110.2 974.5,1110.2 975,1110.2 975.5,1110.3 976,1110.3 976.5,1110.4 977,1110.4 977.5,1110.5 978,1110.5 978.5,1110.5 979,1110.6 979.5,1110.6 980,1110.7 980.5,1110.7 981,1110.8 981.5,1110.8 982,1110.8 982.5,1110.9 983,1110.9 983.5,1111 984,1111 984.5,1111.1 985,1111.1 985.5,1111.1 986,1111.2 986.5,1111.2 987,1111.3 987.5,1111.3 988,1111.3 988.5,1111.4 989,1111.4 989.5,1111.5 990,1111.5 990.5,1111.5 991,1111.6 991.5,1111.6 992,1111.7 992.5,1111.7 993,1111.7 993.5,1111.8 994,1111.8 994.5,1111.9 995,1111.9 995.5,1111.9 996,1112 996.5,1112 997,1112.1 997.5,1112.1 998,1112.1 998.5,1112.2 999,1112.2 999.5,1112.3 1000,1112.3" stroke="#ff00ff"/><path d="M97,789 97.5,789.3 98,789.6 98.5,789.9 99,790.2 99.5,790.5 100,790.8 100.5,791.1 101,791.5 101.5,791.8 102,792.1 102.5,792.4 103,792.7 103.5,793 104,793.4 104.5,793.7 105,794 105.5,794.4 106,794.7 106.5,794.9 107,795.2 107.5,795.4 108,795.6 108.5,795.8 109,796 109.5,796.2 110,796.4 110.5,796.5 111,796.7 111.5,796.9 112,797.1 112.5,797.3 113,797.6 113.5,797.9 114,798.2 114.5,798.5 115,798.9 115.5,799.3 116,799.7 116.5,800.1 117,800.6 117.5,801 118,801.5 118.5,801.9 119,802.4 119.5,802.9 120,803.4 120.5,803.9 121,804.4 121.5,804.9 122,805.5 122.5,806.1 123,806.6 123.5,807.2 124,807.8 124.5,808.4 125,809 125.5,809.6 126,810.2 126.5,810.9 127,811.6 127.5,812.2 128,812.9 128.5,813.6 129,814.2 129.5,814.9 130,815.6 130.5,816.2 131,816.8 131.5,817.4 132,818 132.5,818.6 133,819.2 133.5,819.8 134,820.4 134.5,821 135,821.5 135.5,822 136,822.5 136.5,823 137,823.4 137.5,823.8 138,824.2 138.5,824.6 139,825 139.5,825.4 140,825.7 140.5,826.1 141,826.4 141.5,826.6 142,826.8 142.5,826.9 143,827 143.5,827 144,827.1 144.5,827.1 145,827.1 145.5,827.1 146,827.1 146.5,827.2 147,827.2 147.5,827.2 148,827.2 148.5,827.2 149,827.2 149.5,827.2 150,827.2 150.5,827.1 151,827.1 151.5,827 152,827 152.5,826.9 153,826.8 153.5,826.8 154,826.7 154.5,826.7 155,826.7 155.5,826.7 156,826.7 156.5,826.8 157,826.8 157.5,826.9 158,827 158.5,827.1 159,827.1 159.5,827.3 160,827.4 160.5,827.5 161,827.6 161.5,827.8 162,828 162.5,828.2 163,828.5 163.5,828.8 164,829.2 164.5,829.6 165,830 165.5,830.4 166,830.9 166.5,831.3 167,831.8 167.5,832.3 168,832.8 168.5,833.4 169,834 169.5,834.6 170,835.3 170.5,836 171,836.7 171.5,837.4 172,838.1 172.5,838.8 173,839.5 173.5,840.2 174,840.9 174.5,841.6 175,842.3 175.5,843 176,843.8 176.5,844.5 177,845.2 177.5,845.9 178,846.7 178.5,847.4 179,848 179.5,848.7 180,849.4 180.5,850.2 181,850.9 181.5,851.6 182,852.3 182.5,853 183,853.6 183.5,854.2 184,854.8 184.5,855.3 185,855.8 185.5,856.2 186,856.7 186.5,857.1 187,857.5 187.5,857.9 188,858.3 188.5,858.7 189,859 189.5,859.3 190,859.5 190.5,859.8 191,859.9 191.5,860.1 192,860.2 192.5,860.4 193,860.5 193.5,860.7 194,860.8 194.5,860.9 195,861 195.5,861.1 196,861.2 196.5,861.3 197,861.4 197.5,861.5 198,861.6 198.5,861.6 199,861.7 199.5,861.8 200,861.9 200.5,861.9 201,862 201.5,862.1 202,862.2 202.5,862.2 203,862.3 203.5,862.4 204,862.5 204.5,862.6 205,862.6 205.5,862.7 206,862.8 206.5,862.9 207,863 207.5,863 208,863.1 208.5,863.1 209,863.2 209.5,863.2 210,863.2 210.5,863.2 211,863.2 211.5,863.1 212,863.1 212.5,863 213,863 213.5,862.9 214,862.8 214.5,862.7 215,862.6 215.5,862.5 216,862.4 216.5,862.3 217,862.1 217.5,861.9 218,861.6 218.5,861.3 219,860.9 219.5,860.5 220,860.1 220.5,859.8 221,859.4 221.5,859.1 222,858.8 222.5,858.5 223,858.3 223.5,858 224,857.7 224.5,857.4 225,857.1 225.5,856.9 226,856.7 226.5,856.6 227,856.4 227.5,856.4 228,856.4 228.5,856.4 229,856.4 229.5,856.4 230,856.4 230.5,856.4 231,856.4 231.5,856.4 232,856.4 232.5,856.4 233,856.4 233.5,856.4 234,856.4 234.5,856.4 235,856.5 235.5,856.6 236,856.7 236.5,856.9 237,857.1 237.5,857.3 238,857.6 238.5,857.8 239,858.1 239.5,858.3 240,858.6 240.5,858.9 241,859.1 241.5,859.5 242,859.8 242.5,860.2 243,860.6 243.5,861 244,861.4 244.5,861.8 245,862.1 245.5,862.4 246,862.7 246.5,863 247,863.2 247.5,863.5 248,863.8 248.5,864 249,864.2 249.5,864.5 250,864.6 250.5,864.8 251,864.9 251.5,864.9 252,864.9 252.5,864.9 253,864.9 253.5,864.8 254,864.8 254.5,864.7 255,864.7 255.5,864.6 256,864.5 256.5,864.3 257,864 257.5,863.7 258,863.2 258.5,862.8 259,862.2 259.5,861.7 260,861.1 260.5,860.4 261,859.5 261.5,858.5 262,857.4 262.5,856.2 263,855 263.5,853.8 264,852.6 264.5,851.2 265,849.8 265.5,848.3 266,846.7 266.5,845.1 267,843.5 267.5,841.9 268,840.4 268.5,838.8 269,837.2 269.5,835.6 270,834 270.5,832.4 271,830.8 271.5,829.1 272,827.4 272.5,825.7 273,823.9 273.5,822.1 274,820.3 274.5,818.6 275,816.9 275.5,815.2 276,813.7 276.5,812.3 277,810.9 277.5,809.6 278,808.2 278.5,806.7 279,805.1 279.5,803.2 280,800.7 280.5,797.5 281,794.3 281.5,791.6 282,789.9 282.5,788.7 283,787.5 283.5,786.4 284,785.4 284.5,784.6 285,783.8 285.5,783 286,782.3 286.5,781.6 287,781 287.5,780.4 288,779.7 288.5,779.1 289,778.4 289.5,777.7 290,777 290.5,776.2 291,775.6 291.5,774.9 292,774.3 292.5,773.6 293,773 293.5,772.3 294,771.7 294.5,771 295,770.3 295.5,769.5 296,768.7 296.5,767.9 297,767 297.5,766 298,765 298.5,764 299,762.9 299.5,761.8 300,760.6 300.5,759.3 301,758 301.5,756.6 302,755.1 302.5,753.3 303,751.4 303.5,749.3 304,747.2 304.5,745 305,742.7 305.5,740.5 306,738.2 306.5,735.8 307,733.4 307.5,730.8 308,728.3 308.5,725.8 309,723.2 309.5,720.8 310,718.4 310.5,715.9 311,713.4 311.5,711 312,708.6 312.5,706.3 313,704.1 313.5,702 314,699.9 314.5,697.8 315,695.7 315.5,693.7 316,691.8 316.5,690.2 317,688.8 317.5,687.7 318,686.8 318.5,685.8 319,684.9 319.5,684.1 320,683.4 320.5,682.7 321,682.1 321.5,681.7 322,681.4 322.5,681.3 323,681.4 323.5,681.6 324,681.9 324.5,682.4 325,683 325.5,683.7 326,684.4 326.5,685.1 327,686 327.5,687.1 328,688.5 328.5,690 329,691.7 329.5,693.5 330,695.3 330.5,697.1 331,698.9 331.5,700.9 332,703 332.5,705.1 333,707.3 333.5,709.6 334,711.9 334.5,714.2 335,716.6 335.5,719 336,721.6 336.5,724.1 337,726.7 337.5,729.3 338,731.9 338.5,734.4 339,736.9 339.5,739.4 340,742 340.5,744.5 341,747 341.5,749.4 342,751.8 342.5,754.2 343,756.5 343.5,758.9 344,761.2 344.5,763.5 345,765.7 345.5,767.8 346,769.7 346.5,771.5 347,773.2 347.5,774.9 348,776.6 348.5,778.1 349,779.5 349.5,780.7 350,781.6 350.5,782.2 351,782.8 351.5,783.4 352,783.9 352.5,784.4 353,784.8 353.5,785.2 354,785.5 354.5,785.7 355,785.9 355.5,785.9 356,785.9 356.5,785.7 357,785.5 357.5,785.3 358,785 358.5,784.7 359,784.4 359.5,784 360,783.7 360.5,783.4 361,783 361.5,782.6 362,782.2 362.5,781.8 363,781.3 363.5,780.8 364,780.3 364.5,779.8 365,779.2 365.5,778.7 366,778.1 366.5,777.5 367,776.9 367.5,776.3 368,775.7 368.5,775 369,774.2 369.5,773.4 370,772.6 370.5,771.7 371,770.8 371.5,769.9 372,769 372.5,768.2 373,767.3 373.5,766.5 374,765.7 374.5,764.9 375,764.3 375.5,763.6 376,763 376.5,762.3 377,761.6 377.5,761 378,760.3 378.5,759.6 379,759 379.5,758.5 380,757.9 380.5,757.5 381,757.1 381.5,756.8 382,756.6 382.5,756.5 383,756.5 383.5,756.5 384,756.6 384.5,756.7 385,756.9 385.5,757 386,757.2 386.5,757.3 387,757.5 387.5,757.7 388,757.9 388.5,758 389,758.2 389.5,758.3 390,758.5 390.5,758.6 391,758.7 391.5,758.7 392,758.7 392.5,758.7 393,758.7 393.5,758.6 394,758.6 394.5,758.5 395,758.5 395.5,758.4 396,758.3 396.5,758.3 397,758.2 397.5,758.2 398,758.1 398.5,758.1 399,758 399.5,758 400,758 400.5,758 401,758.1 401.5,758.3 402,758.6 402.5,758.9 403,759.3 403.5,759.8 404,760.2 404.5,760.7 405,761.3 405.5,761.8 406,762.4 406.5,763.1 407,764 407.5,764.9 408,766 408.5,767.1 409,768.3 409.5,769.5 410,770.8 410.5,772.1 411,773.4 411.5,774.7 412,776 412.5,777.4 413,778.9 413.5,780.4 414,782 414.5,783.6 415,785.3 415.5,787 416,788.7 416.5,790.5 417,792.3 417.5,794 418,795.9 418.5,797.7 419,799.7 419.5,801.7 420,803.7 420.5,805.8 421,807.9 421.5,809.9 422,812 422.5,814.1 423,816.2 423.5,818.2 424,820.2 424.5,822.2 425,824.2 425.5,826.2 426,828.2 426.5,830.2 427,832.2 427.5,834.2 428,836.2 428.5,838.1 429,840.1 429.5,842 430,844 430.5,845.9 431,847.8 431.5,849.7 432,851.6 432.5,853.4 433,855.3 433.5,857.2 434,859 434.5,860.9 435,862.7 435.5,864.5 436,866.3 436.5,868.2 437,870 437.5,871.9 438,873.7 438.5,875.5 439,877.3 439.5,879.1 440,880.9 440.5,882.6 441,884.3 441.5,885.9 442,887.4 442.5,888.9 443,890.4 443.5,891.9 444,893.4 444.5,894.8 445,896.2 445.5,897.6 446,898.9 446.5,900.2 447,901.4 447.5,902.5 448,903.6 448.5,904.6 449,905.5 449.5,906.4 450,907.3 450.5,908.3 451,909.3 451.5,910.3 452,911.4 452.5,912.4 453,913.5 453.5,914.5 454,915.6 454.5,916.6 455,917.6 455.5,918.6 456,919.5 456.5,920.4 457,921.3 457.5,922.1 458,923 458.5,923.8 459,924.6 459.5,925.4 460,926.2 460.5,926.9 461,927.6 461.5,928.3 462,929 462.5,929.6 463,930.1 463.5,930.7 464,931.1 464.5,931.5 465,931.9 465.5,932.3 466,932.7 466.5,933.1 467,933.5 467.5,933.8 468,934.2 468.5,934.5 469,934.9 469.5,935.2 470,935.5 470.5,935.8 471,936 471.5,936.3 472,936.5 472.5,936.7 473,936.9 473.5,937 474,937.2 474.5,937.3 475,937.4 475.5,937.4 476,937.5 476.5,937.6 477,937.6 477.5,937.7 478,937.7 478.5,937.8 479,937.8 479.5,937.9 480,937.9 480.5,937.9 481,938 481.5,938 482,938 482.5,938 483,938.1 483.5,938.1 484,938.1 484.5,938.1 485,938.1 485.5,938.1 486,938.1 486.5,938 487,937.9 487.5,937.9 488,937.8 488.5,937.7 489,937.5 489.5,937.4 490,937.2 490.5,937.1 491,936.9 491.5,936.7 492,936.6 492.5,936.4 493,936.2 493.5,936 494,935.8 494.5,935.6 495,935.4 495.5,935.2 496,935 496.5,934.8 497,934.6 497.5,934.4 498,934.2 498.5,934.1 499,933.9 499.5,933.7 500,933.6 500.5,933.4 501,933.3 501.5,933.1 502,932.9 502.5,932.8 503,932.6 503.5,932.5 504,932.3 504.5,932.1 505,932 505.5,931.8 506,931.6 506.5,931.5 507,931.3 507.5,931.1 508,930.9 508.5,930.8 509,930.6 509.5,930.4 510,930.2 510.5,930 511,929.8 511.5,929.6 512,929.4 512.5,929.2 513,929 513.5,928.7 514,928.5 514.5,928.3 515,928 515.5,927.8 516,927.5 516.5,927.3 517,927 517.5,926.7 518,926.5 518.5,926.2 519,925.9 519.5,925.6 520,925.3 520.5,925 521,924.7 521.5,924.4 522,924.1 522.5,923.8 523,923.4 523.5,923.1 524,922.8 524.5,922.4 525,922.1 525.5,921.7 526,921.3 526.5,920.9 527,920.5 527.5,920 528,919.6 528.5,919.2 529,918.7 529.5,918.3 530,917.8 530.5,917.4 531,916.9 531.5,916.4 532,916 532.5,915.5 533,915.1 533.5,914.6 534,914.2 534.5,913.8 535,913.3 535.5,912.9 536,912.5 536.5,912 537,911.6 537.5,911.2 538,910.7 538.5,910.3 539,909.9 539.5,909.4 540,909 540.5,908.5 541,908.1 541.5,907.7 542,907.2 542.5,906.8 543,906.3 543.5,905.9 544,905.5 544.5,905 545,904.6 545.5,904.1 546,903.7 546.5,903.3 547,902.8 547.5,902.4 548,901.9 548.5,901.5 549,901 549.5,900.6 550,900.1 550.5,899.7 551,899.2 551.5,898.8 552,898.3 552.5,897.9 553,897.4 553.5,897 554,896.6 554.5,896.2 555,895.7 555.5,895.3 556,894.9 556.5,894.5 557,894.2 557.5,893.8 558,893.4 558.5,893 559,892.6 559.5,892.2 560,891.8 560.5,891.5 561,891.1 561.5,890.7 562,890.4 562.5,890 563,889.7 563.5,889.3 564,889 564.5,888.7 565,888.4 565.5,888.1 566,887.8 566.5,887.5 567,887.2 567.5,886.9 568,886.6 568.5,886.3 569,886 569.5,885.7 570,885.4 570.5,885.2 571,884.9 571.5,884.6 572,884.4 572.5,884.1 573,883.9 573.5,883.7 574,883.5 574.5,883.3 575,883.1 575.5,882.9 576,882.8 576.5,882.6 577,882.5 577.5,882.3 578,882.2 578.5,882.1 579,882 579.5,881.8 580,881.7 580.5,881.6 581,881.5 581.5,881.4 582,881.3 582.5,881.2 583,881.1 583.5,881 584,881 584.5,880.9 585,880.8 585.5,880.7 586,880.7 586.5,880.6 587,880.5 587.5,880.4 588,880.4 588.5,880.3 589,880.2 589.5,880.1 590,880.1 590.5,880 591,879.9 591.5,879.9 592,879.8 592.5,879.7 593,879.7 593.5,879.6 594,879.6 594.5,879.5 595,879.5 595.5,879.4 596,879.4 596.5,879.3 597,879.3 597.5,879.3 598,879.2 598.5,879.2 599,879.2 599.5,879.2 600,879.2 600.5,879.2 601,879.2 601.5,879.2 602,879.2 602.5,879.2 603,879.2 603.5,879.2 604,879.2 604.5,879.2 605,879.2 605.5,879.3 606,879.3 606.5,879.3 607,879.3 607.5,879.3 608,879.3 608.5,879.3 609,879.4 609.5,879.4 610,879.4 610.5,879.4 611,879.4 611.5,879.4 612,879.5 612.5,879.5 613,879.5 613.5,879.5 614,879.6 614.5,879.6 615,879.6 615.5,879.6 616,879.7 616.5,879.7 617,879.7 617.5,879.8 618,879.8 618.5,879.9 619,880 619.5,880.1 620,880.2 620.5,880.4 621,880.5 621.5,880.6 622,880.8 622.5,881 623,881.2 623.5,881.3 624,881.5 624.5,881.7 625,881.9 625.5,882.1 626,882.3 626.5,882.6 627,882.8 627.5,883 628,883.2 628.5,883.4 629,883.6 629.5,883.9 630,884.1 630.5,884.4 631,884.8 631.5,885.1 632,885.4 632.5,885.8 633,886.1 633.5,886.5 634,886.9 634.5,887.2 635,887.6 635.5,888 636,888.4 636.5,888.7 637,889.1 637.5,889.4 638,889.7 638.5,890 639,890.3 639.5,890.6 640,890.8 640.5,891 641,891.3 641.5,891.5 642,891.7 642.5,891.9 643,892.2 643.5,892.4 644,892.6 644.5,892.8 645,893 645.5,893.1 646,893.3 646.5,893.4 647,893.5 647.5,893.6 648,893.7 648.5,893.7 649,893.7 649.5,893.5 650,893.3 650.5,893 651,892.6 651.5,892.2 652,891.6 652.5,891.1 653,890.5 653.5,889.8 654,889.1 654.5,888.4 655,887.7 655.5,887 656,886.3 656.5,885.6 657,884.9 657.5,884.1 658,883.3 658.5,882.4 659,881.4 659.5,880.4 660,879.4 660.5,878.3 661,877.2 661.5,876.1 662,875 662.5,873.9 663,872.8 663.5,871.8 664,870.7 664.5,869.7 665,868.8 665.5,868 666,867 666.5,866.1 667,865.1 667.5,864.1 668,863.1 668.5,862.1 669,861.2 669.5,860.4 670,859.6 670.5,859 671,858.6 671.5,858.3 672,858.2 672.5,858.2 673,858.2 673.5,858.3 674,858.3 674.5,858.4 675,858.4 675.5,858.5 676,858.6 676.5,858.7 677,858.8 677.5,858.9 678,859 678.5,859.1 679,859.2 679.5,859.3 680,859.5 680.5,859.7 681,860 681.5,860.2 682,860.5 682.5,860.7 683,861 683.5,861.2 684,861.4 684.5,861.5 685,861.6 685.5,861.6 686,861.5 686.5,861.1 687,860.7 687.5,860 688,859.3 688.5,858.4 689,857.4 689.5,856.3 690,855.2 690.5,854 691,852.7 691.5,851.5 692,850.2 692.5,848.8 693,847 693.5,845 694,842.8 694.5,840.3 695,837.6 695.5,834.9 696,832 696.5,829.2 697,826.3 697.5,823.4 698,820.6 698.5,817.9 699,815.4 699.5,812.8 700,810.2 700.5,807.6 701,804.9 701.5,802.2 702,799.6 702.5,796.9 703,794.4 703.5,791.9 704,789.4 704.5,787.1 705,784.9 705.5,782.9 706,781 706.5,779.1 707,777.3 707.5,775.5 708,773.8 708.5,772.1 709,770.5 709.5,768.9 710,767.4 710.5,765.9 711,764.4 711.5,763 712,761.6 712.5,760.3 713,758.9 713.5,757.5 714,756.1 714.5,754.8 715,753.5 715.5,752.3 716,751.3 716.5,750.4 717,749.6 717.5,749.1 718,748.5 718.5,748 719,747.6 719.5,747.2 720,747 720.5,746.9 721,747.1 721.5,747.5 722,748.2 722.5,749.2 723,750.4 723.5,751.7 724,753.1 724.5,755.6 725,759.2 725.5,763.8 726,769.1 726.5,774.7 727,780.6 727.5,786.6 728,793.5 728.5,801.3 729,809.6 729.5,818.1 730,826.7 730.5,834.9 731,842.9 731.5,851 732,859.1 732.5,867 733,874.7 733.5,882.1 734,889.2 734.5,896 735,902.7 735.5,909.2 736,915.7 736.5,922.2 737,928.3 737.5,934 738,939 738.5,943.7 739,948 739.5,952.1 740,955.8 740.5,959.3 741,962.5 741.5,965.6 742,968.5 742.5,971.3 743,973.9 743.5,976.4 744,978.7 744.5,980.9 745,983 745.5,985.1 746,987.1 746.5,989.2 747,991.3 747.5,993.3 748,995.4 748.5,997.3 749,999.2 749.5,1001 750,1002.8 750.5,1004.5 751,1006.1 751.5,1007.7 752,1009.2 752.5,1010.6 753,1012 753.5,1013.3 754,1014.5 754.5,1015.7 755,1016.9 755.5,1018.1 756,1019.2 756.5,1020.3 757,1021.4 757.5,1022.5 758,1023.5 758.5,1024.5 759,1025.5 759.5,1026.5 760,1027.4 760.5,1028.3 761,1029.2 761.5,1030 762,1030.9 762.5,1031.7 763,1032.4 763.5,1033.2 764,1034 764.5,1034.7 765,1035.4 765.5,1036.1 766,1036.8 766.5,1037.5 767,1038.2 767.5,1038.9 768,1039.6 768.5,1040.2 769,1040.9 769.5,1041.6 770,1042.2 770.5,1042.9 771,1043.5 771.5,1044.1 772,1044.8 772.5,1045.4 773,1046 773.5,1046.6 774,1047.2 774.5,1047.8 775,1048.4 775.5,1049 776,1049.6 776.5,1050.1 777,1050.7 777.5,1051.3 778,1051.8 778.5,1052.4 779,1053 779.5,1053.5 780,1054.1 780.5,1054.6 781,1055.1 781.5,1055.7 782,1056.2 782.5,1056.7 783,1057.3 783.5,1057.8 784,1058.3 784.5,1058.9 785,1059.4 785.5,1059.9 786,1060.4 786.5,1060.9 787,1061.4 787.5,1061.9 788,1062.4 788.5,1062.9 789,1063.3 789.5,1063.8 790,1064.2 790.5,1064.6 791,1065 791.5,1065.4 792,1065.8 792.5,1066.2 793,1066.5 793.5,1066.9 794,1067.3 794.5,1067.6 795,1068 795.5,1068.3 796,1068.6 796.5,1069 797,1069.3 797.5,1069.6 798,1069.9 798.5,1070.3 799,1070.6 799.5,1070.9 800,1071.2 800.5,1071.5 801,1071.8 801.5,1072.1 802,1072.4 802.5,1072.7 803,1073 803.5,1073.2 804,1073.5 804.5,1073.8 805,1074.1 805.5,1074.3 806,1074.6 806.5,1074.9 807,1075.1 807.5,1075.4 808,1075.7 808.5,1075.9 809,1076.2 809.5,1076.4 810,1076.7 810.5,1077 811,1077.2 811.5,1077.5 812,1077.7 812.5,1078 813,1078.3 813.5,1078.5 814,1078.8 814.5,1079 815,1079.3 815.5,1079.6 816,1079.8 816.5,1080.1 817,1080.3 817.5,1080.5 818,1080.8 818.5,1081 819,1081.2 819.5,1081.5 820,1081.7 820.5,1081.9 821,1082.1 821.5,1082.4 822,1082.6 822.5,1082.8 823,1083 823.5,1083.2 824,1083.4 824.5,1083.6 825,1083.8 825.5,1084 826,1084.2 826.5,1084.4 827,1084.6 827.5,1084.8 828,1084.9 828.5,1085.1 829,1085.3 829.5,1085.5 830,1085.7 830.5,1085.9 831,1086.1 831.5,1086.3 832,1086.4 832.5,1086.6 833,1086.8 833.5,1087 834,1087.2 834.5,1087.3 835,1087.5 835.5,1087.7 836,1087.9 836.5,1088 837,1088.2 837.5,1088.4 838,1088.5 838.5,1088.7 839,1088.9 839.5,1089 840,1089.2 840.5,1089.4 841,1089.5 841.5,1089.7 842,1089.9 842.5,1090 843,1090.2 843.5,1090.3 844,1090.5 844.5,1090.7 845,1090.8 845.5,1091 846,1091.1 846.5,1091.3 847,1091.5 847.5,1091.6 848,1091.8 848.5,1091.9 849,1092.1 849.5,1092.2 850,1092.4 850.5,1092.5 851,1092.7 851.5,1092.8 852,1093 852.5,1093.1 853,1093.3 853.5,1093.4 854,1093.6 854.5,1093.7 855,1093.9 855.5,1094 856,1094.1 856.5,1094.3 857,1094.4 857.5,1094.5 858,1094.7 858.5,1094.8 859,1094.9 859.5,1095.1 860,1095.2 860.5,1095.3 861,1095.4 861.5,1095.5 862,1095.7 862.5,1095.8 863,1095.9 863.5,1096 864,1096.1 864.5,1096.2 865,1096.4 865.5,1096.5 866,1096.6 866.5,1096.7 867,1096.8 867.5,1096.9 868,1097 868.5,1097.1 869,1097.2 869.5,1097.3 870,1097.4 870.5,1097.5 871,1097.6 871.5,1097.7 872,1097.8 872.5,1097.9 873,1098 873.5,1098.1 874,1098.2 874.5,1098.3 875,1098.4 875.5,1098.4 876,1098.5 876.5,1098.6 877,1098.7 877.5,1098.8 878,1098.9 878.5,1099 879,1099 879.5,1099.1 880,1099.2 880.5,1099.3 881,1099.4 881.5,1099.5 882,1099.5 882.5,1099.6 883,1099.7 883.5,1099.8 884,1099.9 884.5,1100 885,1100.1 885.5,1100.2 886,1100.3 886.5,1100.4 887,1100.4 887.5,1100.5 888,1100.6 888.5,1100.7 889,1100.8 889.5,1100.9 890,1101 890.5,1101.1 891,1101.2 891.5,1101.3 892,1101.3 892.5,1101.4 893,1101.5 893.5,1101.6 894,1101.7 894.5,1101.7 895,1101.8 895.5,1101.9 896,1102 896.5,1102 897,1102.1 897.5,1102.2 898,1102.2 898.5,1102.3 899,1102.4 899.5,1102.4 900,1102.5 900.5,1102.6 901,1102.6 901.5,1102.7 902,1102.8 902.5,1102.8 903,1102.9 903.5,1102.9 904,1103 904.5,1103.1 905,1103.1 905.5,1103.2 906,1103.2 906.5,1103.3 907,1103.3 907.5,1103.4 908,1103.5 908.5,1103.5 909,1103.6 909.5,1103.6 910,1103.7 910.5,1103.7 911,1103.8 911.5,1103.9 912,1103.9 912.5,1104 913,1104 913.5,1104.1 914,1104.1 914.5,1104.2 915,1104.2 915.5,1104.3 916,1104.3 916.5,1104.4 917,1104.5 917.5,1104.5 918,1104.6 918.5,1104.6 919,1104.7 919.5,1104.7 920,1104.8 920.5,1104.8 921,1104.9 921.5,1104.9 922,1105 922.5,1105 923,1105.1 923.5,1105.1 924,1105.2 924.5,1105.3 925,1105.3 925.5,1105.4 926,1105.4 926.5,1105.5 927,1105.5 927.5,1105.6 928,1105.6 928.5,1105.7 929,1105.7 929.5,1105.8 930,1105.8 930.5,1105.9 931,1105.9 931.5,1106 932,1106 932.5,1106.1 933,1106.1 933.5,1106.2 934,1106.2 934.5,1106.2 935,1106.3 935.5,1106.3 936,1106.4 936.5,1106.4 937,1106.5 937.5,1106.5 938,1106.6 938.5,1106.6 939,1106.7 939.5,1106.7 940,1106.8 940.5,1106.8 941,1106.9 941.5,1106.9 942,1107 942.5,1107 943,1107.1 943.5,1107.1 944,1107.2 944.5,1107.2 945,1107.2 945.5,1107.3 946,1107.3 946.5,1107.4 947,1107.4 947.5,1107.5 948,1107.5 948.5,1107.6 949,1107.6 949.5,1107.7 950,1107.7 950.5,1107.8 951,1107.8 951.5,1107.8 952,1107.9 952.5,1107.9 953,1108 953.5,1108 954,1108.1 954.5,1108.1 955,1108.2 955.5,1108.2 956,1108.3 956.5,1108.3 957,1108.4 957.5,1108.4 958,1108.4 958.5,1108.5 959,1108.5 959.5,1108.6 960,1108.6 960.5,1108.7 961,1108.7 961.5,1108.8 962,1108.8 962.5,1108.8 963,1108.9 963.5,1108.9 964,1109 964.5,1109 965,1109.1 965.5,1109.1 966,1109.2 966.5,1109.2 967,1109.3 967.5,1109.3 968,1109.3 968.5,1109.4 969,1109.4 969.5,1109.5 970,1109.5 970.5,1109.6 971,1109.6 971.5,1109.6 972,1109.7 972.5,1109.7 973,1109.8 973.5,1109.8 974,1109.9 974.5,1109.9 975,1109.9 975.5,1110 976,1110 976.5,1110.1 977,1110.1 977.5,1110.2 978,1110.2 978.5,1110.2 979,1110.3 979.5,1110.3 980,1110.4 980.5,1110.4 981,1110.5 981.5,1110.5 982,1110.5 982.5,1110.6 983,1110.6 983.5,1110.7 984,1110.7 984.5,1110.8 985,1110.8 985.5,1110.8 986,1110.9 986.5,1110.9 987,1111 987.5,1111 988,1111 988.5,1111.1 989,1111.1 989.5,1111.2 990,1111.2 990.5,1111.2 991,1111.3 991.5,1111.3 992,1111.4 992.5,1111.4 993,1111.4 993.5,1111.5 994,1111.5 994.5,1111.6 995,1111.6 995.5,1111.6 996,1111.7 996.5,1111.7 997,1111.8 997.5,1111.8 998,1111.8 998.5,1111.9 999,1111.9 999.5,1112 1000,1112" stroke="#8000ff"/><path d="M97,789.8 97.5,790.1 98,790.4 98.5,790.7 99,791 99.5,791.3 100,791.6 100.5,791.9 101,792.3 101.5,792.6 102,792.9 102.5,793.2 103,793.5 103.5,793.8 104,794.2 104.5,794.5 105,794.8 105.5,795.2 106,795.5 106.5,795.7 107,796 107.5,796.2 108,796.4 108.5,796.6 109,796.8 109.5,797 110,797.2 110.5,797.3 111,797.5 111.5,797.7 112,797.9 112.5,798.1 113,798.4 113.5,798.7 114,799 114.5,799.3 115,799.7 115.5,800.1 116,800.5 116.5,800.9 117,801.4 117.5,801.8 118,802.3 118.5,802.7 119,803.2 119.5,803.7 120,804.2 120.5,804.7 121,805.2 121.5,805.7 122,806.3 122.5,806.9 123,807.4 123.5,808 124,808.6 124.5,809.2 125,809.8 125.5,810.4 126,811 126.5,811.7 127,812.4 127.5,813 128,813.7 128.5,814.4 129,815 129.5,815.7 130,816.4 130.5,817 131,817.6 131.5,818.2 132,818.8 132.5,819.4 133,820 133.5,820.6 134,821.2 134.5,821.8 135,822.3 135.5,822.8 136,823.3 136.5,823.8 137,824.2 137.5,824.6 138,825 138.5,825.4 139,825.8 139.5,826.2 140,826.5 140.5,826.9 141,827.2 141.5,827.4 142,827.6 142.5,827.7 143,827.8 143.5,827.8 144,827.9 144.5,827.9 145,827.9 145.5,827.9 146,827.9 146.5,828 147,828 147.5,828 148,828 148.5,828 149,828 149.5,828 150,828 150.5,827.9 151,827.9 151.5,827.8 152,827.8 152.5,827.7 153,827.6 153.5,827.6 154,827.5 154.5,827.5 155,827.5 155.5,827.5 156,827.5 156.5,827.6 157,827.6 157.5,827.7 158,827.8 158.5,827.9 159,827.9 159.5,828.1 160,828.2 160.5,828.3 161,828.4 161.5,828.6 162,828.8 162.5,829 163,829.3 163.5,829.6 164,830 164.5,830.4 165,830.8 165.5,831.2 166,831.7 166.5,832.1 167,832.6 167.5,833.1 168,833.6 168.5,834.2 169,834.8 169.5,835.4 170,836.1 170.5,836.8 171,837.5 171.5,838.2 172,838.9 172.5,839.6 173,840.3 173.5,841 174,841.7 174.5,842.4 175,843.1 175.5,843.8 176,844.6 176.5,845.3 177,846 177.5,846.7 178,847.5 178.5,848.2 179,848.8 179.5,849.5 180,850.2 180.5,851 181,851.7 181.5,852.4 182,853.1 182.5,853.8 183,854.4 183.5,855 184,855.6 184.5,856.1 185,856.6 185.5,857 186,857.5 186.5,857.9 187,858.3 187.5,858.7 188,859.1 188.5,859.5 189,859.8 189.5,860.1 190,860.3 190.5,860.6 191,860.7 191.5,860.9 192,861 192.5,861.2 193,861.3 193.5,861.5 194,861.6 194.5,861.7 195,861.8 195.5,861.9 196,862 196.5,862.1 197,862.2 197.5,862.3 198,862.4 198.5,862.4 199,862.5 199.5,862.6 200,862.7 200.5,862.7 201,862.8 201.5,862.9 202,863 202.5,863 203,863.1 203.5,863.2 204,863.3 204.5,863.4 205,863.4 205.5,863.5 206,863.6 206.5,863.7 207,863.8 207.5,863.8 208,863.9 208.5,863.9 209,864 209.5,864 210,864 210.5,864 211,864 211.5,863.9 212,863.9 212.5,863.8 213,863.8 213.5,863.7 214,863.6 214.5,863.5 215,863.4 215.5,863.3 216,863.2 216.5,863.1 217,862.9 217.5,862.7 218,862.4 218.5,862.1 219,861.7 219.5,861.3 220,860.9 220.5,860.6 221,860.2 221.5,859.9 222,859.6 222.5,859.3 223,859.1 223.5,858.8 224,858.5 224.5,858.2 225,857.9 225.5,857.7 226,857.5 226.5,857.4 227,857.2 227.5,857.2 228,857.2 228.5,857.2 229,857.2 229.5,857.2 230,857.2 230.5,857.2 231,857.2 231.5,857.2 232,857.2 232.5,857.2 233,857.2 233.5,857.2 234,857.2 234.5,857.2 235,857.3 235.5,857.4 236,857.5 236.5,857.7 237,857.9 237.5,858.1 238,858.4 238.5,858.6 239,858.9 239.5,859.1 240,859.4 240.5,859.7 241,859.9 241.5,860.3 242,860.6 242.5,861 243,861.4 243.5,861.8 244,862.2 244.5,862.6 245,862.9 245.5,863.2 246,863.5 246.5,863.8 247,864 247.5,864.3 248,864.6 248.5,864.8 249,865 249.5,865.3 250,865.4 250.5,865.6 251,865.7 251.5,865.7 252,865.7 252.5,865.7 253,865.7 253.5,865.6 254,865.6 254.5,865.5 255,865.5 255.5,865.4 256,865.3 256.5,865.1 257,864.8 257.5,864.5 258,864 258.5,863.6 259,863 259.5,862.5 260,861.9 260.5,861.2 261,860.3 261.5,859.3 262,858.2 262.5,857 263,855.8 263.5,854.6 264,853.4 264.5,852 265,850.6 265.5,849.1 266,847.5 266.5,845.9 267,844.3 267.5,842.7 268,841.2 268.5,839.6 269,838 269.5,836.4 270,834.8 270.5,833.2 271,831.6 271.5,829.9 272,828.2 272.5,826.5 273,824.7 273.5,822.9 274,821.1 274.5,819.4 275,817.7 275.5,816 276,814.5 276.5,813.1 277,811.7 277.5,810.4 278,809 278.5,807.5 279,805.9 279.5,804 280,801.5 280.5,798.3 281,795.1 281.5,792.4 282,790.7 282.5,789.5 283,788.3 283.5,787.2 284,786.2 284.5,785.4 285,784.6 285.5,783.8 286,783.1 286.5,782.4 287,781.8 287.5,781.2 288,780.5 288.5,779.9 289,779.2 289.5,778.5 290,777.8 290.5,777 291,776.4 291.5,775.7 292,775.1 292.5,774.4 293,773.8 293.5,773.1 294,772.5 294.5,771.8 295,771.1 295.5,770.3 296,769.5 296.5,768.7 297,767.8 297.5,766.8 298,765.8 298.5,764.8 299,763.7 299.5,762.6 300,761.4 300.5,760.1 301,758.8 301.5,757.4 302,755.9 302.5,754.1 303,752.2 303.5,750.1 304,748 304.5,745.8 305,743.5 305.5,741.3 306,739 306.5,736.6 307,734.2 307.5,731.6 308,729.1 308.5,726.6 309,724 309.5,721.6 310,719.2 310.5,716.7 311,714.2 311.5,711.8 312,709.4 312.5,707.1 313,704.9 313.5,702.8 314,700.7 314.5,698.6 315,696.5 315.5,694.5 316,692.6 316.5,691 317,689.6 317.5,688.5 318,687.6 318.5,686.6 319,685.7 319.5,684.9 320,684.2 320.5,683.5 321,682.9 321.5,682.5 322,682.2 322.5,682.1 323,682.2 323.5,682.4 324,682.7 324.5,683.2 325,683.8 325.5,684.5 326,685.2 326.5,685.9 327,686.8 327.5,687.9 328,689.3 328.5,690.8 329,692.5 329.5,694.3 330,696.1 330.5,697.9 331,699.7 331.5,701.7 332,703.8 332.5,705.9 333,708.1 333.5,710.4 334,712.7 334.5,715 335,717.4 335.5,719.8 336,722.4 336.5,724.9 337,727.5 337.5,730.1 338,732.7 338.5,735.2 339,737.7 339.5,740.2 340,742.8 340.5,745.3 341,747.8 341.5,750.2 342,752.6 342.5,755 343,757.3 343.5,759.7 344,762 344.5,764.3 345,766.5 345.5,768.6 346,770.5 346.5,772.3 347,774 347.5,775.7 348,777.4 348.5,778.9 349,780.3 349.5,781.5 350,782.4 350.5,783 351,783.6 351.5,784.2 352,784.7 352.5,785.2 353,785.6 353.5,786 354,786.3 354.5,786.5 355,786.7 355.5,786.7 356,786.7 356.5,786.5 357,786.3 357.5,786.1 358,785.8 358.5,785.5 359,785.2 359.5,784.8 360,784.5 360.5,784.2 361,783.8 361.5,783.4 362,783 362.5,782.6 363,782.1 363.5,781.6 364,781.1 364.5,780.6 365,780 365.5,779.5 366,778.9 366.5,778.3 367,777.7 367.5,777.1 368,776.5 368.5,775.8 369,775 369.5,774.2 370,773.4 370.5,772.5 371,771.6 371.5,770.7 372,769.8 372.5,769 373,768.1 373.5,767.3 374,766.5 374.5,765.7 375,765.1 375.5,764.4 376,763.8 376.5,763.1 377,762.4 377.5,761.8 378,761.1 378.5,760.4 379,759.8 379.5,759.3 380,758.7 380.5,758.3 381,757.9 381.5,757.6 382,757.4 382.5,757.3 383,757.3 383.5,757.3 384,757.4 384.5,757.5 385,757.7 385.5,757.8 386,758 386.5,758.1 387,758.3 387.5,758.5 388,758.7 388.5,758.8 389,759 389.5,759.1 390,759.3 390.5,759.4 391,759.5 391.5,759.5 392,759.5 392.5,759.5 393,759.5 393.5,759.4 394,759.4 394.5,759.3 395,759.3 395.5,759.2 396,759.1 396.5,759.1 397,759 397.5,759 398,758.9 398.5,758.9 399,758.8 399.5,758.8 400,758.8 400.5,758.8 401,758.9 401.5,759.1 402,759.4 402.5,759.7 403,760.1 403.5,760.6 404,761 404.5,761.5 405,762.1 405.5,762.6 406,763.2 406.5,763.9 407,764.8 407.5,765.7 408,766.8 408.5,767.9 409,769.1 409.5,770.3 410,771.6 410.5,772.9 411,774.2 411.5,775.5 412,776.8 412.5,778.2 413,779.7 413.5,781.2 414,782.8 414.5,784.4 415,786.1 415.5,787.8 416,789.5 416.5,791.3 417,793.1 417.5,794.8 418,796.7 418.5,798.5 419,800.5 419.5,802.5 420,804.5 420.5,806.6 421,808.7 421.5,810.7 422,812.8 422.5,814.9 423,817 423.5,819 424,821 424.5,823 425,825 425.5,827 426,829 426.5,831 427,833 427.5,835 428,837 428.5,838.9 429,840.9 429.5,842.8 430,844.8 430.5,846.7 431,848.6 431.5,850.5 432,852.4 432.5,854.2 433,856.1 433.5,858 434,859.8 434.5,861.7 435,863.5 435.5,865.3 436,867.1 436.5,869 437,870.8 437.5,872.7 438,874.5 438.5,876.3 439,878.1 439.5,879.9 440,881.7 440.5,883.4 441,885.1 441.5,886.7 442,888.2 442.5,889.7 443,891.2 443.5,892.7 444,894.2 444.5,895.6 445,897 445.5,898.4 446,899.7 446.5,901 447,902.2 447.5,903.3 448,904.4 448.5,905.4 449,906.3 449.5,907.2 450,908.1 450.5,909.1 451,910.1 451.5,911.1 452,912.2 452.5,913.2 453,914.3 453.5,915.3 454,916.4 454.5,917.4 455,918.4 455.5,919.4 456,920.3 456.5,921.2 457,922.1 457.5,922.9 458,923.8 458.5,924.6 459,925.4 459.5,926.2 460,927 460.5,927.7 461,928.4 461.5,929.1 462,929.8 462.5,930.4 463,930.9 463.5,931.5 464,931.9 464.5,932.3 465,932.7 465.5,933.1 466,933.5 466.5,933.9 467,934.3 467.5,934.6 468,935 468.5,935.3 469,935.7 469.5,936 470,936.3 470.5,936.6 471,936.8 471.5,937.1 472,937.3 472.5,937.5 473,937.7 473.5,937.8 474,938 474.5,938.1 475,938.2 475.5,938.2 476,938.3 476.5,938.4 477,938.4 477.5,938.5 478,938.5 478.5,938.6 479,938.6 479.5,938.7 480,938.7 480.5,938.7 481,938.8 481.5,938.8 482,938.8 482.5,938.8 483,938.9 483.5,938.9 484,938.9 484.5,938.9 485,938.9 485.5,938.9 486,938.9 486.5,938.8 487,938.7 487.5,938.7 488,938.6 488.5,938.5 489,938.3 489.5,938.2 490,938 490.5,937.9 491,937.7 491.5,937.5 492,937.4 492.5,937.2 493,937 493.5,936.8 494,936.6 494.5,936.4 495,936.2 495.5,936 496,935.8 496.5,935.6 497,935.4 497.5,935.2 498,935 498.5,934.9 499,934.7 499.5,934.5 500,934.4 500.5,934.2 501,934.1 501.5,933.9 502,933.7 502.5,933.6 503,933.4 503.5,933.3 504,933.1 504.5,932.9 505,932.8 505.5,932.6 506,932.4 506.5,932.3 507,932.1 507.5,931.9 508,931.7 508.5,931.6 509,931.4 509.5,931.2 510,931 510.5,930.8 511,930.6 511.5,930.4 512,930.2 512.5,930 513,929.8 513.5,929.5 514,929.3 514.5,929.1 515,928.8 515.5,928.6 516,928.3 516.5,928.1 517,927.8 517.5,927.5 518,927.3 518.5,927 519,926.7 519.5,926.4 520,926.1 520.5,925.8 521,925.5 521.5,925.2 522,924.9 522.5,924.6 523,924.2 523.5,923.9 524,923.6 524.5,923.2 525,922.9 525.5,922.5 526,922.1 526.5,921.7 527,921.3 527.5,920.8 528,920.4 528.5,920 529,919.5 529.5,919.1 530,918.6 530.5,918.2 531,917.7 531.5,917.2 532,916.8 532.5,916.3 533,915.9 533.5,915.4 534,915 534.5,914.6 535,914.1 535.5,913.7 536,913.3 536.5,912.8 537,912.4 537.5,912 538,911.5 538.5,911.1 539,910.7 539.5,910.2 540,909.8 540.5,909.3 541,908.9 541.5,908.5 542,908 542.5,907.6 543,907.1 543.5,906.7 544,906.3 544.5,905.8 545,905.4 545.5,904.9 546,904.5 546.5,904.1 547,903.6 547.5,903.2 548,902.7 548.5,902.3 549,901.8 549.5,901.4 550,900.9 550.5,900.5 551,900 551.5,899.6 552,899.1 552.5,898.7 553,898.2 553.5,897.8 554,897.4 554.5,897 555,896.5 555.5,896.1 556,895.7 556.5,895.3 557,895 557.5,894.6 558,894.2 558.5,893.8 559,893.4 559.5,893 560,892.6 560.5,892.3 561,891.9 561.5,891.5 562,891.2 562.5,890.8 563,890.5 563.5,890.1 564,889.8 564.5,889.5 565,889.2 565.5,888.9 566,888.6 566.5,888.3 567,888 567.5,887.7 568,887.4 568.5,887.1 569,886.8 569.5,886.5 570,886.2 570.5,886 571,885.7 571.5,885.4 572,885.2 572.5,884.9 573,884.7 573.5,884.5 574,884.3 574.5,884.1 575,883.9 575.5,883.7 576,883.6 576.5,883.4 577,883.3 577.5,883.1 578,883 578.5,882.9 579,882.8 579.5,882.6 580,882.5 580.5,882.4 581,882.3 581.5,882.2 582,882.1 582.5,882 583,881.9 583.5,881.8 584,881.8 584.5,881.7 585,881.6 585.5,881.5 586,881.5 586.5,881.4 587,881.3 587.5,881.2 588,881.2 588.5,881.1 589,881 589.5,880.9 590,880.9 590.5,880.8 591,880.7 591.5,880.7 592,880.6 592.5,880.5 593,880.5 593.5,880.4 594,880.4 594.5,880.3 595,880.3 595.5,880.2 596,880.2 596.5,880.1 597,880.1 597.5,880.1 598,880 598.5,880 599,880 599.5,880 600,880 600.5,880 601,880 601.5,880 602,880 602.5,880 603,880 603.5,880 604,880 604.5,880 605,880 605.5,880.1 606,880.1 606.5,880.1 607,880.1 607.5,880.1 608,880.1 608.5,880.1 609,880.2 609.5,880.2 610,880.2 610.5,880.2 611,880.2 611.5,880.2 612,880.3 612.5,880.3 613,880.3 613.5,880.3 614,880.4 614.5,880.4 615,880.4 615.5,880.4 616,880.5 616.5,880.5 617,880.5 617.5,880.6 618,880.6 618.5,880.7 619,880.8 619.5,880.9 620,881 620.5,881.2 621,881.3 621.5,881.4 622,881.6 622.5,881.8 623,882 623.5,882.1 624,882.3 624.5,882.5 625,882.7 625.5,882.9 626,883.1 626.5,883.4 627,883.6 627.5,883.8 628,884 628.5,884.2 629,884.4 629.5,884.7 630,884.9 630.5,885.2 631,885.6 631.5,885.9 632,886.2 632.5,886.6 633,886.9 633.5,887.3 634,887.7 634.5,888 635,888.4 635.5,888.8 636,889.2 636.5,889.5 637,889.9 637.5,890.2 638,890.5 638.5,890.8 639,891.1 639.5,891.4 640,891.6 640.5,891.8 641,892.1 641.5,892.3 642,892.5 642.5,892.7 643,893 643.5,893.2 644,893.4 644.5,893.6 645,893.8 645.5,893.9 646,894.1 646.5,894.2 647,894.3 647.5,894.4 648,894.5 648.5,894.5 649,894.5 649.5,894.3 650,894.1 650.5,893.8 651,893.4 651.5,893 652,892.4 652.5,891.9 653,891.3 653.5,890.6 654,889.9 654.5,889.2 655,888.5 655.5,887.8 656,887.1 656.5,886.4 657,885.7 657.5,884.9 658,884.1 658.5,883.2 659,882.2 659.5,881.2 660,880.2 660.5,879.1 661,878 661.5,876.9 662,875.8 662.5,874.7 663,873.6 663.5,872.6 664,871.5 664.5,870.5 665,869.6 665.5,868.8 666,867.8 666.5,866.9 667,865.9 667.5,864.9 668,863.9 668.5,862.9 669,862 669.5,861.2 670,860.4 670.5,859.8 671,859.4 671.5,859.1 672,859 672.5,859 673,859 673.5,859.1 674,859.1 674.5,859.2 675,859.2 675.5,859.3 676,859.4 676.5,859.5 677,859.6 677.5,859.7 678,859.8 678.5,859.9 679,860 679.5,860.1 680,860.3 680.5,860.5 681,860.8 681.5,861 682,861.3 682.5,861.5 683,861.8 683.5,862 684,862.2 684.5,862.3 685,862.4 685.5,862.4 686,862.3 686.5,861.9 687,861.5 687.5,860.8 688,860.1 688.5,859.2 689,858.2 689.5,857.1 690,856 690.5,854.8 691,853.5 691.5,852.3 692,851 692.5,849.6 693,847.8 693.5,845.8 694,843.6 694.5,841.1 695,838.4 695.5,835.7 696,832.8 696.5,830 697,827.1 697.5,824.2 698,821.4 698.5,818.7 699,816.2 699.5,813.6 700,811 700.5,808.4 701,805.7 701.5,803 702,800.4 702.5,797.7 703,795.2 703.5,792.7 704,790.2 704.5,787.9 705,785.7 705.5,783.7 706,781.8 706.5,779.9 707,778.1 707.5,776.3 708,774.6 708.5,772.9 709,771.3 709.5,769.7 710,768.2 710.5,766.7 711,765.2 711.5,763.8 712,762.4 712.5,761.1 713,759.7 713.5,758.3 714,756.9 714.5,755.6 715,754.3 715.5,753.1 716,752.1 716.5,751.2 717,750.4 717.5,749.9 718,749.3 718.5,748.8 719,748.4 719.5,748 720,747.8 720.5,747.7 721,747.9 721.5,748.3 722,749 722.5,750 723,751.2 723.5,752.5 724,753.9 724.5,756.4 725,760 725.5,764.6 726,769.9 726.5,775.5 727,781.4 727.5,787.4 728,794.3 728.5,802.1 729,810.4 729.5,818.9 730,827.5 730.5,835.7 731,843.7 731.5,851.8 732,859.9 732.5,867.8 733,875.5 733.5,882.9 734,890 734.5,896.8 735,903.5 735.5,910 736,916.5 736.5,923 737,929.1 737.5,934.8 738,939.8 738.5,944.5 739,948.8 739.5,952.9 740,956.6 740.5,960.1 741,963.3 741.5,966.4 742,969.3 742.5,972.1 743,974.7 743.5,977.2 744,979.5 744.5,981.7 745,983.8 745.5,985.9 746,987.9 746.5,990 747,992.1 747.5,994.1 748,996.2 748.5,998.1 749,1000 749.5,1001.8 750,1003.6 750.5,1005.3 751,1006.9 751.5,1008.5 752,1010 752.5,1011.4 753,1012.8 753.5,1014.1 754,1015.3 754.5,1016.5 755,1017.7 755.5,1018.9 756,1020 756.5,1021.1 757,1022.2 757.5,1023.3 758,1024.3 758.5,1025.3 759,1026.3 759.5,1027.3 760,1028.2 760.5,1029.1 761,1030 761.5,1030.8 762,1031.7 762.5,1032.5 763,1033.2 763.5,1034 764,1034.8 764.5,1035.5 765,1036.2 765.5,1036.9 766,1037.6 766.5,1038.3 767,1039 767.5,1039.7 768,1040.4 768.5,1041 769,1041.7 769.5,1042.4 770,1043 770.5,1043.7 771,1044.3 771.5,1044.9 772,1045.6 772.5,1046.2 773,1046.8 773.5,1047.4 774,1048 774.5,1048.6 775,1049.2 775.5,1049.8 776,1050.4 776.5,1050.9 777,1051.5 777.5,1052.1 778,1052.6 778.5,1053.2 779,1053.8 779.5,1054.3 780,1054.9 780.5,1055.4 781,1055.9 781.5,1056.5 782,1057 782.5,1057.5 783,1058.1 783.5,1058.6 784,1059.1 784.5,1059.7 785,1060.2 785.5,1060.7 786,1061.2 786.5,1061.7 787,1062.2 787.5,1062.7 788,1063.2 788.5,1063.7 789,1064.1 789.5,1064.6 790,1065 790.5,1065.4 791,1065.8 791.5,1066.2 792,1066.6 792.5,1067 793,1067.3 793.5,1067.7 794,1068.1 794.5,1068.4 795,1068.8 795.5,1069.1 796,1069.4 796.5,1069.8 797,1070.1 797.5,1070.4 798,1070.7 798.5,1071.1 799,1071.4 799.5,1071.7 800,1072 800.5,1072.3 801,1072.6 801.5,1072.9 802,1073.2 802.5,1073.5 803,1073.8 803.5,1074 804,1074.3 804.5,1074.6 805,1074.9 805.5,1075.1 806,1075.4 806.5,1075.7 807,1075.9 807.5,1076.2 808,1076.5 808.5,1076.7 809,1077 809.5,1077.2 810,1077.5 810.5,1077.8 811,1078 811.5,1078.3 812,1078.5 812.5,1078.8 813,1079.1 813.5,1079.3 814,1079.6 814.5,1079.8 815,1080.1 815.5,1080.4 816,1080.6 816.5,1080.9 817,1081.1 817.5,1081.3 818,1081.6 818.5,1081.8 819,1082 819.5,1082.3 820,1082.5 820.5,1082.7 821,1082.9 821.5,1083.2 822,1083.4 822.5,1083.6 823,1083.8 823.5,1084 824,1084.2 824.5,1084.4 825,1084.6 825.5,1084.8 826,1085 826.5,1085.2 827,1085.4 827.5,1085.6 828,1085.7 828.5,1085.9 829,1086.1 829.5,1086.3 830,1086.5 830.5,1086.7 831,1086.9 831.5,1087.1 832,1087.2 832.5,1087.4 833,1087.6 833.5,1087.8 834,1088 834.5,1088.1 835,1088.3 835.5,1088.5 836,1088.7 836.5,1088.8 837,1089 837.5,1089.2 838,1089.3 838.5,1089.5 839,1089.7 839.5,1089.8 840,1090 840.5,1090.2 841,1090.3 841.5,1090.5 842,1090.7 842.5,1090.8 843,1091 843.5,1091.1 844,1091.3 844.5,1091.5 845,1091.6 845.5,1091.8 846,1091.9 846.5,1092.1 847,1092.3 847.5,1092.4 848,1092.6 848.5,1092.7 849,1092.9 849.5,1093 850,1093.2 850.5,1093.3 851,1093.5 851.5,1093.6 852,1093.8 852.5,1093.9 853,1094.1 853.5,1094.2 854,1094.4 854.5,1094.5 855,1094.7 855.5,1094.8 856,1094.9 856.5,1095.1 857,1095.2 857.5,1095.3 858,1095.5 858.5,1095.6 859,1095.7 859.5,1095.9 860,1096 860.5,1096.1 861,1096.2 861.5,1096.3 862,1096.5 862.5,1096.6 863,1096.7 863.5,1096.8 864,1096.9 864.5,1097 865,1097.2 865.5,1097.3 866,1097.4 866.5,1097.5 867,1097.6 867.5,1097.7 868,1097.8 868.5,1097.9 869,1098 869.5,1098.1 870,1098.2 870.5,1098.3 871,1098.4 871.5,1098.5 872,1098.6 872.5,1098.7 873,1098.8 873.5,1098.9 874,1099 874.5,1099.1 875,1099.2 875.5,1099.2 876,1099.3 876.5,1099.4 877,1099.5 877.5,1099.6 878,1099.7 878.5,1099.8 879,1099.8 879.5,1099.9 880,1100 880.5,1100.1 881,1100.2 881.5,1100.3 882,1100.3 882.5,1100.4 883,1100.5 883.5,1100.6 884,1100.7 884.5,1100.8 885,1100.9 885.5,1101 886,1101.1 886.5,1101.2 887,1101.2 887.5,1101.3 888,1101.4 888.5,1101.5 889,1101.6 889.5,1101.7 890,1101.8 890.5,1101.9 891,1102 891.5,1102.1 892,1102.1 892.5,1102.2 893,1102.3 893.5,1102.4 894,1102.5 894.5,1102.5 895,1102.6 895.5,1102.7 896,1102.8 896.5,1102.8 897,1102.9 897.5,1103 898,1103 898.5,1103.1 899,1103.2 899.5,1103.2 900,1103.3 900.5,1103.4 901,1103.4 901.5,1103.5 902,1103.6 902.5,1103.6 903,1103.7 903.5,1103.7 904,1103.8 904.5,1103.9 905,1103.9 905.5,1104 906,1104 906.5,1104.1 907,1104.1 907.5,1104.2 908,1104.3 908.5,1104.3 909,1104.4 909.5,1104.4 910,1104.5 910.5,1104.5 911,1104.6 911.5,1104.7 912,1104.7 912.5,1104.8 913,1104.8 913.5,1104.9 914,1104.9 914.5,1105 915,1105 915.5,1105.1 916,1105.1 916.5,1105.2 917,1105.3 917.5,1105.3 918,1105.4 918.5,1105.4 919,1105.5 919.5,1105.5 920,1105.6 920.5,1105.6 921,1105.7 921.5,1105.7 922,1105.8 922.5,1105.8 923,1105.9 923.5,1105.9 924,1106 924.5,1106.1 925,1106.1 925.5,1106.2 926,1106.2 926.5,1106.3 927,1106.3 927.5,1106.4 928,1106.4 928.5,1106.5 929,1106.5 929.5,1106.6 930,1106.6 930.5,1106.7 931,1106.7 931.5,1106.8 932,1106.8 932.5,1106.9 933,1106.9 933.5,1107 934,1107 934.5,1107 935,1107.1 935.5,1107.1 936,1107.2 936.5,1107.2 937,1107.3 937.5,1107.3 938,1107.4 938.5,1107.4 939,1107.5 939.5,1107.5 940,1107.6 940.5,1107.6 941,1107.7 941.5,1107.7 942,1107.8 942.5,1107.8 943,1107.9 943.5,1107.9 944,1108 944.5,1108 945,1108 945.5,1108.1 946,1108.1 946.5,1108.2 947,1108.2 947.5,1108.3 948,1108.3 948.5,1108.4 949,1108.4 949.5,1108.5 950,1108.5 950.5,1108.6 951,1108.6 951.5,1108.6 952,1108.7 952.5,1108.7 953,1108.8 953.5,1108.8 954,1108.9 954.5,1108.9 955,1109 955.5,1109 956,1109.1 956.5,1109.1 957,1109.2 957.5,1109.2 958,1109.2 958.5,1109.3 959,1109.3 959.5,1109.4 960,1109.4 960.5,1109.5 961,1109.5 961.5,1109.6 962,1109.6 962.5,1109.6 963,1109.7 963.5,1109.7 964,1109.8 964.5,1109.8 965,1109.9 965.5,1109.9 966,1110 966.5,1110 967,1110.1 967.5,1110.1 968,1110.1 968.5,1110.2 969,1110.2 969.5,1110.3 970,1110.3 970.5,1110.4 971,1110.4 971.5,1110.4 972,1110.5 972.5,1110.5 973,1110.6 973.5,1110.6 974,1110.7 974.5,1110.7 975,1110.7 975.5,1110.8 976,1110.8 976.5,1110.9 977,1110.9 977.5,1111 978,1111 978.5,1111 979,1111.1 979.5,1111.1 980,1111.2 980.5,1111.2 981,1111.3 981.5,1111.3 982,1111.3 982.5,1111.4 983,1111.4 983.5,1111.5 984,1111.5 984.5,1111.6 985,1111.6 985.5,1111.6 986,1111.7 986.5,1111.7 987,1111.8 987.5,1111.8 988,1111.8 988.5,1111.9 989,1111.9 989.5,1112 990,1112 990.5,1112 991,1112.1 991.5,1112.1 992,1112.2 992.5,1112.2 993,1112.2 993.5,1112.3 994,1112.3 994.5,1112.4 995,1112.4 995.5,1112.4 996,1112.5 996.5,1112.5 997,1112.6 997.5,1112.6 998,1112.6 998.5,1112.7 999,1112.7 999.5,1112.8 1000,1112.8" stroke="#0000ff"/><path d="M97,1014.8 98,1014.3 99,1013.8 100,1013.4 101,1012.9 102,1012.5 103,1012.1 104,1011.8 105,1011.5 106,1011.1 107,1010.8 108,1010.5 109,1010.2 110,1010 111,1009.8 112,1009.8 113,1009.9 114,1010.1 115,1010.4 116,1010.8 117,1011.2 118,1011.7 119,1012.2 120,1012.8 121,1013.6 122,1014.5 123,1015.6 124,1016.7 125,1017.9 126,1019.2 127,1020.4 128,1021.9 129,1023.5 130,1025.2 131,1026.9 132,1028.5 133,1030 134,1031.4 135,1032.7 136,1033.9 137,1035.1 138,1036.3 139,1037.4 140,1038.4 141,1039.4 142,1040.3 143,1041.3 144,1042.2 145,1043 146,1043.9 147,1044.6 148,1045.4 149,1046.1 150,1046.8 151,1047.4 152,1048 153,1048.6 154,1049.2 155,1049.7 156,1050.2 157,1050.8 158,1051.3 159,1051.8 160,1052.3 161,1052.8 162,1053.3 163,1053.8 164,1054.3 165,1054.8 166,1055.3 167,1055.9 168,1056.4 169,1057 170,1057.6 171,1058.2 172,1058.8 173,1059.4 174,1060.1 175,1060.7 176,1061.3 177,1061.9 178,1062.6 179,1063.2 180,1063.8 181,1064.4 182,1065 183,1065.6 184,1066.2 185,1066.7 186,1067.3 187,1067.9 188,1068.5 189,1069.1 190,1069.7 191,1070.3 192,1070.8 193,1071.3 194,1071.8 195,1072.3 196,1072.8 197,1073.3 198,1073.8 199,1074.3 200,1074.9 201,1075.5 202,1076.2 203,1077 204,1078.1 205,1079.2 206,1079.9 207,1080.6 208,1081.2 209,1081.8 210,1082.3 211,1082.8 212,1083.2 213,1083.7 214,1084.2 215,1084.7 216,1085.2 217,1085.8 218,1086.4 219,1087.1 220,1087.8 221,1088.6 222,1089.3 223,1090.1 224,1090.9 225,1091.6 226,1092.3 227,1093 228,1093.6 229,1094.2 230,1094.7 231,1095.2 232,1095.7 233,1096.2 234,1096.6 235,1097 236,1097.5 237,1097.9 238,1098.3 239,1098.7 240,1099.2 241,1099.6 242,1100.1 243,1100.5 244,1101 245,1101.4 246,1101.9 247,1102.4 248,1102.8 249,1103.3 250,1103.7 251,1104.2 252,1104.6 253,1105 254,1105.4 255,1105.8 256,1106.1 257,1106.5 258,1106.9 259,1107.2 260,1107.5 261,1107.9 262,1108.2 263,1108.5 264,1108.9 265,1109.2 266,1109.5 267,1109.8 268,1110.2 269,1110.5 270,1110.8 271,1111.1 272,1111.4 273,1111.7 274,1112 275,1112.3 276,1112.6 277,1112.8 278,1113 279,1113.3 280,1113.5 281,1113.7 282,1114 283,1114.2 284,1114.4 285,1114.6 286,1114.7 287,1114.9 288,1115.1 289,1115.2 290,1115.3 291,1115.5 292,1115.6 293,1115.8 294,1115.9 295,1116 296,1116.1 297,1116.2 298,1116.3 299,1116.4 300,1116.4 301,1116.4 302,1116.4 303,1116.3 304,1116.3 305,1116.2 306,1116 307,1115.9 308,1115.8 309,1115.6 310,1115.5 311,1115.3 312,1115.8 313,1115.6 314,1112.8 315,1114.2 316,1113.8 317,1112.8 318,1114.2 319,1114.5 320,1113.4 321,1112.2 322,1110.8 323,1110.5 324,1111.1 325,1112.6 326,1114.2 327,1114.6 328,1112.9 329,1114.4 330,1114.4 331,1113.7 332,1113.2 333,1114.1 334,1114.3 335,1112.9 336,1113 337,1113.7 338,1114.4 339,1113.4 340,1113.6 341,1113.3 342,1112.8 343,1112.7 344,1112.5 345,1112.3 346,1112.2 347,1112 348,1111.7 349,1111.5 350,1111.3 351,1111.1 352,1110.8 353,1110.5 354,1110.1 355,1109.8 356,1109.4 357,1109.1 358,1108.7 359,1108.3 360,1107.9 361,1107.5 362,1107.1 363,1106.7 364,1106.3 365,1105.9 366,1105.4 367,1105 368,1104.6 369,1104.1 370,1103.7 371,1103.2 372,1102.7 373,1102.3 374,1101.8 375,1101.3 376,1100.8 377,1100.4 378,1099.9 379,1099.4 380,1098.8 381,1098.3 382,1097.8 383,1097.3 384,1096.8 385,1096.3 386,1095.8 387,1095.3 388,1094.8 389,1094.3 390,1093.8 391,1093.4 392,1092.9 393,1092.4 394,1091.9 395,1091.4 396,1090.8 397,1090.3 398,1089.7 399,1089.2 400,1088.6 401,1088 402,1087.3 403,1086.7 404,1086 405,1085.4 406,1084.7 407,1084 408,1083.3 409,1082.6 410,1081.9 411,1081.2 412,1080.5 413,1079.8 414,1079.1 415,1078.4 416,1077.6 417,1076.9 418,1076.1 419,1075.3 420,1074.5 421,1073.7 422,1072.9 423,1072.1 424,1071.2 425,1070.3 426,1069.5 427,1068.5 428,1067.6 429,1066.7 430,1065.8 431,1064.9 432,1063.9 433,1063 434,1062.1 435,1061.2 436,1060.3 437,1059.4 438,1058.5 439,1057.6 440,1056.7 441,1055.8 442,1054.9 443,1054 444,1053.1 445,1052.2 446,1051.3 447,1050.3 448,1049.3 449,1048.3 450,1047.2 451,1046.2 452,1045.1 453,1044 454,1042.8 455,1041.7 456,1040.5 457,1039.4 458,1038.2 459,1037 460,1035.8 461,1034.6 462,1033.4 463,1032.2 464,1031 465,1029.8 466,1028.6 467,1027.4 468,1026.2 469,1025 470,1023.7 471,1022.5 472,1021.3 473,1020 474,1018.8 475,1017.5 476,1016.3 477,1015 478,1013.7 479,1012.5 480,1011.2 481,1009.9 482,1008.7 483,1007.4 484,1006.1 485,1004.8 486,1003.5 487,1002.2 488,1000.9 489,999.6 490,998.2 491,996.9 492,995.5 493,994.2 494,992.9 495,991.6 496,990.2 497,988.9 498,987.6 499,986.3 500,985.1 501,983.8 502,982.6 503,981.4 504,980.2 505,979 506,977.8 507,976.6 508,975.4 509,974.2 510,973.1 511,971.9 512,970.8 513,969.7 514,968.5 515,967.4 516,966.3 517,965.2 518,964.1 519,963 520,961.9 521,960.8 522,959.7 523,958.6 524,957.5 525,956.5 526,955.4 527,954.3 528,953.3 529,952.2 530,951.2 531,950.1 532,949.1 533,948.1 534,947.1 535,946.1 536,945.1 537,944.1 538,943.1 539,942.1 540,941.2 541,940.2 542,939.2 543,938.3 544,937.3 545,936.4 546,935.5 547,934.5 548,933.6 549,932.7 550,931.8 551,931 552,930.1 553,929.3 554,928.5 555,927.7 556,926.9 557,926.2 558,925.4 559,924.7 560,923.9 561,923.2 562,922.5 563,921.7 564,921 565,920.4 566,919.7 567,919 568,918.4 569,917.8 570,917.3 571,916.7 572,916.2 573,915.7 574,915.3 575,914.8 576,914.4 577,914 578,913.6 579,913.3 580,912.9 581,912.6 582,912.2 583,911.9 584,911.7 585,911.4 586,911.2 587,911 588,910.8 589,910.5 590,910.3 591,910.2 592,910 593,909.9 594,909.8 595,909.8 596,909.8 597,909.9 598,910 599,910.1 600,910.2 601,910.3 602,910.5 603,910.7 604,910.9 605,911.1 606,911.3 607,911.5 608,911.7 609,912 610,912.3 611,912.6 612,913.1 613,913.5 614,914 615,914.6 616,915.2 617,915.8 618,916.4 619,917 620,917.7 621,918.3 622,919 623,919.7 624,920.3 625,921 626,921.6 627,922.2 628,922.8 629,923.5 630,924.1 631,924.7 632,925.4 633,926 634,926.7 635,927.4 636,928.1 637,928.8 638,929.5 639,930.3 640,931 641,931.8 642,932.6 643,933.4 644,934.3 645,935.2 646,936.1 647,937 648,938 649,939.1 650,940.1 651,941.2 652,942.3 653,943.4 654,944.6 655,945.7 656,946.9 657,948.1 658,949.2 659,950.4 660,951.6 661,952.8 662,954 663,955.2 664,956.4 665,957.7 666,958.9 667,960.2 668,961.4 669,962.7 670,964 671,965.3 672,966.6 673,968 674,969.3 675,970.6 676,972 677,973.3 678,974.7 679,976.1 680,977.4 681,978.8 682,980.2 683,981.5 684,982.9 685,984.3 686,985.7 687,987.2 688,988.7 689,990.3 690,992 691,993.9 692,995.8 693,997.7 694,999.6 695,1001.4 696,1003.2 697,1004.9 698,1006.5 699,1008.1 700,1009.7 701,1011.3 702,1012.8 703,1014.3 704,1015.8 705,1017.3 706,1018.7 707,1020.2 708,1021.6 709,1023 710,1024.3 711,1025.5 712,1026.7 713,1027.7 714,1028.8 715,1029.8 716,1030.9 717,1031.9 718,1032.6 719,1033.6 720,1036.1 721,1038.5 722,1040.1 723,1041 724,1042 725,1042.2 726,1043.5 727,1046.4 728,1047.2 729,1047.8 730,1048.7 731,1050.9 732,1050.9 733,1051 734,1052.3 735,1054.6 736,1055.1 737,1054.7 738,1055.8 739,1057.4 740,1058.8 741,1059.8 742,1060.4 743,1061.2 744,1062.1 745,1062.9 746,1063.7 747,1064.6 748,1065.4 749,1066.2 750,1067 751,1067.8 752,1068.5 753,1069.3 754,1070.1 755,1070.8 756,1071.6 757,1072.3 758,1073 759,1073.7 760,1074.4 761,1075.1 762,1075.8 763,1076.5 764,1077.2 765,1077.9 766,1078.6 767,1079.3 768,1080 769,1080.7 770,1081.4 771,1082.1 772,1082.9 773,1083.6 774,1084.4 775,1085.1 776,1085.8 777,1086.5 778,1087.1 779,1087.8 780,1088.4 781,1088.9 782,1089.4 783,1089.9 784,1090.4 785,1090.8 786,1091.3 787,1091.8 788,1092.3 789,1092.9 790,1093.4 791,1094 792,1094.6 793,1095.2 794,1095.8 795,1096.3 796,1096.9 797,1097.4 798,1097.9 799,1098.4 800,1098.9 801,1099.3 802,1099.7 803,1100.1 804,1100.5 805,1100.9 806,1101.3 807,1101.7 808,1102.1 809,1102.5 810,1102.8 811,1103.2 812,1103.6 813,1103.9 814,1104.3 815,1104.7 816,1105.1 817,1105.4 818,1105.8 819,1106.1 820,1106.5 821,1106.8 822,1107.1 823,1107.4 824,1107.7 825,1108 826,1108.2 827,1108.5 828,1108.8 829,1109 830,1109.3 831,1109.5 832,1109.7 833,1110 834,1110.2 835,1110.4 836,1110.6 837,1110.8 838,1111 839,1111.2 840,1111.4 841,1111.5 842,1111.7 843,1111.9 844,1112 845,1112.2 846,1112.4 847,1112.5 848,1112.6 849,1112.8 850,1112.9 851,1113.1 852,1113.2 853,1113.3 854,1113.5 855,1113.6 856,1113.7 857,1113.8 858,1113.9 859,1114 860,1114.1 861,1114.2 862,1114.3 863,1114.4 864,1114.4 865,1114.5 866,1114.6 867,1114.7 868,1114.7 869,1114.8 870,1114.9 871,1114.9 872,1115 873,1115 874,1115.1 875,1115.1 876,1115.2 877,1115.2 878,1115.2 879,1115.3 880,1115.3 881,1115.4 882,1115.4 883,1115.5 884,1115.5 885,1115.5 886,1115.6 887,1115.6 888,1115.6 889,1115.7 890,1115.7 891,1115.7 892,1115.7 893,1115.8 894,1115.8 895,1115.8 896,1115.8 897,1115.8 898,1115.9 899,1115.9 900,1115.9 901,1115.9 902,1115.9 903,1115.9 904,1116 905,1116 906,1116 907,1116 908,1116 909,1116 910,1116 911,1116 912,1116 913,1116.1 914,1116.1 915,1116.1 916,1116.1 917,1116.1 918,1116.1 919,1116.1 920,1116.1 921,1116.1 922,1116.1 923,1116.2 924,1116.2 925,1116.2 926,1116.2 927,1116.2 928,1116.2 929,1116.2 930,1116.2 931,1116.2 932,1116.2 933,1116.3 934,1116.3 935,1116.3 936,1116.3 937,1116.3 938,1116.3 939,1116.3 940,1116.3 941,1116.4 942,1116.4 943,1116.4 944,1116.4 945,1116.4 946,1116.4 947,1116.4 948,1116.5 949,1116.5 950,1116.5 951,1116.5 952,1116.5 953,1116.5 954,1116.6 955,1116.6 956,1116.6 957,1116.6 958,1116.6 959,1116.6 960,1116.7 961,1116.7 962,1116.7 963,1116.7 964,1116.7 965,1116.7 966,1116.8 967,1116.8 968,1116.8 969,1116.8 970,1116.8 971,1116.9 972,1116.9 973,1116.9 974,1116.9 975,1116.9 976,1117 977,1117 978,1117 979,1117 980,1117 981,1117.1 982,1117.1 983,1117.1 984,1117.1 985,1117.2 986,1117.2 987,1117.2 988,1117.2 989,1117.2 990,1117.3 991,1117.3 992,1117.3 993,1117.3 994,1117.4 995,1117.4 996,1117.4 997,1117.4 998,1117.5 999,1117.5 1000,1117.5" stroke="#008000"/><path d="M97,1006.2 98,1006.3 99,1006.5 100,1006.6 101,1006.8 102,1006.9 103,1007.1 104,1007.3 105,1007.5 106,1007.6 107,1007.8 108,1008 109,1008.2 110,1008.4 111,1008.7 112,1009 113,1009.3 114,1009.7 115,1010.1 116,1010.5 117,1011.1 118,1011.6 119,1012.2 120,1012.9 121,1013.6 122,1014.5 123,1015.4 124,1016.4 125,1017.5 126,1018.6 127,1019.8 128,1021.2 129,1022.7 130,1024.4 131,1026 132,1027.6 133,1029.1 134,1030.4 135,1031.7 136,1032.9 137,1034.1 138,1035.2 139,1036.3 140,1037.4 141,1038.4 142,1039.4 143,1040.3 144,1041.2 145,1042.1 146,1042.9 147,1043.7 148,1044.5 149,1045.2 150,1045.9 151,1046.5 152,1047.1 153,1047.7 154,1048.2 155,1048.7 156,1049.3 157,1049.8 158,1050.3 159,1050.8 160,1051.3 161,1051.8 162,1052.3 163,1052.7 164,1053.2 165,1053.7 166,1054.2 167,1054.8 168,1055.3 169,1055.9 170,1056.5 171,1057.1 172,1057.7 173,1058.3 174,1058.9 175,1059.5 176,1060.1 177,1060.7 178,1061.4 179,1062 180,1062.6 181,1063.2 182,1063.8 183,1064.4 184,1065 185,1065.6 186,1066.2 187,1066.8 188,1067.4 189,1068 190,1068.6 191,1069.2 192,1069.7 193,1070.3 194,1070.9 195,1071.4 196,1072 197,1072.5 198,1073.1 199,1073.6 200,1074.1 201,1074.7 202,1075.2 203,1075.8 204,1076.3 205,1076.8 206,1077.3 207,1077.9 208,1078.4 209,1078.9 210,1079.5 211,1080 212,1080.6 213,1081.1 214,1081.7 215,1082.3 216,1082.8 217,1083.4 218,1084 219,1084.6 220,1085.2 221,1085.8 222,1086.5 223,1087.1 224,1087.7 225,1088.3 226,1088.9 227,1089.5 228,1090.1 229,1090.6 230,1091.1 231,1091.6 232,1092.1 233,1092.5 234,1093 235,1093.4 236,1093.9 237,1094.3 238,1094.7 239,1095.2 240,1095.6 241,1096 242,1096.4 243,1096.8 244,1097.2 245,1097.6 246,1098 247,1098.4 248,1098.8 249,1099.2 250,1099.6 251,1100 252,1100.4 253,1100.8 254,1101.2 255,1101.7 256,1102.1 257,1102.6 258,1103 259,1103.5 260,1104 261,1104.4 262,1104.9 263,1105.3 264,1105.8 265,1106.2 266,1106.6 267,1107 268,1107.5 269,1107.9 270,1108.3 271,1108.7 272,1109.1 273,1109.5 274,1109.9 275,1110.3 276,1110.6 277,1111 278,1111.3 279,1111.7 280,1112 281,1112.3 282,1112.6 283,1112.9 284,1113.2 285,1113.5 286,1113.8 287,1114.1 288,1114.4 289,1114.6 290,1114.9 291,1115.2 292,1115.5 293,1115.7 294,1116 295,1116.3 296,1116.5 297,1116.8 298,1117 299,1117.2 300,1117.4 301,1117.6 302,1117.8 303,1118 304,1118.2 305,1118.4 306,1118.5 307,1118 308,1119.3 309,1120.2 310,1119.4 311,1118.2 312,1118.7 313,1119.4 314,1119.7 315,1119.1 316,1119.2 317,1119.3 318,1117.6 319,1116.9 320,1116.3 321,1116.5 322,1116.4 323,1116.8 324,1117.8 325,1118.9 326,1119.6 327,1119.7 328,1119.1 329,1119.5 330,1119.9 331,1119.8 332,1118.5 333,1116.3 334,1115.4 335,1116.6 336,1114.2 337,1114.3 338,1115.6 339,1115.3 340,1114.5 341,1114.3 342,1114.1 343,1113.9 344,1113.8 345,1113.6 346,1113.5 347,1113.3 348,1113.2 349,1113 350,1112.9 351,1112.8 352,1112.6 353,1112.5 354,1112.4 355,1112.3 356,1112.2 357,1112 358,1111.9 359,1111.8 360,1111.6 361,1111.5 362,1111.3 363,1111.1 364,1110.9 365,1110.6 366,1110.3 367,1110 368,1109.7 369,1109.4 370,1109.1 371,1108.7 372,1108.4 373,1108 374,1107.7 375,1107.3 376,1107 377,1106.6 378,1106.2 379,1105.8 380,1105.4 381,1105 382,1104.5 383,1104.1 384,1103.7 385,1103.3 386,1102.9 387,1102.5 388,1102.1 389,1101.7 390,1101.4 391,1101 392,1100.6 393,1100.2 394,1099.9 395,1099.5 396,1099 397,1098.6 398,1098.2 399,1097.7 400,1097.2 401,1096.7 402,1096.2 403,1095.6 404,1095.1 405,1094.5 406,1093.9 407,1093.4 408,1092.8 409,1092.2 410,1091.5 411,1090.9 412,1090.3 413,1089.6 414,1088.9 415,1088.2 416,1087.5 417,1086.8 418,1086.1 419,1085.4 420,1084.6 421,1083.9 422,1083.1 423,1082.4 424,1081.6 425,1080.8 426,1080 427,1079.2 428,1078.4 429,1077.6 430,1076.8 431,1075.9 432,1075.1 433,1074.3 434,1073.5 435,1072.7 436,1071.9 437,1071.1 438,1070.3 439,1069.5 440,1068.7 441,1067.9 442,1067 443,1066.2 444,1065.3 445,1064.5 446,1063.6 447,1062.7 448,1061.8 449,1060.9 450,1059.9 451,1059 452,1058 453,1057 454,1056 455,1055 456,1053.9 457,1052.9 458,1051.9 459,1050.9 460,1049.8 461,1048.8 462,1047.8 463,1046.8 464,1045.8 465,1044.9 466,1043.9 467,1043 468,1042 469,1041.1 470,1040.2 471,1039.3 472,1038.4 473,1037.5 474,1036.6 475,1035.7 476,1034.8 477,1033.9 478,1033 479,1032.2 480,1031.3 481,1030.4 482,1029.5 483,1028.6 484,1027.7 485,1026.8 486,1025.9 487,1025 488,1024.1 489,1023.2 490,1022.3 491,1021.4 492,1020.5 493,1019.6 494,1018.6 495,1017.7 496,1016.8 497,1015.9 498,1015 499,1014.1 500,1013.2 501,1012.3 502,1011.4 503,1010.5 504,1009.6 505,1008.7 506,1007.7 507,1006.8 508,1005.8 509,1004.9 510,1004 511,1003 512,1002.1 513,1001.2 514,1000.3 515,999.4 516,998.5 517,997.7 518,996.8 519,996 520,995.2 521,994.4 522,993.7 523,992.9 524,992.2 525,991.4 526,990.7 527,990 528,989.2 529,988.5 530,987.9 531,987.2 532,986.5 533,985.8 534,985.2 535,984.5 536,983.9 537,983.3 538,982.6 539,982 540,981.4 541,980.8 542,980.2 543,979.6 544,979.1 545,978.5 546,977.9 547,977.4 548,976.8 549,976.3 550,975.7 551,975.2 552,974.7 553,974.2 554,973.7 555,973.2 556,972.8 557,972.3 558,971.8 559,971.4 560,970.9 561,970.5 562,970 563,969.6 564,969.1 565,968.7 566,968.3 567,967.9 568,967.5 569,967.2 570,966.8 571,966.5 572,966.1 573,965.8 574,965.6 575,965.3 576,965 577,964.7 578,964.5 579,964.2 580,963.9 581,963.7 582,963.4 583,963.2 584,962.9 585,962.7 586,962.5 587,962.4 588,962.2 589,962.1 590,962.1 591,962 592,962 593,962 594,962 595,962.1 596,962.1 597,962.1 598,962.2 599,962.2 600,962.3 601,962.4 602,962.5 603,962.6 604,962.6 605,962.7 606,962.9 607,963 608,963.1 609,963.2 610,963.3 611,963.5 612,963.7 613,964 614,964.3 615,964.7 616,965.1 617,965.5 618,966 619,966.5 620,967 621,967.5 622,968 623,968.6 624,969.1 625,969.6 626,970.1 627,970.6 628,971.1 629,971.6 630,972.2 631,972.7 632,973.3 633,973.9 634,974.5 635,975.1 636,975.7 637,976.3 638,977 639,977.6 640,978.3 641,978.9 642,979.6 643,980.3 644,981 645,981.7 646,982.4 647,983.1 648,983.8 649,984.6 650,985.3 651,986.1 652,986.9 653,987.7 654,988.5 655,989.3 656,990.1 657,991 658,991.8 659,992.7 660,993.6 661,994.5 662,995.4 663,996.4 664,997.4 665,998.3 666,999.4 667,1000.4 668,1001.4 669,1002.5 670,1003.5 671,1004.6 672,1005.6 673,1006.6 674,1007.7 675,1008.7 676,1009.8 677,1010.9 678,1011.9 679,1013 680,1014.1 681,1015.2 682,1016.4 683,1017.6 684,1018.8 685,1020.1 686,1021.4 687,1022.8 688,1024.2 689,1025.6 690,1027.1 691,1028.6 692,1030 693,1031.5 694,1032.9 695,1034.3 696,1035.6 697,1036.9 698,1038.2 699,1039.5 700,1040.7 701,1042 702,1043.2 703,1044.5 704,1045.6 705,1046.8 706,1047.9 707,1049 708,1050 709,1050.9 710,1051.7 711,1052.5 712,1053.2 713,1053.9 714,1054.6 715,1055.4 716,1056.4 717,1057.6 718,1059.1 719,1061.9 720,1064.6 721,1064.4 722,1065 723,1065.7 724,1065.7 725,1066.3 726,1067 727,1067.7 728,1066.1 729,1066.5 730,1067.9 731,1068 732,1067.1 733,1066.2 734,1065.5 735,1066.6 736,1067.6 737,1068.3 738,1068.1 739,1068.9 740,1069.9 741,1070.7 742,1071.4 743,1072.1 744,1072.8 745,1073.4 746,1074 747,1074.6 748,1075.2 749,1075.8 750,1076.4 751,1077 752,1077.6 753,1078.2 754,1078.8 755,1079.4 756,1080 757,1080.5 758,1081.1 759,1081.7 760,1082.2 761,1082.8 762,1083.3 763,1083.9 764,1084.4 765,1085 766,1085.5 767,1086 768,1086.6 769,1087.1 770,1087.6 771,1088.2 772,1088.7 773,1089.2 774,1089.8 775,1090.3 776,1090.8 777,1091.3 778,1091.7 779,1092.1 780,1092.5 781,1092.9 782,1093.2 783,1093.5 784,1093.8 785,1094.1 786,1094.5 787,1094.8 788,1095.2 789,1095.5 790,1095.9 791,1096.3 792,1096.7 793,1097.2 794,1097.6 795,1098 796,1098.4 797,1098.8 798,1099.2 799,1099.6 800,1100 801,1100.4 802,1100.8 803,1101.1 804,1101.5 805,1101.9 806,1102.3 807,1102.7 808,1103 809,1103.4 810,1103.7 811,1104.1 812,1104.5 813,1104.8 814,1105.2 815,1105.5 816,1105.9 817,1106.2 818,1106.5 819,1106.9 820,1107.2 821,1107.5 822,1107.7 823,1108 824,1108.2 825,1108.5 826,1108.7 827,1108.9 828,1109.1 829,1109.3 830,1109.5 831,1109.7 832,1109.9 833,1110.1 834,1110.2 835,1110.4 836,1110.6 837,1110.7 838,1110.9 839,1111.1 840,1111.2 841,1111.4 842,1111.5 843,1111.7 844,1111.8 845,1111.9 846,1112.1 847,1112.2 848,1112.3 849,1112.4 850,1112.5 851,1112.7 852,1112.8 853,1112.9 854,1113 855,1113.1 856,1113.2 857,1113.2 858,1113.3 859,1113.4 860,1113.5 861,1113.6 862,1113.6 863,1113.7 864,1113.8 865,1113.8 866,1113.9 867,1114 868,1114 869,1114.1 870,1114.2 871,1114.2 872,1114.3 873,1114.3 874,1114.4 875,1114.4 876,1114.5 877,1114.5 878,1114.6 879,1114.6 880,1114.7 881,1114.7 882,1114.8 883,1114.8 884,1114.8 885,1114.9 886,1114.9 887,1115 888,1115 889,1115 890,1115.1 891,1115.1 892,1115.1 893,1115.2 894,1115.2 895,1115.2 896,1115.2 897,1115.2 898,1115.3 899,1115.3 900,1115.3 901,1115.3 902,1115.3 903,1115.4 904,1115.4 905,1115.4 906,1115.4 907,1115.4 908,1115.4 909,1115.4 910,1115.5 911,1115.5 912,1115.5 913,1115.5 914,1115.5 915,1115.5 916,1115.5 917,1115.5 918,1115.6 919,1115.6 920,1115.6 921,1115.6 922,1115.6 923,1115.6 924,1115.6 925,1115.6 926,1115.6 927,1115.7 928,1115.7 929,1115.7 930,1115.7 931,1115.7 932,1115.7 933,1115.7 934,1115.7 935,1115.7 936,1115.8 937,1115.8 938,1115.8 939,1115.8 940,1115.8 941,1115.8 942,1115.9 943,1115.9 944,1115.9 945,1115.9 946,1115.9 947,1115.9 948,1116 949,1116 950,1116 951,1116 952,1116.1 953,1116.1 954,1116.1 955,1116.1 956,1116.1 957,1116.2 958,1116.2 959,1116.2 960,1116.2 961,1116.3 962,1116.3 963,1116.3 964,1116.3 965,1116.4 966,1116.4 967,1116.4 968,1116.5 969,1116.5 970,1116.5 971,1116.5 972,1116.6 973,1116.6 974,1116.6 975,1116.7 976,1116.7 977,1116.7 978,1116.8 979,1116.8 980,1116.8 981,1116.8 982,1116.9 983,1116.9 984,1116.9 985,1117 986,1117 987,1117 988,1117.1 989,1117.1 990,1117.1 991,1117.2 992,1117.2 993,1117.2 994,1117.3 995,1117.3 996,1117.4 997,1117.4 998,1117.4 999,1117.5 1000,1117.5" stroke="#00ff00"/></g><g clip-path="url(#cb)" style="fill:#808000"><circle cx="94.9" cy="915.2" r="4.05"/><circle cx="114.4" cy="954.7" r="4.05"/><circle cx="133.9" cy="976.0" r="4.05"/><circle cx="153.4" cy="993.5" r="4.05"/><circle cx="172.9" cy="1007.8" r="4.05"/><circle cx="192.5" cy="1022.9" r="4.05"/><circle cx="212.0" cy="1036.2" r="4.05"/><circle cx="231.5" cy="1048.0" r="4.05"/><circle cx="251.0" cy="1057.1" r="4.05"/><circle cx="270.5" cy="1063.4" r="4.05"/><circle cx="290.0" cy="1069.4" r="4.05"/><circle cx="309.5" cy="1073.6" r="4.05"/><circle cx="329.0" cy="1076.6" r="4.05"/><circle cx="348.5" cy="1077.4" r="4.05"/><circle cx="368.0" cy="1077.2" r="4.05"/><circle cx="387.6" cy="1076.9" r="4.05"/><circle cx="407.1" cy="1076.6" r="4.05"/><circle cx="426.6" cy="1077.4" r="4.05"/><circle cx="446.1" cy="1078.3" r="4.05"/><circle cx="465.6" cy="1078.8" r="4.05"/><circle cx="485.1" cy="1080.0" r="4.05"/><circle cx="504.6" cy="1081.4" r="4.05"/><circle cx="524.1" cy="1083.2" r="4.05"/><circle cx="543.6" cy="1085.0" r="4.05"/><circle cx="563.1" cy="1086.8" r="4.05"/><circle cx="582.7" cy="1088.6" r="4.05"/><circle cx="602.2" cy="1090.7" r="4.05"/><circle cx="621.7" cy="1092.2" r="4.05"/><circle cx="641.2" cy="1094.0" r="4.05"/><circle cx="660.7" cy="1095.4" r="4.05"/><circle cx="680.2" cy="1096.8" r="4.05"/><circle cx="699.7" cy="1097.9" r="4.05"/><circle cx="719.2" cy="1099.4" r="4.05"/><circle cx="738.7" cy="1100.4" r="4.05"/><circle cx="758.2" cy="1101.0" r="4.05"/><circle cx="777.8" cy="1101.5" r="4.05"/><circle cx="797.3" cy="1103.0" r="4.05"/><circle cx="816.8" cy="1104.4" r="4.05"/><circle cx="836.3" cy="1105.8" r="4.05"/><circle cx="855.8" cy="1107.2" r="4.05"/><circle cx="875.3" cy="1109.1" r="4.05"/><circle cx="894.8" cy="1110.5" r="4.05"/><circle cx="914.3" cy="1111.4" r="4.05"/><circle cx="933.8" cy="1113.0" r="4.05"/><circle cx="953.3" cy="1114.2" r="4.05"/><circle cx="972.9" cy="1115.0" r="4.05"/><circle cx="992.4" cy="1116.1" r="4.05"/></g><path d="M588.80,828.10 H608.00 V864.70 H616.68 L598.40,882.55 L580.12,864.70 H588.80 Z" fill="#fff" stroke="#000" stroke-width="3.8" stroke-miterlimit="20"/><path d="M588.80,910.70 H608.00 V947.00 H616.67 L598.40,964.75 L580.13,947.00 H588.80 Z" fill="#fff" stroke="#000" stroke-width="3.8" stroke-miterlimit="20"/><rect x="97" y="642.5" width="903" height="505.6" fill="none" stroke="#000" stroke-width="2"/><g stroke="#000" stroke-width="2" stroke-linecap="round"><line x1="97.0" y1="1148.1" x2="97.0" y2="1156.5"/><line x1="179.1" y1="1148.1" x2="179.1" y2="1152.6"/><line x1="261.2" y1="1148.1" x2="261.2" y2="1156.5"/><line x1="343.3" y1="1148.1" x2="343.3" y2="1152.6"/><line x1="425.4" y1="1148.1" x2="425.4" y2="1156.5"/><line x1="507.4" y1="1148.1" x2="507.4" y2="1152.6"/><line x1="589.5" y1="1148.1" x2="589.5" y2="1156.5"/><line x1="671.6" y1="1148.1" x2="671.6" y2="1152.6"/><line x1="753.7" y1="1148.1" x2="753.7" y2="1156.5"/><line x1="835.8" y1="1148.1" x2="835.8" y2="1152.6"/><line x1="917.9" y1="1148.1" x2="917.9" y2="1156.5"/><line x1="1000.0" y1="1148.1" x2="1000.0" y2="1152.6"/><line x1="88" y1="1118.5" x2="97" y2="1118.5"/><line x1="92.5" y1="969.9" x2="97" y2="969.9"/><line x1="88" y1="821.2" x2="97" y2="821.2"/><line x1="92.5" y1="672.5" x2="97" y2="672.5"/></g><text x="97.0" y="1193.5" text-anchor="middle" class="t33">300</text><text x="261.2" y="1193.5" text-anchor="middle" class="t33">400</text><text x="425.4" y="1193.5" text-anchor="middle" class="t33">500</text><text x="589.5" y="1193.5" text-anchor="middle" class="t33">600</text><text x="753.7" y="1193.5" text-anchor="middle" class="t33">700</text><text x="917.9" y="1193.5" text-anchor="middle" class="t33">800</text><text x="76.5" y="1127.9" text-anchor="end" class="t33">0</text><path d="M60.1,811.7 C63,811.7 65.5,810.7 66.3,807.8 L70,807.8 L70,830.9 L65.9,830.9 L65.9,815.1 L60.1,815.1 Z" fill="#000"/><text transform="translate(27,895.8) rotate(-90)" text-anchor="middle" class="t32">Absorption</text><text transform="translate(-0.4,22.6) scale(0.92,1)" class="t42">a</text><text x="-0.5" y="653" class="t42">b</text><path d="M564.8,56.8 L567.9,56.8 L567.9,67 C567.9,70 569.5,71.2 571.3,71.2 C573,71.2 574,70 574,68 L574,56.8 L577,56.8 L577,68.5 C577,70.3 577.6,71.3 578.4,71.3 C579.3,71.3 580,70.5 580.6,69.3 L581.2,69.8 C580.4,72 579.3,73.8 577.4,73.8 C576,73.8 575,72.8 574.6,71.6 C573.6,73 572.3,73.8 570.5,73.8 C569.2,73.8 568.3,73.4 567.7,72.9 C568.2,74.5 567.9,76.5 567.6,78 C567.3,79.5 566.5,80.1 565.6,80.1 C564.6,80.1 563.8,79.4 563.8,78 C563.8,76.6 564.8,74.5 564.8,72.5 Z" fill="#000"/><path d="M564.8,56.8 L567.9,56.8 L567.9,67 C567.9,70 569.5,71.2 571.3,71.2 C573,71.2 574,70 574,68 L574,56.8 L577,56.8 L577,68.5 C577,70.3 577.6,71.3 578.4,71.3 C579.3,71.3 580,70.5 580.6,69.3 L581.2,69.8 C580.4,72 579.3,73.8 577.4,73.8 C576,73.8 575,72.8 574.6,71.6 C573.6,73 572.3,73.8 570.5,73.8 C569.2,73.8 568.3,73.4 567.7,72.9 C568.2,74.5 567.9,76.5 567.6,78 C567.3,79.5 566.5,80.1 565.6,80.1 C564.6,80.1 563.8,79.4 563.8,78 C563.8,76.6 564.8,74.5 564.8,72.5 Z" fill="#000" transform="translate(-3.7,617.3)"/><text transform="translate(439.70,72.80) scale(1.0123,1)" style="font-size:31px;font-weight:bold;fill:#000">MnCl</text><text transform="translate(515.01,80.20) scale(1.1902,1)" style="font-size:21.5px;font-weight:bold;fill:#000">2</text><text transform="translate(537.38,72.80) scale(1.0044,1)" style="font-size:31px;font-weight:bold;fill:#000">5</text><text transform="translate(581.12,72.80) scale(1.0013,1)" style="font-size:31px;font-weight:bold;fill:#000">M</text><text transform="translate(402.00,690.00) scale(1.0109,1)" style="font-size:31px;font-weight:bold;fill:#000">MnCl</text><text transform="translate(477.56,698.10) scale(1.1220,1)" style="font-size:21.5px;font-weight:bold;fill:#000">2</text><text transform="translate(499.22,690.00) scale(1.0045,1)" style="font-size:31px;font-weight:bold;fill:#000">240</text><text transform="translate(578.03,690.00) scale(0.9967,1)" style="font-size:31px;font-weight:bold;fill:#000">M</text><text transform="translate(772.45,137.00) scale(0.9758,1)" style="font-size:30px;font-weight:bold;fill:#000">Mn-depl. PSII</text><text transform="translate(802.37,171.60) scale(0.9716,1)" style="font-size:30px;font-weight:bold;fill:#000">+ DCPIP:</text><text transform="translate(833.59,205.90) scale(0.9665,1)" style="font-size:30px;font-weight:bold;fill:#ff0000">dark</text><text transform="translate(795.67,240.90) scale(0.9721,1)" style="font-size:30px;font-weight:bold;fill:#0000ff">3 min light</text><text transform="translate(772.45,755.50) scale(0.9758,1)" style="font-size:30px;font-weight:bold;fill:#000">Mn-depl. PSII</text><text transform="translate(802.37,790.10) scale(0.9716,1)" style="font-size:30px;font-weight:bold;fill:#000">+ DCPIP:</text><text transform="translate(833.59,824.40) scale(0.9665,1)" style="font-size:30px;font-weight:bold;fill:#ff0000">dark</text><text transform="translate(795.67,859.40) scale(0.9721,1)" style="font-size:30px;font-weight:bold;fill:#0000ff">3 min light</text><text transform="translate(772.75,309.80) scale(0.9753,1)" style="font-size:30px;font-weight:bold;fill:#e46c0a">Mn-depl. PSII</text><text transform="translate(798.99,344.50) scale(0.9532,1)" style="font-size:30px;font-weight:bold;fill:#e46c0a">no DCPIP</text><text transform="translate(833.59,379.00) scale(0.9665,1)" style="font-size:30px;font-weight:bold;fill:#e46c0a">dark</text><text transform="translate(225.00,332.70) scale(0.9508,1)" style="font-size:30px;font-weight:bold;fill:#008000">DCPIP</text><text transform="translate(313.67,324.40) scale(0.9715,1)" style="font-size:19px;font-weight:bold;fill:#008000">ox</text><text transform="translate(251.89,367.50) scale(0.9681,1)" style="font-size:30px;font-weight:bold;fill:#008000">dark</text><text transform="translate(225.09,402.10) scale(0.9542,1)" style="font-size:30px;font-weight:bold;fill:#00ff00">DCPIP</text><text transform="translate(313.59,393.70) scale(0.9432,1)" style="font-size:19px;font-weight:bold;fill:#00ff00">ox</text><text transform="translate(210.18,436.60) scale(0.9647,1)" style="font-size:30px;font-weight:bold;fill:#00ff00">3 min light</text><text transform="translate(214.56,955.40) scale(0.9716,1)" style="font-size:30px;font-weight:bold;fill:#948a54">Mn-oxide</text><text transform="translate(205.37,989.70) scale(0.9694,1)" style="font-size:30px;font-weight:bold;fill:#948a54">3 min light</text><text transform="translate(251.70,1024.40) scale(1.0030,1)" style="font-size:30px;font-weight:bold;fill:#948a54">(x5)</text><text transform="translate(420.90,1246.20) scale(0.9965,1)" style="font-size:32.5px;font-weight:bold;fill:#000">Wavelength / nm</text></svg></body></html>
